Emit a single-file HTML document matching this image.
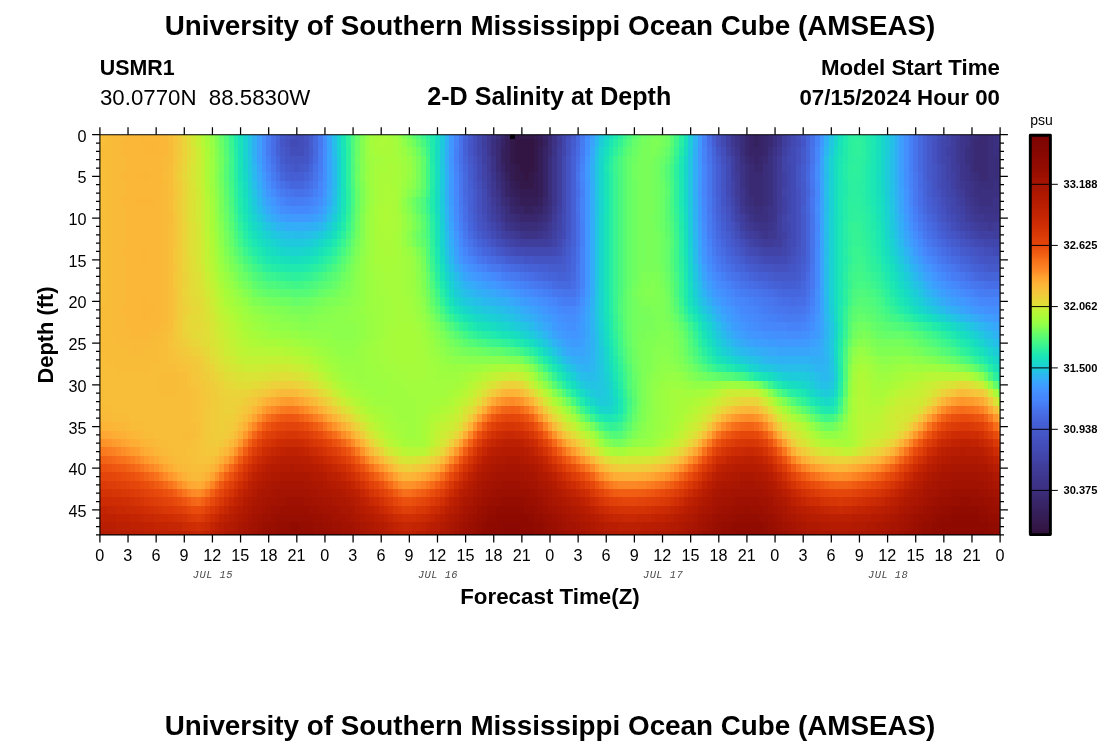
<!DOCTYPE html>
<html><head><meta charset="utf-8"><title>USM Ocean Cube</title>
<style>
html,body{margin:0;padding:0;background:#fff;}
body{width:1100px;height:750px;position:relative;overflow:hidden;font-family:"Liberation Sans",sans-serif;color:#000;}
.t{position:absolute;white-space:nowrap;line-height:1;}
.b{font-weight:bold;}
.m{font-family:"Liberation Mono",monospace;font-style:italic;color:#4a4a4a;letter-spacing:0.45px;}
svg{position:absolute;left:0;top:0;}
</style></head><body>
<svg width="1100" height="750" viewBox="0 0 1100 750">
<defs><linearGradient id="cb" x1="0" y1="0" x2="0" y2="1"><stop offset="0.0000" stop-color="#7a0403"/><stop offset="0.0125" stop-color="#7e0502"/><stop offset="0.0250" stop-color="#810602"/><stop offset="0.0375" stop-color="#850702"/><stop offset="0.0500" stop-color="#880802"/><stop offset="0.0625" stop-color="#8b0902"/><stop offset="0.0750" stop-color="#920b01"/><stop offset="0.0875" stop-color="#950d01"/><stop offset="0.1000" stop-color="#9b0f01"/><stop offset="0.1125" stop-color="#a11201"/><stop offset="0.1250" stop-color="#a71401"/><stop offset="0.1375" stop-color="#a91601"/><stop offset="0.1500" stop-color="#af1801"/><stop offset="0.1625" stop-color="#b41b01"/><stop offset="0.1750" stop-color="#b91e02"/><stop offset="0.1875" stop-color="#be2102"/><stop offset="0.2000" stop-color="#c32503"/><stop offset="0.2125" stop-color="#c82803"/><stop offset="0.2250" stop-color="#ce2d04"/><stop offset="0.2375" stop-color="#d43305"/><stop offset="0.2500" stop-color="#da3907"/><stop offset="0.2625" stop-color="#df3f08"/><stop offset="0.2750" stop-color="#e4450a"/><stop offset="0.2875" stop-color="#ec530f"/><stop offset="0.3000" stop-color="#f26014"/><stop offset="0.3125" stop-color="#f76f1a"/><stop offset="0.3250" stop-color="#fa7b1f"/><stop offset="0.3375" stop-color="#fc8725"/><stop offset="0.3500" stop-color="#fe992c"/><stop offset="0.3625" stop-color="#fea933"/><stop offset="0.3750" stop-color="#fbb637"/><stop offset="0.3875" stop-color="#f7c13a"/><stop offset="0.4000" stop-color="#f1cb3a"/><stop offset="0.4125" stop-color="#e9d539"/><stop offset="0.4250" stop-color="#dfdf37"/><stop offset="0.4375" stop-color="#bef434"/><stop offset="0.4500" stop-color="#affa37"/><stop offset="0.4625" stop-color="#a1fd3d"/><stop offset="0.4750" stop-color="#8fff49"/><stop offset="0.4875" stop-color="#79fe59"/><stop offset="0.5000" stop-color="#61fc6c"/><stop offset="0.5125" stop-color="#4ef97d"/><stop offset="0.5250" stop-color="#3cf58e"/><stop offset="0.5375" stop-color="#2aefa1"/><stop offset="0.5500" stop-color="#1de7b2"/><stop offset="0.5625" stop-color="#18dec0"/><stop offset="0.5750" stop-color="#1ad4d0"/><stop offset="0.5875" stop-color="#20c7df"/><stop offset="0.6000" stop-color="#2cb7f0"/><stop offset="0.6125" stop-color="#35abf8"/><stop offset="0.6250" stop-color="#3d9efe"/><stop offset="0.6375" stop-color="#4294ff"/><stop offset="0.6500" stop-color="#458afc"/><stop offset="0.6625" stop-color="#4685fa"/><stop offset="0.6750" stop-color="#467df4"/><stop offset="0.6875" stop-color="#4773eb"/><stop offset="0.7000" stop-color="#466be3"/><stop offset="0.7125" stop-color="#4664da"/><stop offset="0.7250" stop-color="#455ed3"/><stop offset="0.7375" stop-color="#4559cb"/><stop offset="0.7500" stop-color="#4456c7"/><stop offset="0.7625" stop-color="#4451bf"/><stop offset="0.7750" stop-color="#434eba"/><stop offset="0.7875" stop-color="#424bb5"/><stop offset="0.8000" stop-color="#4146ac"/><stop offset="0.8125" stop-color="#4143a7"/><stop offset="0.8250" stop-color="#3f3e9c"/><stop offset="0.8375" stop-color="#3f3b97"/><stop offset="0.8500" stop-color="#3e3891"/><stop offset="0.8625" stop-color="#3d358b"/><stop offset="0.8750" stop-color="#3c3286"/><stop offset="0.8875" stop-color="#3b2f80"/><stop offset="0.9000" stop-color="#392a73"/><stop offset="0.9125" stop-color="#38276d"/><stop offset="0.9250" stop-color="#372466"/><stop offset="0.9375" stop-color="#36215f"/><stop offset="0.9500" stop-color="#351e58"/><stop offset="0.9625" stop-color="#341b51"/><stop offset="0.9750" stop-color="#33184a"/><stop offset="0.9875" stop-color="#321543"/><stop offset="1.0000" stop-color="#30123b"/></linearGradient>
<clipPath id="pc"><rect x="99.90" y="134.70" width="900.20" height="400.20"/></clipPath></defs>
<g clip-path="url(#pc)"><g transform="translate(97.556,130.531) scale(4.68854,8.33750)" shape-rendering="crispEdges">
<path fill="#321543" d="M89 1h4v1h-4zM89 2h4v1h-4zM89 3h4v1h-4zM90 4h3v1h-3zM91 5h1v1h-1z"/>
<path fill="#33184a" d="M89 0h4v1h-4zM88 1h1v1h-1zM93 1h1v1h-1zM88 2h1v1h-1zM93 2h1v1h-1zM88 3h1v1h-1zM93 3h1v1h-1zM89 4h1v1h-1zM93 4h1v1h-1zM89 5h2v1h-2zM92 5h1v1h-1zM90 6h3v1h-3z"/>
<path fill="#341b51" d="M88 0h1v1h-1zM93 0h1v1h-1zM94 1h1v1h-1zM88 4h1v1h-1zM88 5h1v1h-1zM93 5h1v1h-1zM89 6h1v1h-1zM93 6h1v1h-1zM90 7h4v1h-4z"/>
<path fill="#351e58" d="M94 0h1v1h-1zM87 1h1v1h-1zM87 2h1v1h-1zM94 2h1v1h-1zM87 3h1v1h-1zM94 3h1v1h-1zM87 4h1v1h-1zM94 4h1v1h-1zM94 5h1v1h-1zM88 6h1v1h-1zM94 6h1v1h-1zM89 7h1v1h-1zM94 7h1v1h-1zM90 8h4v1h-4z"/>
<path fill="#36215f" d="M87 0h1v1h-1zM140 0h1v1h-1zM95 1h1v1h-1zM140 1h1v1h-1zM86 2h1v1h-1zM86 3h1v1h-1zM87 5h1v1h-1zM88 7h1v1h-1zM89 8h1v1h-1zM94 8h1v1h-1zM91 9h2v1h-2z"/>
<path fill="#372466" d="M95 0h1v1h-1zM139 0h1v1h-1zM141 0h1v1h-1zM86 1h1v1h-1zM139 1h1v1h-1zM141 1h1v1h-1zM95 2h1v1h-1zM139 2h3v1h-3zM95 3h1v1h-1zM140 3h1v1h-1zM86 4h1v1h-1zM95 4h1v1h-1zM95 5h1v1h-1zM87 6h1v1h-1zM95 6h1v1h-1zM87 7h1v1h-1zM95 7h1v1h-1zM88 8h1v1h-1zM89 9h2v1h-2zM93 9h2v1h-2z"/>
<path fill="#38276d" d="M86 0h1v1h-1zM138 0h1v1h-1zM142 0h1v1h-1zM138 1h1v1h-1zM142 1h1v1h-1zM138 2h1v1h-1zM142 2h1v1h-1zM139 3h1v1h-1zM141 3h1v1h-1zM140 4h2v1h-2zM86 5h1v1h-1zM95 8h1v1h-1zM88 9h1v1h-1zM90 10h4v1h-4z"/>
<path fill="#392a73" d="M96 0h1v1h-1zM143 0h1v1h-1zM188 0h2v1h-2zM85 1h1v1h-1zM96 1h1v1h-1zM143 1h1v1h-1zM187 1h3v1h-3zM85 2h1v1h-1zM96 2h1v1h-1zM187 2h3v1h-3zM85 3h1v1h-1zM138 3h1v1h-1zM142 3h1v1h-1zM187 3h3v1h-3zM85 4h1v1h-1zM139 4h1v1h-1zM187 4h3v1h-3zM139 5h3v1h-3zM188 5h2v1h-2zM86 6h1v1h-1zM139 6h3v1h-3zM86 7h1v1h-1zM139 7h3v1h-3zM87 8h1v1h-1zM140 8h2v1h-2zM95 9h1v1h-1zM89 10h1v1h-1zM94 10h1v1h-1z"/>
<path fill="#3a2d79" d="M85 0h1v1h-1zM137 0h1v1h-1zM187 0h1v1h-1zM190 0h1v1h-1zM137 1h1v1h-1zM186 1h1v1h-1zM190 1h1v1h-1zM137 2h1v1h-1zM143 2h1v1h-1zM186 2h1v1h-1zM190 2h1v1h-1zM96 3h1v1h-1zM186 3h1v1h-1zM190 3h2v1h-2zM96 4h1v1h-1zM138 4h1v1h-1zM142 4h1v1h-1zM186 4h1v1h-1zM190 4h2v1h-2zM85 5h1v1h-1zM96 5h1v1h-1zM138 5h1v1h-1zM142 5h1v1h-1zM187 5h1v1h-1zM190 5h2v1h-2zM96 6h1v1h-1zM138 6h1v1h-1zM142 6h1v1h-1zM188 6h3v1h-3zM96 7h1v1h-1zM142 7h1v1h-1zM86 8h1v1h-1zM96 8h1v1h-1zM139 8h1v1h-1zM142 8h1v1h-1zM87 9h1v1h-1zM140 9h2v1h-2zM88 10h1v1h-1zM95 10h1v1h-1zM90 11h4v1h-4z"/>
<path fill="#3b2f80" d="M144 0h1v1h-1zM186 0h1v1h-1zM191 0h1v1h-1zM84 1h1v1h-1zM144 1h1v1h-1zM191 1h1v1h-1zM84 2h1v1h-1zM185 2h1v1h-1zM191 2h2v1h-2zM137 3h1v1h-1zM143 3h1v1h-1zM185 3h1v1h-1zM192 3h1v1h-1zM143 4h1v1h-1zM192 4h1v1h-1zM143 5h1v1h-1zM186 5h1v1h-1zM192 5h1v1h-1zM85 6h1v1h-1zM143 6h1v1h-1zM187 6h1v1h-1zM191 6h2v1h-2zM138 7h1v1h-1zM143 7h1v1h-1zM187 7h5v1h-5zM138 8h1v1h-1zM143 8h1v1h-1zM188 8h3v1h-3zM96 9h1v1h-1zM139 9h1v1h-1zM142 9h1v1h-1zM87 10h1v1h-1zM140 10h3v1h-3zM89 11h1v1h-1zM94 11h1v1h-1z"/>
<path fill="#3c3286" d="M84 0h1v1h-1zM97 0h1v1h-1zM136 0h1v1h-1zM185 0h1v1h-1zM192 0h1v1h-1zM97 1h1v1h-1zM136 1h1v1h-1zM185 1h1v1h-1zM192 1h1v1h-1zM97 2h1v1h-1zM144 2h1v1h-1zM84 3h1v1h-1zM84 4h1v1h-1zM137 4h1v1h-1zM185 4h1v1h-1zM137 5h1v1h-1zM185 5h1v1h-1zM137 6h1v1h-1zM186 6h1v1h-1zM85 7h1v1h-1zM186 7h1v1h-1zM192 7h1v1h-1zM187 8h1v1h-1zM191 8h2v1h-2zM86 9h1v1h-1zM138 9h1v1h-1zM143 9h1v1h-1zM188 9h4v1h-4zM96 10h1v1h-1zM139 10h1v1h-1zM143 10h1v1h-1zM88 11h1v1h-1zM95 11h1v1h-1zM141 11h2v1h-2zM91 12h3v1h-3z"/>
<path fill="#3d358b" d="M145 0h1v1h-1zM184 0h1v1h-1zM145 1h1v1h-1zM184 1h1v1h-1zM136 2h1v1h-1zM184 2h1v1h-1zM97 3h1v1h-1zM144 3h1v1h-1zM184 3h1v1h-1zM97 4h1v1h-1zM144 4h1v1h-1zM184 4h1v1h-1zM84 5h1v1h-1zM97 5h1v1h-1zM144 5h1v1h-1zM184 5h1v1h-1zM97 6h1v1h-1zM144 6h1v1h-1zM185 6h1v1h-1zM97 7h1v1h-1zM137 7h1v1h-1zM144 7h1v1h-1zM185 7h1v1h-1zM85 8h1v1h-1zM97 8h1v1h-1zM137 8h1v1h-1zM144 8h1v1h-1zM186 8h1v1h-1zM144 9h1v1h-1zM187 9h1v1h-1zM192 9h1v1h-1zM86 10h1v1h-1zM144 10h1v1h-1zM189 10h4v1h-4zM87 11h1v1h-1zM140 11h1v1h-1zM143 11h1v1h-1zM90 12h1v1h-1zM94 12h1v1h-1zM142 12h1v1h-1z"/>
<path fill="#3e3891" d="M83 0h1v1h-1zM135 0h1v1h-1zM83 1h1v1h-1zM135 1h1v1h-1zM183 1h1v1h-1zM83 2h1v1h-1zM145 2h1v1h-1zM183 2h1v1h-1zM136 3h1v1h-1zM183 3h1v1h-1zM136 4h1v1h-1zM84 6h1v1h-1zM184 6h1v1h-1zM84 7h1v1h-1zM185 8h1v1h-1zM85 9h1v1h-1zM97 9h1v1h-1zM137 9h1v1h-1zM186 9h1v1h-1zM138 10h1v1h-1zM187 10h2v1h-2zM96 11h1v1h-1zM139 11h1v1h-1zM144 11h1v1h-1zM190 11h1v1h-1zM89 12h1v1h-1zM95 12h1v1h-1zM141 12h1v1h-1zM143 12h2v1h-2z"/>
<path fill="#3f3b97" d="M183 0h1v1h-1zM98 1h1v1h-1zM135 2h1v1h-1zM83 3h1v1h-1zM145 3h1v1h-1zM83 4h1v1h-1zM145 4h1v1h-1zM183 4h1v1h-1zM136 5h1v1h-1zM145 5h1v1h-1zM183 5h1v1h-1zM136 6h1v1h-1zM145 6h1v1h-1zM183 6h1v1h-1zM136 7h1v1h-1zM145 7h1v1h-1zM184 7h1v1h-1zM84 8h1v1h-1zM145 8h1v1h-1zM145 9h1v1h-1zM185 9h1v1h-1zM85 10h1v1h-1zM97 10h1v1h-1zM186 10h1v1h-1zM86 11h1v1h-1zM138 11h1v1h-1zM188 11h2v1h-2zM191 11h2v1h-2zM88 12h1v1h-1zM96 12h1v1h-1zM140 12h1v1h-1zM142 13h2v1h-2z"/>
<path fill="#3f3e9c" d="M98 0h1v1h-1zM146 0h1v1h-1zM182 0h1v1h-1zM82 1h1v1h-1zM146 1h1v1h-1zM182 1h1v1h-1zM98 2h1v1h-1zM182 2h1v1h-1zM98 3h1v1h-1zM182 3h1v1h-1zM98 4h1v1h-1zM182 4h1v1h-1zM83 5h1v1h-1zM98 5h1v1h-1zM83 6h1v1h-1zM98 6h1v1h-1zM98 7h1v1h-1zM183 7h1v1h-1zM98 8h1v1h-1zM136 8h1v1h-1zM184 8h1v1h-1zM84 9h1v1h-1zM137 10h1v1h-1zM145 10h1v1h-1zM185 10h1v1h-1zM97 11h1v1h-1zM145 11h1v1h-1zM187 11h1v1h-1zM87 12h1v1h-1zM139 12h1v1h-1zM145 12h1v1h-1zM191 12h2v1h-2zM90 13h6v1h-6zM141 13h1v1h-1zM144 13h2v1h-2z"/>
<path fill="#4040a2" d="M82 0h1v1h-1zM134 0h1v1h-1zM134 1h1v1h-1zM82 2h1v1h-1zM146 2h1v1h-1zM181 2h1v1h-1zM82 3h1v1h-1zM135 3h1v1h-1zM135 4h1v1h-1zM135 5h1v1h-1zM146 5h1v1h-1zM182 5h1v1h-1zM146 6h1v1h-1zM182 6h1v1h-1zM83 7h1v1h-1zM146 8h1v1h-1zM183 8h1v1h-1zM98 9h1v1h-1zM136 9h1v1h-1zM146 9h1v1h-1zM184 9h1v1h-1zM84 10h1v1h-1zM85 11h1v1h-1zM137 11h1v1h-1zM186 11h1v1h-1zM86 12h1v1h-1zM97 12h1v1h-1zM138 12h1v1h-1zM146 12h1v1h-1zM188 12h3v1h-3zM89 13h1v1h-1zM96 13h1v1h-1zM140 13h1v1h-1z"/>
<path fill="#4143a7" d="M147 0h1v1h-1zM181 0h1v1h-1zM147 1h1v1h-1zM181 1h1v1h-1zM134 2h1v1h-1zM146 3h1v1h-1zM181 3h1v1h-1zM82 4h1v1h-1zM146 4h1v1h-1zM181 4h1v1h-1zM82 5h1v1h-1zM181 5h1v1h-1zM135 6h1v1h-1zM135 7h1v1h-1zM146 7h1v1h-1zM182 7h1v1h-1zM83 8h1v1h-1zM83 9h1v1h-1zM183 9h1v1h-1zM98 10h1v1h-1zM136 10h1v1h-1zM146 10h1v1h-1zM184 10h1v1h-1zM98 11h1v1h-1zM146 11h1v1h-1zM185 11h1v1h-1zM187 12h1v1h-1zM88 13h1v1h-1zM97 13h1v1h-1zM139 13h1v1h-1zM146 13h1v1h-1zM142 14h4v1h-4z"/>
<path fill="#4146ac" d="M81 0h1v1h-1zM99 0h1v1h-1zM81 1h1v1h-1zM99 1h1v1h-1zM180 1h1v1h-1zM81 2h1v1h-1zM99 2h1v1h-1zM147 2h1v1h-1zM180 2h1v1h-1zM180 3h1v1h-1zM147 4h1v1h-1zM147 5h1v1h-1zM82 6h1v1h-1zM147 6h1v1h-1zM181 6h1v1h-1zM147 7h1v1h-1zM181 7h1v1h-1zM135 8h1v1h-1zM147 8h1v1h-1zM182 8h1v1h-1zM147 9h1v1h-1zM182 9h1v1h-1zM83 10h1v1h-1zM183 10h1v1h-1zM84 11h1v1h-1zM147 11h1v1h-1zM184 11h1v1h-1zM85 12h1v1h-1zM98 12h1v1h-1zM137 12h1v1h-1zM147 12h1v1h-1zM186 12h1v1h-1zM87 13h1v1h-1zM189 13h4v1h-4zM141 14h1v1h-1zM146 14h1v1h-1z"/>
<path fill="#4249b1" d="M133 0h1v1h-1zM148 0h1v1h-1zM180 0h1v1h-1zM133 1h1v1h-1zM148 1h1v1h-1zM81 3h1v1h-1zM99 3h1v1h-1zM134 3h1v1h-1zM147 3h1v1h-1zM99 4h1v1h-1zM180 4h1v1h-1zM99 5h1v1h-1zM180 5h1v1h-1zM99 6h1v1h-1zM180 6h1v1h-1zM82 7h1v1h-1zM99 7h1v1h-1zM82 8h1v1h-1zM99 8h1v1h-1zM181 8h1v1h-1zM99 9h1v1h-1zM135 9h1v1h-1zM147 10h1v1h-1zM136 11h1v1h-1zM185 12h1v1h-1zM98 13h1v1h-1zM138 13h1v1h-1zM147 13h1v1h-1zM188 13h1v1h-1zM91 14h6v1h-6zM140 14h1v1h-1zM147 14h1v1h-1zM144 15h1v1h-1z"/>
<path fill="#424bb5" d="M41 1h2v1h-2zM179 1h1v1h-1zM148 2h1v1h-1zM179 2h1v1h-1zM148 3h1v1h-1zM179 3h1v1h-1zM81 4h1v1h-1zM134 4h1v1h-1zM148 4h1v1h-1zM81 5h1v1h-1zM134 5h1v1h-1zM148 5h1v1h-1zM134 6h1v1h-1zM148 6h1v1h-1zM134 7h1v1h-1zM148 7h1v1h-1zM180 7h1v1h-1zM148 8h1v1h-1zM82 9h1v1h-1zM148 9h1v1h-1zM181 9h1v1h-1zM99 10h1v1h-1zM135 10h1v1h-1zM148 10h1v1h-1zM182 10h1v1h-1zM83 11h1v1h-1zM99 11h1v1h-1zM148 11h1v1h-1zM183 11h1v1h-1zM84 12h1v1h-1zM99 12h1v1h-1zM148 12h1v1h-1zM86 13h1v1h-1zM148 13h1v1h-1zM187 13h1v1h-1zM89 14h2v1h-2zM97 14h1v1h-1zM139 14h1v1h-1zM191 14h2v1h-2zM142 15h2v1h-2zM145 15h2v1h-2z"/>
<path fill="#434eba" d="M42 0h2v1h-2zM80 0h1v1h-1zM100 0h1v1h-1zM179 0h1v1h-1zM43 1h1v1h-1zM80 1h1v1h-1zM149 1h1v1h-1zM41 2h3v1h-3zM80 2h1v1h-1zM133 2h1v1h-1zM179 4h1v1h-1zM179 5h1v1h-1zM81 6h1v1h-1zM179 6h1v1h-1zM134 8h1v1h-1zM180 8h1v1h-1zM82 10h1v1h-1zM181 10h1v1h-1zM182 11h1v1h-1zM136 12h1v1h-1zM184 12h1v1h-1zM85 13h1v1h-1zM137 13h1v1h-1zM186 13h1v1h-1zM88 14h1v1h-1zM98 14h1v1h-1zM138 14h1v1h-1zM148 14h1v1h-1zM189 14h2v1h-2zM141 15h1v1h-1zM147 15h1v1h-1z"/>
<path fill="#4451bf" d="M41 0h1v1h-1zM132 0h1v1h-1zM149 0h1v1h-1zM40 1h1v1h-1zM44 1h1v1h-1zM100 1h1v1h-1zM132 1h1v1h-1zM178 1h1v1h-1zM100 2h1v1h-1zM149 2h1v1h-1zM178 2h1v1h-1zM80 3h1v1h-1zM133 3h1v1h-1zM149 3h1v1h-1zM178 3h1v1h-1zM81 7h1v1h-1zM149 7h1v1h-1zM179 7h1v1h-1zM81 8h1v1h-1zM149 8h1v1h-1zM81 9h1v1h-1zM134 9h1v1h-1zM149 9h1v1h-1zM180 9h1v1h-1zM149 10h1v1h-1zM82 11h1v1h-1zM135 11h1v1h-1zM149 11h1v1h-1zM83 12h1v1h-1zM149 12h1v1h-1zM183 12h1v1h-1zM99 13h1v1h-1zM149 13h1v1h-1zM185 13h1v1h-1zM87 14h1v1h-1zM188 14h1v1h-1zM140 15h1v1h-1zM148 15h1v1h-1zM144 16h3v1h-3z"/>
<path fill="#4454c3" d="M40 0h1v1h-1zM44 0h1v1h-1zM178 0h1v1h-1zM40 2h1v1h-1zM44 2h1v1h-1zM41 3h3v1h-3zM100 3h1v1h-1zM80 4h1v1h-1zM100 4h1v1h-1zM133 4h1v1h-1zM149 4h1v1h-1zM178 4h1v1h-1zM80 5h1v1h-1zM100 5h1v1h-1zM133 5h1v1h-1zM149 5h1v1h-1zM178 5h1v1h-1zM100 6h1v1h-1zM133 6h1v1h-1zM149 6h1v1h-1zM178 6h1v1h-1zM100 7h1v1h-1zM100 8h1v1h-1zM179 8h1v1h-1zM100 9h1v1h-1zM81 10h1v1h-1zM100 10h1v1h-1zM134 10h1v1h-1zM180 10h1v1h-1zM100 11h1v1h-1zM181 11h1v1h-1zM135 12h1v1h-1zM84 13h1v1h-1zM136 13h1v1h-1zM184 13h1v1h-1zM99 14h1v1h-1zM137 14h1v1h-1zM149 14h1v1h-1zM187 14h1v1h-1zM93 15h5v1h-5zM139 15h1v1h-1zM189 15h4v1h-4zM142 16h2v1h-2zM147 16h1v1h-1z"/>
<path fill="#4456c7" d="M39 1h1v1h-1zM79 1h1v1h-1zM150 1h1v1h-1zM79 2h1v1h-1zM132 2h1v1h-1zM40 3h1v1h-1zM44 3h1v1h-1zM42 4h1v1h-1zM80 6h1v1h-1zM133 7h1v1h-1zM178 7h1v1h-1zM133 8h1v1h-1zM179 9h1v1h-1zM81 11h1v1h-1zM134 11h1v1h-1zM82 12h1v1h-1zM100 12h1v1h-1zM182 12h1v1h-1zM86 14h1v1h-1zM186 14h1v1h-1zM91 15h2v1h-2zM98 15h1v1h-1zM138 15h1v1h-1zM149 15h1v1h-1zM188 15h1v1h-1zM141 16h1v1h-1zM148 16h1v1h-1z"/>
<path fill="#4559cb" d="M39 0h1v1h-1zM79 0h1v1h-1zM101 0h1v1h-1zM150 0h1v1h-1zM177 0h1v1h-1zM177 1h1v1h-1zM39 2h1v1h-1zM150 2h1v1h-1zM177 2h1v1h-1zM79 3h1v1h-1zM150 3h1v1h-1zM177 3h1v1h-1zM41 4h1v1h-1zM43 4h1v1h-1zM177 4h1v1h-1zM177 5h1v1h-1zM150 6h1v1h-1zM80 7h1v1h-1zM150 7h1v1h-1zM80 8h1v1h-1zM150 8h1v1h-1zM178 8h1v1h-1zM80 9h1v1h-1zM133 9h1v1h-1zM150 10h1v1h-1zM179 10h1v1h-1zM150 11h1v1h-1zM180 11h1v1h-1zM150 12h1v1h-1zM181 12h1v1h-1zM83 13h1v1h-1zM100 13h1v1h-1zM135 13h1v1h-1zM150 13h1v1h-1zM183 13h1v1h-1zM85 14h1v1h-1zM136 14h1v1h-1zM150 14h1v1h-1zM185 14h1v1h-1zM89 15h2v1h-2zM99 15h1v1h-1zM187 15h1v1h-1zM140 16h1v1h-1zM149 16h1v1h-1zM190 16h3v1h-3zM144 17h5v1h-5z"/>
<path fill="#455ccf" d="M45 0h1v1h-1zM131 0h1v1h-1zM45 1h1v1h-1zM101 1h1v1h-1zM45 2h1v1h-1zM39 3h1v1h-1zM132 3h1v1h-1zM40 4h1v1h-1zM44 4h1v1h-1zM79 4h1v1h-1zM150 4h1v1h-1zM79 5h1v1h-1zM150 5h1v1h-1zM177 6h1v1h-1zM177 7h1v1h-1zM150 9h1v1h-1zM178 9h1v1h-1zM80 10h1v1h-1zM133 10h1v1h-1zM81 12h1v1h-1zM134 12h1v1h-1zM182 13h1v1h-1zM100 14h1v1h-1zM184 14h1v1h-1zM88 15h1v1h-1zM137 15h1v1h-1zM150 15h1v1h-1zM186 15h1v1h-1zM96 16h4v1h-4zM139 16h1v1h-1zM189 16h1v1h-1zM143 17h1v1h-1zM149 17h1v1h-1z"/>
<path fill="#455ed3" d="M131 1h1v1h-1zM101 2h1v1h-1zM45 3h1v1h-1zM132 4h1v1h-1zM41 5h3v1h-3zM132 5h1v1h-1zM79 6h1v1h-1zM132 6h1v1h-1zM132 7h1v1h-1zM177 8h1v1h-1zM80 11h1v1h-1zM133 11h1v1h-1zM179 11h1v1h-1zM180 12h1v1h-1zM82 13h1v1h-1zM134 13h1v1h-1zM84 14h1v1h-1zM135 14h1v1h-1zM87 15h1v1h-1zM100 15h1v1h-1zM94 16h2v1h-2zM138 16h1v1h-1zM150 16h1v1h-1zM188 16h1v1h-1zM141 17h2v1h-2zM146 18h3v1h-3z"/>
<path fill="#4661d6" d="M176 0h1v1h-1zM38 1h1v1h-1zM78 1h1v1h-1zM176 1h1v1h-1zM38 2h1v1h-1zM78 2h1v1h-1zM176 2h1v1h-1zM101 3h1v1h-1zM176 3h1v1h-1zM39 4h1v1h-1zM101 4h1v1h-1zM176 4h1v1h-1zM40 5h1v1h-1zM101 5h1v1h-1zM176 5h1v1h-1zM101 6h1v1h-1zM79 7h1v1h-1zM101 7h1v1h-1zM79 8h1v1h-1zM101 8h1v1h-1zM132 8h1v1h-1zM79 9h1v1h-1zM101 9h1v1h-1zM132 9h1v1h-1zM177 9h1v1h-1zM101 10h1v1h-1zM178 10h1v1h-1zM101 11h1v1h-1zM101 12h1v1h-1zM133 12h1v1h-1zM101 13h1v1h-1zM181 13h1v1h-1zM183 14h1v1h-1zM136 15h1v1h-1zM185 15h1v1h-1zM92 16h2v1h-2zM100 16h1v1h-1zM187 16h1v1h-1zM98 17h2v1h-2zM140 17h1v1h-1zM150 17h1v1h-1zM144 18h2v1h-2zM149 18h1v1h-1z"/>
<path fill="#4664da" d="M38 0h1v1h-1zM78 0h1v1h-1zM151 0h1v1h-1zM151 1h1v1h-1zM131 2h1v1h-1zM151 2h1v1h-1zM78 3h1v1h-1zM151 3h1v1h-1zM45 4h1v1h-1zM44 5h1v1h-1zM176 6h1v1h-1zM151 7h1v1h-1zM176 7h1v1h-1zM79 10h1v1h-1zM132 10h1v1h-1zM151 10h1v1h-1zM151 11h1v1h-1zM80 12h1v1h-1zM151 12h1v1h-1zM179 12h1v1h-1zM81 13h1v1h-1zM151 13h1v1h-1zM83 14h1v1h-1zM101 14h1v1h-1zM134 14h1v1h-1zM151 14h1v1h-1zM182 14h1v1h-1zM86 15h1v1h-1zM135 15h1v1h-1zM151 15h1v1h-1zM184 15h1v1h-1zM91 16h1v1h-1zM137 16h1v1h-1zM186 16h1v1h-1zM96 17h2v1h-2zM100 17h1v1h-1zM139 17h1v1h-1zM189 17h4v1h-4zM143 18h1v1h-1z"/>
<path fill="#4666dd" d="M38 3h1v1h-1zM131 3h1v1h-1zM78 4h1v1h-1zM151 4h1v1h-1zM39 5h1v1h-1zM41 6h3v1h-3zM151 6h1v1h-1zM151 8h1v1h-1zM176 8h1v1h-1zM151 9h1v1h-1zM177 10h1v1h-1zM79 11h1v1h-1zM132 11h1v1h-1zM178 11h1v1h-1zM133 13h1v1h-1zM180 13h1v1h-1zM82 14h1v1h-1zM85 15h1v1h-1zM101 15h1v1h-1zM90 16h1v1h-1zM101 16h1v1h-1zM136 16h1v1h-1zM151 16h1v1h-1zM95 17h1v1h-1zM188 17h1v1h-1zM142 18h1v1h-1zM150 18h1v1h-1zM146 19h4v1h-4z"/>
<path fill="#4669e0" d="M46 0h1v1h-1zM102 0h1v1h-1zM175 0h1v1h-1zM46 1h1v1h-1zM102 1h1v1h-1zM175 1h1v1h-1zM46 2h1v1h-1zM175 2h1v1h-1zM175 3h1v1h-1zM38 4h1v1h-1zM131 4h1v1h-1zM175 4h1v1h-1zM45 5h1v1h-1zM78 5h1v1h-1zM131 5h1v1h-1zM151 5h1v1h-1zM78 6h1v1h-1zM131 6h1v1h-1zM78 7h1v1h-1zM131 7h1v1h-1zM176 9h1v1h-1zM132 12h1v1h-1zM181 14h1v1h-1zM134 15h1v1h-1zM183 15h1v1h-1zM89 16h1v1h-1zM185 16h1v1h-1zM94 17h1v1h-1zM101 17h1v1h-1zM138 17h1v1h-1zM187 17h1v1h-1zM98 18h3v1h-3zM141 18h1v1h-1zM145 19h1v1h-1zM150 19h1v1h-1z"/>
<path fill="#466be3" d="M130 0h1v1h-1zM102 2h1v1h-1zM46 3h1v1h-1zM175 5h1v1h-1zM40 6h1v1h-1zM44 6h1v1h-1zM175 6h1v1h-1zM78 8h1v1h-1zM131 8h1v1h-1zM131 9h1v1h-1zM177 11h1v1h-1zM79 12h1v1h-1zM178 12h1v1h-1zM80 13h1v1h-1zM179 13h1v1h-1zM133 14h1v1h-1zM84 15h1v1h-1zM182 15h1v1h-1zM88 16h1v1h-1zM135 16h1v1h-1zM184 16h1v1h-1zM93 17h1v1h-1zM137 17h1v1h-1zM151 17h1v1h-1zM97 18h1v1h-1zM140 18h1v1h-1zM144 19h1v1h-1zM148 20h1v1h-1z"/>
<path fill="#476ee6" d="M37 0h1v1h-1zM37 1h1v1h-1zM130 1h1v1h-1zM37 2h1v1h-1zM102 3h1v1h-1zM102 7h1v1h-1zM175 7h1v1h-1zM175 8h1v1h-1zM78 9h1v1h-1zM78 10h1v1h-1zM102 10h1v1h-1zM131 10h1v1h-1zM176 10h1v1h-1zM102 11h1v1h-1zM102 12h1v1h-1zM102 13h1v1h-1zM132 13h1v1h-1zM81 14h1v1h-1zM180 14h1v1h-1zM83 15h1v1h-1zM87 16h1v1h-1zM92 17h1v1h-1zM186 17h1v1h-1zM101 18h1v1h-1zM139 18h1v1h-1zM151 18h1v1h-1zM190 18h3v1h-3zM143 19h1v1h-1zM146 20h2v1h-2zM149 20h2v1h-2z"/>
<path fill="#4771e9" d="M152 0h1v1h-1zM77 1h1v1h-1zM152 1h1v1h-1zM77 2h1v1h-1zM130 2h1v1h-1zM37 3h1v1h-1zM77 3h1v1h-1zM46 4h1v1h-1zM102 4h1v1h-1zM38 5h1v1h-1zM39 6h1v1h-1zM45 6h1v1h-1zM102 6h1v1h-1zM42 7h2v1h-2zM102 8h1v1h-1zM102 9h1v1h-1zM175 9h1v1h-1zM131 11h1v1h-1zM177 12h1v1h-1zM178 13h1v1h-1zM102 14h1v1h-1zM132 14h1v1h-1zM102 15h1v1h-1zM133 15h1v1h-1zM181 15h1v1h-1zM86 16h1v1h-1zM134 16h1v1h-1zM183 16h1v1h-1zM91 17h1v1h-1zM136 17h1v1h-1zM185 17h1v1h-1zM96 18h1v1h-1zM138 18h1v1h-1zM189 18h1v1h-1zM142 19h1v1h-1zM151 19h1v1h-1zM145 20h1v1h-1z"/>
<path fill="#4773eb" d="M77 0h1v1h-1zM174 0h1v1h-1zM174 1h1v1h-1zM152 2h1v1h-1zM174 2h1v1h-1zM130 3h1v1h-1zM152 3h1v1h-1zM174 3h1v1h-1zM77 4h1v1h-1zM174 4h1v1h-1zM46 5h1v1h-1zM102 5h1v1h-1zM41 7h1v1h-1zM44 7h1v1h-1zM152 7h1v1h-1zM152 10h1v1h-1zM78 11h1v1h-1zM152 11h1v1h-1zM176 11h1v1h-1zM131 12h1v1h-1zM152 12h1v1h-1zM79 13h1v1h-1zM152 13h1v1h-1zM80 14h1v1h-1zM152 14h1v1h-1zM179 14h1v1h-1zM82 15h1v1h-1zM152 15h1v1h-1zM102 16h1v1h-1zM90 17h1v1h-1zM102 17h1v1h-1zM135 17h1v1h-1zM95 18h1v1h-1zM137 18h1v1h-1zM188 18h1v1h-1zM99 19h3v1h-3zM141 19h1v1h-1zM144 20h1v1h-1zM147 21h3v1h-3z"/>
<path fill="#4776ee" d="M37 4h1v1h-1zM130 4h1v1h-1zM152 4h1v1h-1zM77 5h1v1h-1zM130 5h1v1h-1zM174 5h1v1h-1zM77 6h1v1h-1zM130 6h1v1h-1zM152 6h1v1h-1zM40 7h1v1h-1zM130 7h1v1h-1zM152 8h1v1h-1zM152 9h1v1h-1zM175 10h1v1h-1zM131 13h1v1h-1zM180 15h1v1h-1zM85 16h1v1h-1zM133 16h1v1h-1zM152 16h1v1h-1zM182 16h1v1h-1zM184 17h1v1h-1zM94 18h1v1h-1zM102 18h1v1h-1zM187 18h1v1h-1zM98 19h1v1h-1zM140 19h1v1h-1zM143 20h1v1h-1zM151 20h1v1h-1zM145 21h2v1h-2zM150 21h1v1h-1z"/>
<path fill="#4778f0" d="M103 0h1v1h-1zM47 1h1v1h-1zM152 5h1v1h-1zM38 6h1v1h-1zM46 6h1v1h-1zM174 6h1v1h-1zM45 7h1v1h-1zM77 7h1v1h-1zM174 7h1v1h-1zM77 8h1v1h-1zM130 8h1v1h-1zM174 8h1v1h-1zM130 9h1v1h-1zM78 12h1v1h-1zM176 12h1v1h-1zM177 13h1v1h-1zM81 15h1v1h-1zM132 15h1v1h-1zM84 16h1v1h-1zM89 17h1v1h-1zM134 17h1v1h-1zM152 17h1v1h-1zM93 18h1v1h-1zM136 18h1v1h-1zM152 18h1v1h-1zM186 18h1v1h-1zM97 19h1v1h-1zM139 19h1v1h-1zM142 20h1v1h-1zM144 21h1v1h-1z"/>
<path fill="#477bf2" d="M47 0h1v1h-1zM36 1h1v1h-1zM103 1h1v1h-1zM36 2h1v1h-1zM47 2h1v1h-1zM47 3h1v1h-1zM37 5h1v1h-1zM39 7h1v1h-1zM77 9h1v1h-1zM130 10h1v1h-1zM130 11h1v1h-1zM175 11h1v1h-1zM79 14h1v1h-1zM131 14h1v1h-1zM178 14h1v1h-1zM179 15h1v1h-1zM181 16h1v1h-1zM88 17h1v1h-1zM183 17h1v1h-1zM92 18h1v1h-1zM102 19h1v1h-1zM138 19h1v1h-1zM189 19h4v1h-4zM141 20h1v1h-1zM143 21h1v1h-1zM151 21h1v1h-1zM146 22h4v1h-4z"/>
<path fill="#467df4" d="M36 0h1v1h-1zM103 2h1v1h-1zM47 4h1v1h-1zM41 8h3v1h-3zM174 9h1v1h-1zM77 10h1v1h-1zM130 12h1v1h-1zM78 13h1v1h-1zM83 16h1v1h-1zM132 16h1v1h-1zM87 17h1v1h-1zM182 17h1v1h-1zM135 18h1v1h-1zM185 18h1v1h-1zM96 19h1v1h-1zM137 19h1v1h-1zM152 19h1v1h-1zM188 19h1v1h-1zM99 20h3v1h-3zM140 20h1v1h-1zM142 21h1v1h-1zM145 22h1v1h-1zM150 22h1v1h-1z"/>
<path fill="#4680f6" d="M173 0h1v1h-1zM129 1h1v1h-1zM173 1h1v1h-1zM76 2h1v1h-1zM173 2h1v1h-1zM36 3h1v1h-1zM76 3h1v1h-1zM103 3h1v1h-1zM173 3h1v1h-1zM173 4h1v1h-1zM47 5h1v1h-1zM46 7h1v1h-1zM103 7h1v1h-1zM40 8h1v1h-1zM44 8h1v1h-1zM174 10h1v1h-1zM77 11h1v1h-1zM103 11h1v1h-1zM103 12h1v1h-1zM103 13h1v1h-1zM176 13h1v1h-1zM177 14h1v1h-1zM80 15h1v1h-1zM131 15h1v1h-1zM180 16h1v1h-1zM86 17h1v1h-1zM133 17h1v1h-1zM91 18h1v1h-1zM184 18h1v1h-1zM95 19h1v1h-1zM136 19h1v1h-1zM187 19h1v1h-1zM98 20h1v1h-1zM139 20h1v1h-1zM152 20h1v1h-1zM141 21h1v1h-1zM143 22h2v1h-2z"/>
<path fill="#4682f8" d="M129 0h1v1h-1zM153 0h1v1h-1zM76 1h1v1h-1zM153 1h1v1h-1zM129 2h1v1h-1zM129 3h1v1h-1zM36 4h1v1h-1zM76 4h1v1h-1zM103 4h1v1h-1zM173 5h1v1h-1zM37 6h1v1h-1zM103 6h1v1h-1zM173 6h1v1h-1zM38 7h1v1h-1zM45 8h1v1h-1zM103 8h1v1h-1zM103 9h1v1h-1zM103 10h1v1h-1zM175 12h1v1h-1zM130 13h1v1h-1zM103 14h1v1h-1zM103 15h1v1h-1zM178 15h1v1h-1zM82 16h1v1h-1zM103 16h1v1h-1zM103 17h1v1h-1zM181 17h1v1h-1zM90 18h1v1h-1zM103 18h1v1h-1zM134 18h1v1h-1zM94 19h1v1h-1zM102 20h1v1h-1zM138 20h1v1h-1zM140 21h1v1h-1zM142 22h1v1h-1zM151 22h1v1h-1zM147 23h3v1h-3z"/>
<path fill="#4685fa" d="M76 0h1v1h-1zM129 4h1v1h-1zM76 5h1v1h-1zM103 5h1v1h-1zM129 5h1v1h-1zM47 6h1v1h-1zM129 6h1v1h-1zM129 7h1v1h-1zM173 7h1v1h-1zM39 8h1v1h-1zM173 8h1v1h-1zM174 11h1v1h-1zM77 12h1v1h-1zM78 14h1v1h-1zM130 14h1v1h-1zM79 15h1v1h-1zM131 16h1v1h-1zM179 16h1v1h-1zM85 17h1v1h-1zM132 17h1v1h-1zM89 18h1v1h-1zM183 18h1v1h-1zM93 19h1v1h-1zM135 19h1v1h-1zM186 19h1v1h-1zM97 20h1v1h-1zM137 20h1v1h-1zM190 20h3v1h-3zM139 21h1v1h-1zM152 21h1v1h-1zM141 22h1v1h-1zM144 23h3v1h-3zM150 23h1v1h-1z"/>
<path fill="#4687fb" d="M153 2h1v1h-1zM153 3h1v1h-1zM76 6h1v1h-1zM47 7h1v1h-1zM76 7h1v1h-1zM153 7h1v1h-1zM46 8h1v1h-1zM129 8h1v1h-1zM153 11h1v1h-1zM153 13h1v1h-1zM176 14h1v1h-1zM81 16h1v1h-1zM133 18h1v1h-1zM103 19h1v1h-1zM185 19h1v1h-1zM96 20h1v1h-1zM136 20h1v1h-1zM188 20h2v1h-2zM99 21h3v1h-3zM138 21h1v1h-1zM140 22h1v1h-1zM142 23h2v1h-2z"/>
<path fill="#458afc" d="M104 0h1v1h-1zM36 5h1v1h-1zM153 6h1v1h-1zM76 8h1v1h-1zM153 8h1v1h-1zM41 9h4v1h-4zM76 9h1v1h-1zM129 9h1v1h-1zM173 9h1v1h-1zM129 10h1v1h-1zM153 10h1v1h-1zM153 12h1v1h-1zM77 13h1v1h-1zM175 13h1v1h-1zM153 14h1v1h-1zM130 15h1v1h-1zM153 15h1v1h-1zM177 15h1v1h-1zM153 16h1v1h-1zM84 17h1v1h-1zM153 17h1v1h-1zM180 17h1v1h-1zM88 18h1v1h-1zM153 18h1v1h-1zM182 18h1v1h-1zM92 19h1v1h-1zM134 19h1v1h-1zM98 21h1v1h-1zM137 21h1v1h-1zM139 22h1v1h-1zM152 22h1v1h-1zM141 23h1v1h-1zM151 23h1v1h-1z"/>
<path fill="#458cfd" d="M35 0h1v1h-1zM35 1h1v1h-1zM48 1h1v1h-1zM35 2h1v1h-1zM48 2h1v1h-1zM153 4h1v1h-1zM153 5h1v1h-1zM37 7h1v1h-1zM38 8h1v1h-1zM40 9h1v1h-1zM45 9h1v1h-1zM153 9h1v1h-1zM76 10h1v1h-1zM173 10h1v1h-1zM129 11h1v1h-1zM174 12h1v1h-1zM78 15h1v1h-1zM80 16h1v1h-1zM178 16h1v1h-1zM131 17h1v1h-1zM87 18h1v1h-1zM132 18h1v1h-1zM91 19h1v1h-1zM184 19h1v1h-1zM95 20h1v1h-1zM135 20h1v1h-1zM187 20h1v1h-1zM102 21h1v1h-1zM100 22h2v1h-2zM138 22h1v1h-1zM140 23h1v1h-1zM147 24h3v1h-3z"/>
<path fill="#448ffe" d="M48 0h1v1h-1zM172 0h1v1h-1zM104 1h1v1h-1zM172 1h1v1h-1zM172 2h1v1h-1zM35 3h1v1h-1zM48 3h1v1h-1zM172 3h1v1h-1zM48 4h1v1h-1zM172 4h1v1h-1zM48 5h1v1h-1zM172 5h1v1h-1zM36 6h1v1h-1zM47 8h1v1h-1zM39 9h1v1h-1zM76 11h1v1h-1zM129 12h1v1h-1zM130 16h1v1h-1zM83 17h1v1h-1zM179 17h1v1h-1zM181 18h1v1h-1zM133 19h1v1h-1zM153 19h1v1h-1zM94 20h1v1h-1zM103 20h1v1h-1zM153 20h1v1h-1zM186 20h1v1h-1zM97 21h1v1h-1zM136 21h1v1h-1zM190 21h3v1h-3zM99 22h1v1h-1zM137 22h1v1h-1zM101 23h1v1h-1zM139 23h1v1h-1zM152 23h1v1h-1zM144 24h3v1h-3zM150 24h1v1h-1z"/>
<path fill="#4391fe" d="M104 2h1v1h-1zM35 4h1v1h-1zM48 6h1v1h-1zM172 6h1v1h-1zM46 9h1v1h-1zM173 11h1v1h-1zM129 13h1v1h-1zM77 14h1v1h-1zM175 14h1v1h-1zM176 15h1v1h-1zM79 16h1v1h-1zM82 17h1v1h-1zM86 18h1v1h-1zM90 19h1v1h-1zM183 19h1v1h-1zM134 20h1v1h-1zM96 21h1v1h-1zM153 21h1v1h-1zM189 21h1v1h-1zM98 22h1v1h-1zM102 22h1v1h-1zM100 23h1v1h-1zM138 23h1v1h-1zM142 24h2v1h-2zM151 24h1v1h-1z"/>
<path fill="#4294ff" d="M75 3h1v1h-1zM172 7h1v1h-1zM172 8h1v1h-1zM174 13h1v1h-1zM129 14h1v1h-1zM177 16h1v1h-1zM85 18h1v1h-1zM131 18h1v1h-1zM180 18h1v1h-1zM89 19h1v1h-1zM132 19h1v1h-1zM182 19h1v1h-1zM93 20h1v1h-1zM185 20h1v1h-1zM103 21h1v1h-1zM135 21h1v1h-1zM188 21h1v1h-1zM136 22h1v1h-1zM99 23h1v1h-1zM102 23h1v1h-1zM101 24h1v1h-1zM140 24h2v1h-2z"/>
<path fill="#4196ff" d="M154 0h1v1h-1zM75 1h1v1h-1zM75 2h1v1h-1zM128 2h1v1h-1zM104 3h1v1h-1zM128 3h1v1h-1zM75 4h1v1h-1zM104 6h1v1h-1zM128 6h1v1h-1zM36 7h1v1h-1zM48 7h1v1h-1zM104 7h1v1h-1zM128 7h1v1h-1zM37 8h1v1h-1zM104 8h1v1h-1zM38 9h1v1h-1zM104 9h1v1h-1zM172 9h1v1h-1zM104 10h1v1h-1zM104 11h1v1h-1zM76 12h1v1h-1zM104 12h1v1h-1zM104 13h1v1h-1zM104 14h1v1h-1zM77 15h1v1h-1zM104 15h1v1h-1zM129 15h1v1h-1zM104 16h1v1h-1zM81 17h1v1h-1zM104 17h1v1h-1zM130 17h1v1h-1zM178 17h1v1h-1zM104 18h1v1h-1zM92 20h1v1h-1zM133 20h1v1h-1zM95 21h1v1h-1zM187 21h1v1h-1zM97 22h1v1h-1zM153 22h1v1h-1zM192 22h1v1h-1zM98 23h1v1h-1zM137 23h1v1h-1zM100 24h1v1h-1zM102 24h1v1h-1zM139 24h1v1h-1zM152 24h1v1h-1z"/>
<path fill="#4099ff" d="M75 0h1v1h-1zM128 0h1v1h-1zM128 1h1v1h-1zM154 1h1v1h-1zM104 4h1v1h-1zM128 4h1v1h-1zM35 5h1v1h-1zM75 5h1v1h-1zM104 5h1v1h-1zM128 5h1v1h-1zM75 6h1v1h-1zM75 7h1v1h-1zM128 8h1v1h-1zM47 9h1v1h-1zM41 10h4v1h-4zM173 12h1v1h-1zM78 16h1v1h-1zM80 17h1v1h-1zM84 18h1v1h-1zM179 18h1v1h-1zM88 19h1v1h-1zM104 19h1v1h-1zM181 19h1v1h-1zM184 20h1v1h-1zM134 21h1v1h-1zM103 22h1v1h-1zM135 22h1v1h-1zM191 22h1v1h-1zM153 23h1v1h-1zM99 24h1v1h-1zM145 25h6v1h-6z"/>
<path fill="#3e9bfe" d="M48 8h1v1h-1zM75 8h1v1h-1zM128 9h1v1h-1zM40 10h1v1h-1zM45 10h1v1h-1zM128 10h1v1h-1zM172 10h1v1h-1zM76 13h1v1h-1zM174 14h1v1h-1zM175 15h1v1h-1zM176 16h1v1h-1zM83 18h1v1h-1zM131 19h1v1h-1zM91 20h1v1h-1zM183 20h1v1h-1zM94 21h1v1h-1zM186 21h1v1h-1zM96 22h1v1h-1zM97 23h1v1h-1zM103 23h1v1h-1zM136 23h1v1h-1zM103 24h1v1h-1zM138 24h1v1h-1zM153 24h1v1h-1zM101 25h2v1h-2zM143 25h2v1h-2zM151 25h1v1h-1z"/>
<path fill="#3d9efe" d="M34 0h1v1h-1zM105 0h1v1h-1zM171 0h1v1h-1zM34 1h1v1h-1zM171 1h1v1h-1zM34 2h1v1h-1zM154 2h1v1h-1zM171 2h1v1h-1zM34 3h1v1h-1zM171 3h1v1h-1zM171 4h1v1h-1zM35 6h1v1h-1zM37 9h1v1h-1zM75 9h1v1h-1zM39 10h1v1h-1zM128 11h1v1h-1zM173 13h1v1h-1zM129 16h1v1h-1zM79 17h1v1h-1zM177 17h1v1h-1zM130 18h1v1h-1zM87 19h1v1h-1zM90 20h1v1h-1zM104 20h1v1h-1zM132 20h1v1h-1zM190 22h1v1h-1zM98 24h1v1h-1zM137 24h1v1h-1zM100 25h1v1h-1zM141 25h2v1h-2zM152 25h1v1h-1z"/>
<path fill="#3ba0fd" d="M171 5h1v1h-1zM171 6h1v1h-1zM36 8h1v1h-1zM46 10h1v1h-1zM75 10h1v1h-1zM172 11h1v1h-1zM128 12h1v1h-1zM76 14h1v1h-1zM82 18h1v1h-1zM178 18h1v1h-1zM86 19h1v1h-1zM180 19h1v1h-1zM182 20h1v1h-1zM93 21h1v1h-1zM133 21h1v1h-1zM185 21h1v1h-1zM95 22h1v1h-1zM134 22h1v1h-1zM189 22h1v1h-1zM135 23h1v1h-1zM103 25h1v1h-1zM140 25h1v1h-1z"/>
<path fill="#3aa3fc" d="M105 1h1v1h-1zM49 2h1v1h-1zM49 3h1v1h-1zM154 3h1v1h-1zM34 4h1v1h-1zM49 4h1v1h-1zM49 5h1v1h-1zM154 6h1v1h-1zM154 7h1v1h-1zM171 7h1v1h-1zM154 8h1v1h-1zM48 9h1v1h-1zM154 9h1v1h-1zM38 10h1v1h-1zM154 10h1v1h-1zM75 11h1v1h-1zM154 11h1v1h-1zM154 12h1v1h-1zM128 13h1v1h-1zM154 13h1v1h-1zM154 14h1v1h-1zM154 15h1v1h-1zM77 16h1v1h-1zM154 16h1v1h-1zM129 17h1v1h-1zM154 17h1v1h-1zM81 18h1v1h-1zM154 18h1v1h-1zM85 19h1v1h-1zM154 19h1v1h-1zM89 20h1v1h-1zM154 20h1v1h-1zM92 21h1v1h-1zM104 21h1v1h-1zM154 21h1v1h-1zM154 22h1v1h-1zM96 23h1v1h-1zM154 23h1v1h-1zM192 23h1v1h-1zM136 24h1v1h-1zM99 25h1v1h-1zM139 25h1v1h-1zM153 25h1v1h-1zM101 26h3v1h-3z"/>
<path fill="#38a5fb" d="M49 1h1v1h-1zM154 4h1v1h-1zM154 5h1v1h-1zM49 6h1v1h-1zM35 7h1v1h-1zM171 8h1v1h-1zM171 9h1v1h-1zM47 10h1v1h-1zM172 12h1v1h-1zM128 14h1v1h-1zM76 15h1v1h-1zM174 15h1v1h-1zM175 16h1v1h-1zM78 17h1v1h-1zM176 17h1v1h-1zM130 19h1v1h-1zM179 19h1v1h-1zM131 20h1v1h-1zM181 20h1v1h-1zM184 21h1v1h-1zM94 22h1v1h-1zM104 22h1v1h-1zM188 22h1v1h-1zM104 23h1v1h-1zM97 24h1v1h-1zM104 24h1v1h-1zM154 24h1v1h-1zM138 25h1v1h-1zM145 26h7v1h-7z"/>
<path fill="#37a8fa" d="M49 0h1v1h-1zM105 2h1v1h-1zM34 5h1v1h-1zM49 7h1v1h-1zM36 9h1v1h-1zM75 12h1v1h-1zM173 14h1v1h-1zM128 15h1v1h-1zM80 18h1v1h-1zM177 18h1v1h-1zM84 19h1v1h-1zM88 20h1v1h-1zM91 21h1v1h-1zM132 21h1v1h-1zM133 22h1v1h-1zM95 23h1v1h-1zM134 23h1v1h-1zM191 23h1v1h-1zM104 25h1v1h-1zM100 26h1v1h-1zM143 26h2v1h-2zM152 26h2v1h-2z"/>
<path fill="#35abf8" d="M35 8h1v1h-1zM49 8h1v1h-1zM37 10h1v1h-1zM171 10h1v1h-1zM172 13h1v1h-1zM129 18h1v1h-1zM83 19h1v1h-1zM180 20h1v1h-1zM183 21h1v1h-1zM93 22h1v1h-1zM187 22h1v1h-1zM135 24h1v1h-1zM98 25h1v1h-1zM137 25h1v1h-1zM154 25h1v1h-1zM104 26h1v1h-1zM142 26h1v1h-1zM103 27h1v1h-1z"/>
<path fill="#33adf7" d="M155 0h1v1h-1zM74 3h1v1h-1zM105 3h1v1h-1zM127 3h1v1h-1zM127 4h1v1h-1zM127 5h1v1h-1zM34 6h1v1h-1zM105 6h1v1h-1zM127 6h1v1h-1zM105 7h1v1h-1zM127 7h1v1h-1zM105 8h1v1h-1zM105 9h1v1h-1zM105 10h1v1h-1zM40 11h5v1h-5zM105 11h1v1h-1zM171 11h1v1h-1zM105 12h1v1h-1zM75 13h1v1h-1zM105 13h1v1h-1zM105 14h1v1h-1zM105 15h1v1h-1zM105 16h1v1h-1zM105 17h1v1h-1zM79 18h1v1h-1zM105 18h1v1h-1zM82 19h1v1h-1zM105 19h1v1h-1zM178 19h1v1h-1zM87 20h1v1h-1zM90 21h1v1h-1zM190 23h1v1h-1zM96 24h1v1h-1zM192 24h1v1h-1zM141 26h1v1h-1zM154 26h1v1h-1zM102 27h1v1h-1zM104 27h1v1h-1z"/>
<path fill="#31aff5" d="M33 0h1v1h-1zM170 0h1v1h-1zM33 1h1v1h-1zM170 1h1v1h-1zM33 2h1v1h-1zM74 2h1v1h-1zM127 2h1v1h-1zM170 2h1v1h-1zM170 3h1v1h-1zM74 4h1v1h-1zM105 4h1v1h-1zM170 4h1v1h-1zM105 5h1v1h-1zM170 5h1v1h-1zM74 7h1v1h-1zM127 8h1v1h-1zM48 10h1v1h-1zM45 11h1v1h-1zM173 15h1v1h-1zM76 16h1v1h-1zM128 16h1v1h-1zM174 16h1v1h-1zM77 17h1v1h-1zM175 17h1v1h-1zM81 19h1v1h-1zM86 20h1v1h-1zM130 20h1v1h-1zM182 21h1v1h-1zM92 22h1v1h-1zM186 22h1v1h-1zM94 23h1v1h-1zM136 25h1v1h-1zM99 26h1v1h-1zM140 26h1v1h-1zM101 27h1v1h-1zM152 27h3v1h-3z"/>
<path fill="#2fb2f4" d="M74 0h1v1h-1zM74 1h1v1h-1zM127 1h1v1h-1zM155 1h1v1h-1zM33 3h1v1h-1zM74 5h1v1h-1zM74 6h1v1h-1zM170 6h1v1h-1zM170 7h1v1h-1zM74 8h1v1h-1zM127 9h1v1h-1zM127 10h1v1h-1zM39 11h1v1h-1zM46 11h1v1h-1zM171 12h1v1h-1zM75 14h1v1h-1zM78 18h1v1h-1zM176 18h1v1h-1zM129 19h1v1h-1zM85 20h1v1h-1zM105 20h1v1h-1zM179 20h1v1h-1zM89 21h1v1h-1zM131 21h1v1h-1zM132 22h1v1h-1zM133 23h1v1h-1zM189 23h1v1h-1zM105 24h1v1h-1zM134 24h1v1h-1zM105 25h1v1h-1zM105 26h1v1h-1zM139 26h1v1h-1zM145 27h7v1h-7zM104 28h1v1h-1z"/>
<path fill="#2eb4f2" d="M106 0h1v1h-1zM127 0h1v1h-1zM34 7h1v1h-1zM170 8h1v1h-1zM35 9h1v1h-1zM49 9h1v1h-1zM74 9h1v1h-1zM36 10h1v1h-1zM38 11h1v1h-1zM127 11h1v1h-1zM172 14h1v1h-1zM128 17h1v1h-1zM80 19h1v1h-1zM177 19h1v1h-1zM84 20h1v1h-1zM105 21h1v1h-1zM181 21h1v1h-1zM91 22h1v1h-1zM105 22h1v1h-1zM185 22h1v1h-1zM93 23h1v1h-1zM105 23h1v1h-1zM155 23h1v1h-1zM155 24h1v1h-1zM191 24h1v1h-1zM97 25h1v1h-1zM105 27h1v1h-1zM143 27h2v1h-2zM155 27h1v1h-1zM103 28h1v1h-1zM153 28h2v1h-2z"/>
<path fill="#2cb7f0" d="M155 2h1v1h-1zM33 4h1v1h-1zM170 9h1v1h-1zM74 10h1v1h-1zM47 11h1v1h-1zM127 12h1v1h-1zM75 15h1v1h-1zM83 20h1v1h-1zM88 21h1v1h-1zM155 22h1v1h-1zM188 23h1v1h-1zM95 24h1v1h-1zM135 25h1v1h-1zM155 25h1v1h-1zM138 26h1v1h-1zM155 26h1v1h-1zM100 27h1v1h-1zM142 27h1v1h-1zM102 28h1v1h-1zM105 28h1v1h-1zM155 28h1v1h-1z"/>
<path fill="#2ab9ee" d="M106 1h1v1h-1zM50 3h1v1h-1zM50 4h1v1h-1zM33 5h1v1h-1zM50 5h1v1h-1zM50 6h1v1h-1zM34 8h1v1h-1zM170 10h1v1h-1zM74 11h1v1h-1zM127 13h1v1h-1zM171 13h1v1h-1zM173 16h1v1h-1zM174 17h1v1h-1zM79 19h1v1h-1zM82 20h1v1h-1zM155 20h1v1h-1zM178 20h1v1h-1zM87 21h1v1h-1zM155 21h1v1h-1zM90 22h1v1h-1zM184 22h1v1h-1zM192 25h1v1h-1zM98 26h1v1h-1zM137 26h1v1h-1zM152 28h1v1h-1zM154 29h2v1h-2z"/>
<path fill="#28bceb" d="M50 2h1v1h-1zM155 5h1v1h-1zM50 7h1v1h-1zM155 8h1v1h-1zM155 9h1v1h-1zM37 11h1v1h-1zM170 11h1v1h-1zM42 12h2v1h-2zM155 12h1v1h-1zM127 14h1v1h-1zM155 14h1v1h-1zM172 15h1v1h-1zM155 16h1v1h-1zM76 17h1v1h-1zM155 17h1v1h-1zM77 18h1v1h-1zM128 18h1v1h-1zM155 18h1v1h-1zM175 18h1v1h-1zM155 19h1v1h-1zM176 19h1v1h-1zM129 20h1v1h-1zM130 21h1v1h-1zM180 21h1v1h-1zM92 23h1v1h-1zM133 24h1v1h-1zM190 24h1v1h-1zM141 27h1v1h-1zM151 28h1v1h-1zM104 29h2v1h-2z"/>
<path fill="#27bee9" d="M169 0h1v1h-1zM50 1h1v1h-1zM169 2h1v1h-1zM155 3h1v1h-1zM169 3h1v1h-1zM155 4h1v1h-1zM169 4h1v1h-1zM169 5h1v1h-1zM33 6h1v1h-1zM155 6h1v1h-1zM155 7h1v1h-1zM49 10h1v1h-1zM155 10h1v1h-1zM155 11h1v1h-1zM40 12h2v1h-2zM44 12h1v1h-1zM74 12h1v1h-1zM155 13h1v1h-1zM127 15h1v1h-1zM155 15h1v1h-1zM78 19h1v1h-1zM81 20h1v1h-1zM86 21h1v1h-1zM89 22h1v1h-1zM131 22h1v1h-1zM132 23h1v1h-1zM187 23h1v1h-1zM94 24h1v1h-1zM96 25h1v1h-1zM106 25h1v1h-1zM134 25h1v1h-1zM106 26h1v1h-1zM136 26h1v1h-1zM106 27h1v1h-1zM106 28h1v1h-1zM146 28h5v1h-5zM103 29h1v1h-1zM153 29h1v1h-1z"/>
<path fill="#25c0e7" d="M50 0h1v1h-1zM169 1h1v1h-1zM106 2h1v1h-1zM169 6h1v1h-1zM169 7h1v1h-1zM50 8h1v1h-1zM34 9h1v1h-1zM35 10h1v1h-1zM48 11h1v1h-1zM39 12h1v1h-1zM45 12h1v1h-1zM170 12h1v1h-1zM74 13h1v1h-1zM171 14h1v1h-1zM75 16h1v1h-1zM128 19h1v1h-1zM80 20h1v1h-1zM177 20h1v1h-1zM85 21h1v1h-1zM179 21h1v1h-1zM183 22h1v1h-1zM106 24h1v1h-1zM189 24h1v1h-1zM191 25h1v1h-1zM99 27h1v1h-1zM140 27h1v1h-1zM101 28h1v1h-1zM145 28h1v1h-1zM106 29h1v1h-1zM156 29h1v1h-1zM154 30h2v1h-2z"/>
<path fill="#23c3e4" d="M32 0h1v1h-1zM156 0h1v1h-1zM32 1h1v1h-1zM32 2h1v1h-1zM33 7h1v1h-1zM106 8h1v1h-1zM169 8h1v1h-1zM106 9h1v1h-1zM36 11h1v1h-1zM46 12h1v1h-1zM127 16h1v1h-1zM173 17h1v1h-1zM106 18h1v1h-1zM174 18h1v1h-1zM84 21h1v1h-1zM88 22h1v1h-1zM91 23h1v1h-1zM106 23h1v1h-1zM139 27h1v1h-1zM156 27h1v1h-1zM144 28h1v1h-1zM156 28h1v1h-1zM152 29h1v1h-1zM105 30h2v1h-2z"/>
<path fill="#22c5e2" d="M106 3h1v1h-1zM126 3h1v1h-1zM106 4h1v1h-1zM126 4h1v1h-1zM106 5h1v1h-1zM126 5h1v1h-1zM106 6h1v1h-1zM126 6h1v1h-1zM106 7h1v1h-1zM126 7h1v1h-1zM50 9h1v1h-1zM169 9h1v1h-1zM106 10h1v1h-1zM106 11h1v1h-1zM38 12h1v1h-1zM106 12h1v1h-1zM106 13h1v1h-1zM170 13h1v1h-1zM74 14h1v1h-1zM106 14h1v1h-1zM106 15h1v1h-1zM106 16h1v1h-1zM172 16h1v1h-1zM106 17h1v1h-1zM76 18h1v1h-1zM77 19h1v1h-1zM106 19h1v1h-1zM175 19h1v1h-1zM79 20h1v1h-1zM106 20h1v1h-1zM83 21h1v1h-1zM106 22h1v1h-1zM182 22h1v1h-1zM156 23h1v1h-1zM186 23h1v1h-1zM93 24h1v1h-1zM156 24h1v1h-1zM97 26h1v1h-1zM135 26h1v1h-1zM156 26h1v1h-1zM192 26h1v1h-1zM102 29h1v1h-1zM104 30h1v1h-1zM153 30h1v1h-1z"/>
<path fill="#20c7df" d="M107 0h1v1h-1zM156 1h1v1h-1zM73 2h1v1h-1zM32 3h1v1h-1zM73 3h1v1h-1zM32 4h1v1h-1zM73 4h1v1h-1zM126 8h1v1h-1zM126 9h1v1h-1zM169 10h1v1h-1zM171 15h1v1h-1zM127 17h1v1h-1zM128 20h1v1h-1zM176 20h1v1h-1zM82 21h1v1h-1zM106 21h1v1h-1zM129 21h1v1h-1zM178 21h1v1h-1zM87 22h1v1h-1zM90 23h1v1h-1zM132 24h1v1h-1zM188 24h1v1h-1zM95 25h1v1h-1zM133 25h1v1h-1zM156 25h1v1h-1zM190 25h1v1h-1zM138 27h1v1h-1zM107 28h1v1h-1zM143 28h1v1h-1zM107 29h1v1h-1zM107 30h1v1h-1zM156 30h1v1h-1zM106 31h2v1h-2z"/>
<path fill="#1fc9dd" d="M73 1h1v1h-1zM126 2h1v1h-1zM73 5h1v1h-1zM73 6h1v1h-1zM73 7h1v1h-1zM33 8h1v1h-1zM73 8h1v1h-1zM34 10h1v1h-1zM126 10h1v1h-1zM169 11h1v1h-1zM37 12h1v1h-1zM47 12h1v1h-1zM40 13h4v1h-4zM74 15h1v1h-1zM75 17h1v1h-1zM78 20h1v1h-1zM86 22h1v1h-1zM130 22h1v1h-1zM156 22h1v1h-1zM131 23h1v1h-1zM107 26h1v1h-1zM107 27h1v1h-1zM100 28h1v1h-1zM142 28h1v1h-1zM151 29h1v1h-1z"/>
<path fill="#1ecbda" d="M73 0h1v1h-1zM168 0h1v1h-1zM126 1h1v1h-1zM156 2h1v1h-1zM168 3h1v1h-1zM168 4h1v1h-1zM32 5h1v1h-1zM168 5h1v1h-1zM73 9h1v1h-1zM35 11h1v1h-1zM49 11h1v1h-1zM126 11h1v1h-1zM39 13h1v1h-1zM44 13h1v1h-1zM170 14h1v1h-1zM127 18h1v1h-1zM173 18h1v1h-1zM81 21h1v1h-1zM181 22h1v1h-1zM89 23h1v1h-1zM185 23h1v1h-1zM92 24h1v1h-1zM134 26h1v1h-1zM98 27h1v1h-1zM137 27h1v1h-1zM141 28h1v1h-1zM148 29h3v1h-3zM103 30h1v1h-1zM105 31h1v1h-1zM108 31h1v1h-1zM155 31h1v1h-1zM107 32h1v1h-1z"/>
<path fill="#1ccdd8" d="M126 0h1v1h-1zM107 1h1v1h-1zM168 1h1v1h-1zM168 2h1v1h-1zM32 6h1v1h-1zM168 6h1v1h-1zM168 7h1v1h-1zM33 9h1v1h-1zM50 10h1v1h-1zM73 10h1v1h-1zM126 12h1v1h-1zM169 12h1v1h-1zM45 13h1v1h-1zM172 17h1v1h-1zM76 19h1v1h-1zM174 19h1v1h-1zM80 21h1v1h-1zM156 21h1v1h-1zM177 21h1v1h-1zM85 22h1v1h-1zM107 25h1v1h-1zM189 25h1v1h-1zM191 26h1v1h-1zM147 29h1v1h-1zM108 30h1v1h-1zM152 30h1v1h-1zM154 31h1v1h-1zM108 32h1v1h-1z"/>
<path fill="#1bd0d5" d="M51 3h1v1h-1zM51 4h1v1h-1zM51 5h1v1h-1zM156 5h1v1h-1zM51 6h1v1h-1zM156 8h1v1h-1zM168 8h1v1h-1zM156 9h1v1h-1zM73 11h1v1h-1zM36 12h1v1h-1zM48 12h1v1h-1zM38 13h1v1h-1zM126 13h1v1h-1zM74 16h1v1h-1zM171 16h1v1h-1zM127 19h1v1h-1zM156 19h1v1h-1zM77 20h1v1h-1zM156 20h1v1h-1zM175 20h1v1h-1zM84 22h1v1h-1zM88 23h1v1h-1zM107 24h1v1h-1zM187 24h1v1h-1zM94 25h1v1h-1zM132 25h1v1h-1zM96 26h1v1h-1zM136 27h1v1h-1zM192 27h1v1h-1zM101 29h1v1h-1zM108 29h1v1h-1zM146 29h1v1h-1zM156 31h1v1h-1zM106 32h1v1h-1z"/>
<path fill="#1ad2d2" d="M31 0h1v1h-1zM51 2h1v1h-1zM156 3h1v1h-1zM156 4h1v1h-1zM156 6h1v1h-1zM32 7h1v1h-1zM51 7h1v1h-1zM156 7h1v1h-1zM168 9h1v1h-1zM156 10h1v1h-1zM156 11h1v1h-1zM73 12h1v1h-1zM156 12h1v1h-1zM46 13h1v1h-1zM156 13h1v1h-1zM169 13h1v1h-1zM126 14h1v1h-1zM156 14h1v1h-1zM156 15h1v1h-1zM170 15h1v1h-1zM156 16h1v1h-1zM156 17h1v1h-1zM75 18h1v1h-1zM156 18h1v1h-1zM79 21h1v1h-1zM128 21h1v1h-1zM83 22h1v1h-1zM180 22h1v1h-1zM107 23h1v1h-1zM184 23h1v1h-1zM91 24h1v1h-1zM131 24h1v1h-1zM133 26h1v1h-1zM140 28h1v1h-1zM157 29h1v1h-1zM104 31h1v1h-1zM153 31h1v1h-1zM109 32h1v1h-1z"/>
<path fill="#1ad4d0" d="M51 0h1v1h-1zM157 0h1v1h-1zM31 1h1v1h-1zM51 1h1v1h-1zM31 2h1v1h-1zM107 2h1v1h-1zM51 8h1v1h-1zM33 10h1v1h-1zM168 10h1v1h-1zM34 11h1v1h-1zM37 13h1v1h-1zM73 13h1v1h-1zM41 14h2v1h-2zM126 15h1v1h-1zM172 18h1v1h-1zM173 19h1v1h-1zM176 21h1v1h-1zM107 22h1v1h-1zM129 22h1v1h-1zM87 23h1v1h-1zM130 23h1v1h-1zM190 26h1v1h-1zM99 28h1v1h-1zM108 28h1v1h-1zM145 29h1v1h-1zM151 30h1v1h-1zM109 31h1v1h-1z"/>
<path fill="#19d5cd" d="M108 0h1v1h-1zM31 3h1v1h-1zM32 8h1v1h-1zM107 8h1v1h-1zM51 9h1v1h-1zM107 9h1v1h-1zM168 11h1v1h-1zM35 12h1v1h-1zM40 14h1v1h-1zM43 14h1v1h-1zM169 14h1v1h-1zM171 17h1v1h-1zM107 19h1v1h-1zM107 20h1v1h-1zM127 20h1v1h-1zM174 20h1v1h-1zM107 21h1v1h-1zM82 22h1v1h-1zM179 22h1v1h-1zM183 23h1v1h-1zM186 24h1v1h-1zM188 25h1v1h-1zM108 27h1v1h-1zM135 27h1v1h-1zM139 28h1v1h-1zM157 28h1v1h-1zM102 30h1v1h-1zM108 33h1v1h-1z"/>
<path fill="#18d7ca" d="M167 0h1v1h-1zM157 1h1v1h-1zM167 1h1v1h-1zM167 2h1v1h-1zM107 3h1v1h-1zM167 3h1v1h-1zM31 4h1v1h-1zM107 4h1v1h-1zM125 4h1v1h-1zM167 4h1v1h-1zM107 5h1v1h-1zM125 5h1v1h-1zM167 5h1v1h-1zM107 6h1v1h-1zM125 6h1v1h-1zM167 6h1v1h-1zM107 7h1v1h-1zM107 10h1v1h-1zM50 11h1v1h-1zM107 11h1v1h-1zM49 12h1v1h-1zM107 12h1v1h-1zM168 12h1v1h-1zM47 13h1v1h-1zM107 13h1v1h-1zM39 14h1v1h-1zM44 14h1v1h-1zM73 14h1v1h-1zM107 14h1v1h-1zM107 15h1v1h-1zM107 16h1v1h-1zM126 16h1v1h-1zM170 16h1v1h-1zM74 17h1v1h-1zM107 17h1v1h-1zM107 18h1v1h-1zM76 20h1v1h-1zM78 21h1v1h-1zM86 23h1v1h-1zM157 23h1v1h-1zM90 24h1v1h-1zM157 24h1v1h-1zM93 25h1v1h-1zM108 26h1v1h-1zM97 27h1v1h-1zM109 30h1v1h-1zM150 30h1v1h-1zM157 30h1v1h-1zM105 32h1v1h-1zM107 33h1v1h-1zM109 33h1v1h-1z"/>
<path fill="#18d9c8" d="M125 3h1v1h-1zM31 5h1v1h-1zM125 7h1v1h-1zM167 7h1v1h-1zM125 8h1v1h-1zM32 9h1v1h-1zM36 13h1v1h-1zM38 14h1v1h-1zM45 14h1v1h-1zM126 17h1v1h-1zM75 19h1v1h-1zM175 21h1v1h-1zM81 22h1v1h-1zM85 23h1v1h-1zM131 25h1v1h-1zM95 26h1v1h-1zM132 26h1v1h-1zM157 27h1v1h-1zM191 27h1v1h-1zM100 29h1v1h-1zM144 29h1v1h-1zM152 31h1v1h-1zM155 32h1v1h-1z"/>
<path fill="#18dbc5" d="M108 1h1v1h-1zM157 2h1v1h-1zM167 8h1v1h-1zM125 9h1v1h-1zM51 10h1v1h-1zM33 11h1v1h-1zM34 12h1v1h-1zM168 13h1v1h-1zM73 15h1v1h-1zM169 15h1v1h-1zM171 18h1v1h-1zM172 19h1v1h-1zM173 20h1v1h-1zM80 22h1v1h-1zM157 22h1v1h-1zM178 22h1v1h-1zM182 23h1v1h-1zM130 24h1v1h-1zM185 24h1v1h-1zM108 25h1v1h-1zM157 25h1v1h-1zM187 25h1v1h-1zM157 26h1v1h-1zM189 26h1v1h-1zM134 27h1v1h-1zM192 28h1v1h-1zM109 29h1v1h-1zM149 30h1v1h-1zM103 31h1v1h-1zM110 32h1v1h-1z"/>
<path fill="#18ddc2" d="M72 0h1v1h-1zM72 1h1v1h-1zM72 2h1v1h-1zM125 2h1v1h-1zM72 3h1v1h-1zM72 4h1v1h-1zM31 6h1v1h-1zM72 6h1v1h-1zM72 7h1v1h-1zM72 8h1v1h-1zM72 9h1v1h-1zM167 9h1v1h-1zM32 10h1v1h-1zM125 10h1v1h-1zM167 10h1v1h-1zM35 13h1v1h-1zM48 13h1v1h-1zM37 14h1v1h-1zM46 14h1v1h-1zM170 17h1v1h-1zM126 18h1v1h-1zM77 21h1v1h-1zM157 21h1v1h-1zM84 23h1v1h-1zM129 23h1v1h-1zM89 24h1v1h-1zM108 24h1v1h-1zM138 28h1v1h-1zM148 30h1v1h-1zM157 31h1v1h-1zM154 32h1v1h-1zM156 32h1v1h-1z"/>
<path fill="#18dec0" d="M166 0h1v1h-1zM157 3h1v1h-1zM157 4h1v1h-1zM72 5h1v1h-1zM157 5h1v1h-1zM166 5h1v1h-1zM157 6h1v1h-1zM31 7h1v1h-1zM157 7h1v1h-1zM157 8h1v1h-1zM157 9h1v1h-1zM157 10h1v1h-1zM125 11h1v1h-1zM157 11h1v1h-1zM157 12h1v1h-1zM157 13h1v1h-1zM157 14h1v1h-1zM168 14h1v1h-1zM41 15h2v1h-2zM157 15h1v1h-1zM157 16h1v1h-1zM157 17h1v1h-1zM74 18h1v1h-1zM157 18h1v1h-1zM126 19h1v1h-1zM157 19h1v1h-1zM157 20h1v1h-1zM127 21h1v1h-1zM174 21h1v1h-1zM128 22h1v1h-1zM92 25h1v1h-1zM98 28h1v1h-1zM109 28h1v1h-1zM143 29h1v1h-1zM101 30h1v1h-1zM110 31h1v1h-1zM106 33h1v1h-1zM110 33h1v1h-1z"/>
<path fill="#18e0bd" d="M30 0h1v1h-1zM109 0h1v1h-1zM158 0h1v1h-1zM125 1h1v1h-1zM166 1h1v1h-1zM108 2h1v1h-1zM166 2h1v1h-1zM166 3h1v1h-1zM166 4h1v1h-1zM166 6h1v1h-1zM166 7h1v1h-1zM72 10h1v1h-1zM167 11h1v1h-1zM50 12h1v1h-1zM125 12h1v1h-1zM36 14h1v1h-1zM40 15h1v1h-1zM43 15h1v1h-1zM73 16h1v1h-1zM169 16h1v1h-1zM79 22h1v1h-1zM177 22h1v1h-1zM83 23h1v1h-1zM108 23h1v1h-1zM181 23h1v1h-1zM88 24h1v1h-1zM184 24h1v1h-1zM133 27h1v1h-1zM190 27h1v1h-1zM147 30h1v1h-1zM151 31h1v1h-1zM104 32h1v1h-1z"/>
<path fill="#19e2bb" d="M125 0h1v1h-1zM30 1h1v1h-1zM30 2h1v1h-1zM52 6h1v1h-1zM52 7h1v1h-1zM31 8h1v1h-1zM166 8h1v1h-1zM32 11h1v1h-1zM51 11h1v1h-1zM72 11h1v1h-1zM33 12h1v1h-1zM167 12h1v1h-1zM34 13h1v1h-1zM49 13h1v1h-1zM125 13h1v1h-1zM47 14h1v1h-1zM39 15h1v1h-1zM44 15h1v1h-1zM168 15h1v1h-1zM170 18h1v1h-1zM171 19h1v1h-1zM75 20h1v1h-1zM126 20h1v1h-1zM172 20h1v1h-1zM108 22h1v1h-1zM82 23h1v1h-1zM130 25h1v1h-1zM186 25h1v1h-1zM131 26h1v1h-1zM188 26h1v1h-1zM96 27h1v1h-1zM109 27h1v1h-1zM137 28h1v1h-1zM110 30h1v1h-1zM153 32h1v1h-1z"/>
<path fill="#19e3b9" d="M158 1h1v1h-1zM52 2h1v1h-1zM30 3h1v1h-1zM52 3h1v1h-1zM52 4h1v1h-1zM52 5h1v1h-1zM52 8h1v1h-1zM108 8h1v1h-1zM31 9h1v1h-1zM108 9h1v1h-1zM166 9h1v1h-1zM72 12h1v1h-1zM167 13h1v1h-1zM125 14h1v1h-1zM38 15h1v1h-1zM45 15h1v1h-1zM169 17h1v1h-1zM108 19h1v1h-1zM108 20h1v1h-1zM76 21h1v1h-1zM108 21h1v1h-1zM87 24h1v1h-1zM94 26h1v1h-1zM109 26h1v1h-1zM99 29h1v1h-1zM142 29h1v1h-1z"/>
<path fill="#1ae4b6" d="M52 0h1v1h-1zM52 1h1v1h-1zM158 2h1v1h-1zM108 3h1v1h-1zM30 4h1v1h-1zM30 5h1v1h-1zM108 5h1v1h-1zM108 6h1v1h-1zM108 7h1v1h-1zM52 9h1v1h-1zM108 10h1v1h-1zM166 10h1v1h-1zM108 11h1v1h-1zM108 12h1v1h-1zM72 13h1v1h-1zM108 13h1v1h-1zM35 14h1v1h-1zM108 14h1v1h-1zM167 14h1v1h-1zM37 15h1v1h-1zM108 15h1v1h-1zM125 15h1v1h-1zM108 16h1v1h-1zM73 17h1v1h-1zM108 17h1v1h-1zM108 18h1v1h-1zM74 19h1v1h-1zM173 21h1v1h-1zM78 22h1v1h-1zM176 22h1v1h-1zM81 23h1v1h-1zM180 23h1v1h-1zM86 24h1v1h-1zM129 24h1v1h-1zM183 24h1v1h-1zM91 25h1v1h-1zM132 27h1v1h-1zM136 28h1v1h-1zM191 28h1v1h-1zM146 30h1v1h-1zM102 31h1v1h-1z"/>
<path fill="#1ce6b4" d="M165 0h1v1h-1zM109 1h1v1h-1zM158 3h1v1h-1zM165 3h1v1h-1zM108 4h1v1h-1zM124 4h1v1h-1zM165 4h1v1h-1zM124 5h1v1h-1zM165 5h1v1h-1zM165 6h1v1h-1zM165 7h1v1h-1zM31 10h1v1h-1zM158 10h1v1h-1zM166 11h1v1h-1zM48 14h1v1h-1zM46 15h1v1h-1zM125 16h1v1h-1zM168 16h1v1h-1zM170 19h1v1h-1zM171 20h1v1h-1zM128 23h1v1h-1zM109 25h1v1h-1zM185 25h1v1h-1zM187 26h1v1h-1zM110 29h1v1h-1zM141 29h1v1h-1zM150 31h1v1h-1zM111 32h1v1h-1zM105 33h1v1h-1zM108 34h2v1h-2z"/>
<path fill="#1de7b2" d="M165 1h1v1h-1zM165 2h1v1h-1zM124 3h1v1h-1zM158 4h1v1h-1zM158 5h1v1h-1zM30 6h1v1h-1zM124 6h1v1h-1zM158 6h1v1h-1zM124 7h1v1h-1zM158 7h1v1h-1zM124 8h1v1h-1zM158 8h1v1h-1zM165 8h1v1h-1zM158 9h1v1h-1zM52 10h1v1h-1zM158 11h1v1h-1zM32 12h1v1h-1zM158 12h1v1h-1zM166 12h1v1h-1zM33 13h1v1h-1zM158 13h1v1h-1zM72 14h1v1h-1zM158 14h1v1h-1zM36 15h1v1h-1zM158 15h1v1h-1zM167 15h1v1h-1zM158 16h1v1h-1zM125 17h1v1h-1zM158 17h1v1h-1zM158 18h1v1h-1zM169 18h1v1h-1zM158 19h1v1h-1zM158 20h1v1h-1zM126 21h1v1h-1zM127 22h1v1h-1zM175 22h1v1h-1zM80 23h1v1h-1zM158 23h1v1h-1zM85 24h1v1h-1zM189 27h1v1h-1zM97 28h1v1h-1zM192 29h1v1h-1zM100 30h1v1h-1zM152 32h1v1h-1zM157 32h1v1h-1zM111 33h1v1h-1z"/>
<path fill="#1fe9af" d="M71 0h1v1h-1zM110 0h1v1h-1zM159 0h1v1h-1zM30 7h1v1h-1zM124 9h1v1h-1zM165 9h1v1h-1zM51 12h1v1h-1zM50 13h1v1h-1zM166 13h1v1h-1zM34 14h1v1h-1zM72 15h1v1h-1zM40 16h4v1h-4zM168 17h1v1h-1zM73 18h1v1h-1zM125 18h1v1h-1zM158 21h1v1h-1zM172 21h1v1h-1zM77 22h1v1h-1zM158 22h1v1h-1zM179 23h1v1h-1zM109 24h1v1h-1zM158 24h1v1h-1zM182 24h1v1h-1zM90 25h1v1h-1zM130 26h1v1h-1zM110 28h1v1h-1zM135 28h1v1h-1zM111 31h1v1h-1zM155 33h2v1h-2zM110 34h1v1h-1z"/>
<path fill="#20eaac" d="M29 0h1v1h-1zM164 0h1v1h-1zM71 1h1v1h-1zM159 1h1v1h-1zM109 2h1v1h-1zM164 4h1v1h-1zM164 5h1v1h-1zM164 6h1v1h-1zM164 7h1v1h-1zM30 8h1v1h-1zM71 8h1v1h-1zM124 10h1v1h-1zM165 10h1v1h-1zM31 11h1v1h-1zM49 14h1v1h-1zM166 14h1v1h-1zM47 15h1v1h-1zM39 16h1v1h-1zM44 16h1v1h-1zM167 16h1v1h-1zM125 19h1v1h-1zM74 20h1v1h-1zM75 21h1v1h-1zM109 23h1v1h-1zM84 24h1v1h-1zM129 25h1v1h-1zM184 25h1v1h-1zM93 26h1v1h-1zM95 27h1v1h-1zM131 27h1v1h-1zM140 29h1v1h-1zM158 29h1v1h-1zM145 30h1v1h-1zM149 31h1v1h-1zM103 32h1v1h-1zM107 34h1v1h-1z"/>
<path fill="#22ebaa" d="M29 1h1v1h-1zM164 1h1v1h-1zM71 2h1v1h-1zM124 2h1v1h-1zM159 2h1v1h-1zM164 2h1v1h-1zM71 3h1v1h-1zM159 3h1v1h-1zM164 3h1v1h-1zM159 6h1v1h-1zM71 7h1v1h-1zM159 7h1v1h-1zM164 8h1v1h-1zM30 9h1v1h-1zM71 9h1v1h-1zM52 11h1v1h-1zM124 11h1v1h-1zM165 11h1v1h-1zM35 15h1v1h-1zM38 16h1v1h-1zM169 19h1v1h-1zM125 20h1v1h-1zM170 20h1v1h-1zM109 22h1v1h-1zM174 22h1v1h-1zM79 23h1v1h-1zM178 23h1v1h-1zM89 25h1v1h-1zM158 25h1v1h-1zM186 26h1v1h-1zM110 27h1v1h-1zM134 28h1v1h-1zM158 28h1v1h-1zM98 29h1v1h-1zM154 33h1v1h-1z"/>
<path fill="#25eca7" d="M29 2h1v1h-1zM71 4h1v1h-1zM159 4h1v1h-1zM71 5h1v1h-1zM159 5h1v1h-1zM71 6h1v1h-1zM159 8h1v1h-1zM159 9h1v1h-1zM164 9h1v1h-1zM159 10h1v1h-1zM124 12h1v1h-1zM165 12h1v1h-1zM32 13h1v1h-1zM159 13h1v1h-1zM165 13h1v1h-1zM33 14h1v1h-1zM159 15h1v1h-1zM166 15h1v1h-1zM37 16h1v1h-1zM45 16h1v1h-1zM72 16h1v1h-1zM168 18h1v1h-1zM109 20h1v1h-1zM109 21h1v1h-1zM171 21h1v1h-1zM83 24h1v1h-1zM128 24h1v1h-1zM181 24h1v1h-1zM158 26h1v1h-1zM158 27h1v1h-1zM188 27h1v1h-1zM190 28h1v1h-1zM111 30h1v1h-1zM158 30h1v1h-1zM101 31h1v1h-1z"/>
<path fill="#27eea4" d="M163 0h1v1h-1zM110 1h1v1h-1zM124 1h1v1h-1zM29 3h1v1h-1zM109 3h1v1h-1zM29 4h1v1h-1zM163 4h1v1h-1zM109 5h1v1h-1zM163 5h1v1h-1zM109 6h1v1h-1zM163 6h1v1h-1zM109 7h1v1h-1zM163 7h1v1h-1zM109 8h1v1h-1zM163 8h1v1h-1zM109 9h1v1h-1zM30 10h1v1h-1zM71 10h1v1h-1zM109 10h1v1h-1zM164 10h1v1h-1zM109 11h1v1h-1zM159 11h1v1h-1zM164 11h1v1h-1zM31 12h1v1h-1zM109 12h1v1h-1zM159 12h1v1h-1zM109 13h1v1h-1zM124 13h1v1h-1zM109 14h1v1h-1zM124 14h1v1h-1zM159 14h1v1h-1zM165 14h1v1h-1zM34 15h1v1h-1zM48 15h1v1h-1zM109 15h1v1h-1zM109 16h1v1h-1zM159 16h1v1h-1zM109 17h1v1h-1zM167 17h1v1h-1zM109 18h1v1h-1zM159 18h1v1h-1zM73 19h1v1h-1zM109 19h1v1h-1zM76 22h1v1h-1zM82 24h1v1h-1zM183 25h1v1h-1zM110 26h1v1h-1zM148 31h1v1h-1zM151 32h1v1h-1zM157 33h1v1h-1zM111 34h1v1h-1z"/>
<path fill="#2aefa1" d="M111 0h1v1h-1zM124 0h1v1h-1zM160 0h1v1h-1zM160 1h1v1h-1zM163 1h1v1h-1zM160 2h1v1h-1zM163 2h1v1h-1zM160 3h1v1h-1zM163 3h1v1h-1zM109 4h1v1h-1zM29 5h1v1h-1zM160 6h1v1h-1zM162 6h1v1h-1zM53 7h1v1h-1zM160 7h1v1h-1zM162 7h1v1h-1zM53 8h1v1h-1zM163 9h1v1h-1zM71 11h1v1h-1zM164 12h1v1h-1zM51 13h1v1h-1zM50 14h1v1h-1zM124 15h1v1h-1zM36 16h1v1h-1zM46 16h1v1h-1zM166 16h1v1h-1zM72 17h1v1h-1zM159 17h1v1h-1zM159 20h1v1h-1zM169 20h1v1h-1zM126 22h1v1h-1zM173 22h1v1h-1zM78 23h1v1h-1zM127 23h1v1h-1zM177 23h1v1h-1zM88 25h1v1h-1zM110 25h1v1h-1zM92 26h1v1h-1zM129 26h1v1h-1zM185 26h1v1h-1zM130 27h1v1h-1zM96 28h1v1h-1zM133 28h1v1h-1zM111 29h1v1h-1zM99 30h1v1h-1zM144 30h1v1h-1zM158 31h1v1h-1zM104 33h1v1h-1zM106 34h1v1h-1z"/>
<path fill="#2cf09e" d="M70 0h1v1h-1zM161 0h2v1h-2zM53 2h1v1h-1zM53 3h1v1h-1zM161 3h2v1h-2zM53 4h1v1h-1zM123 4h1v1h-1zM160 4h1v1h-1zM162 4h1v1h-1zM53 5h1v1h-1zM123 5h1v1h-1zM160 5h3v1h-3zM29 6h1v1h-1zM53 6h1v1h-1zM161 6h1v1h-1zM161 7h1v1h-1zM160 8h3v1h-3zM53 9h1v1h-1zM160 9h1v1h-1zM162 9h1v1h-1zM160 10h1v1h-1zM163 10h1v1h-1zM163 11h1v1h-1zM52 12h1v1h-1zM71 12h1v1h-1zM164 13h1v1h-1zM165 15h1v1h-1zM124 16h1v1h-1zM41 17h2v1h-2zM167 18h1v1h-1zM159 19h1v1h-1zM168 19h1v1h-1zM125 21h1v1h-1zM170 21h1v1h-1zM81 24h1v1h-1zM180 24h1v1h-1zM128 25h1v1h-1zM139 29h1v1h-1zM191 29h1v1h-1zM112 32h1v1h-1zM112 33h1v1h-1zM153 33h1v1h-1z"/>
<path fill="#2ff19b" d="M53 0h1v1h-1zM53 1h1v1h-1zM161 1h2v1h-2zM110 2h1v1h-1zM161 2h2v1h-2zM161 4h1v1h-1zM123 6h1v1h-1zM29 7h1v1h-1zM123 7h1v1h-1zM123 8h1v1h-1zM161 9h1v1h-1zM161 10h2v1h-2zM30 11h1v1h-1zM160 12h1v1h-1zM163 12h1v1h-1zM31 13h1v1h-1zM71 13h1v1h-1zM160 13h1v1h-1zM32 14h1v1h-1zM164 14h1v1h-1zM49 15h1v1h-1zM160 15h1v1h-1zM35 16h1v1h-1zM47 16h1v1h-1zM165 16h1v1h-1zM40 17h1v1h-1zM43 17h1v1h-1zM124 17h1v1h-1zM166 17h1v1h-1zM74 21h1v1h-1zM172 22h1v1h-1zM176 23h1v1h-1zM110 24h1v1h-1zM87 25h1v1h-1zM182 25h1v1h-1zM94 27h1v1h-1zM187 27h1v1h-1zM111 28h1v1h-1zM132 28h1v1h-1zM147 31h1v1h-1z"/>
<path fill="#32f298" d="M123 3h1v1h-1zM29 8h1v1h-1zM123 9h1v1h-1zM53 10h1v1h-1zM160 11h1v1h-1zM162 11h1v1h-1zM163 13h1v1h-1zM71 14h1v1h-1zM160 14h1v1h-1zM33 15h1v1h-1zM164 15h1v1h-1zM39 17h1v1h-1zM44 17h1v1h-1zM72 18h1v1h-1zM124 18h1v1h-1zM124 19h1v1h-1zM73 20h1v1h-1zM168 20h1v1h-1zM159 21h1v1h-1zM77 23h1v1h-1zM80 24h1v1h-1zM86 25h1v1h-1zM184 26h1v1h-1zM112 31h1v1h-1zM102 32h1v1h-1zM150 32h1v1h-1zM109 35h1v1h-1z"/>
<path fill="#35f394" d="M28 0h1v1h-1zM70 1h1v1h-1zM111 1h1v1h-1zM70 8h1v1h-1zM29 9h1v1h-1zM123 10h1v1h-1zM161 11h1v1h-1zM161 12h2v1h-2zM161 13h2v1h-2zM163 14h1v1h-1zM48 16h1v1h-1zM160 16h1v1h-1zM164 16h1v1h-1zM38 17h1v1h-1zM45 17h1v1h-1zM165 17h1v1h-1zM160 18h1v1h-1zM166 18h1v1h-1zM167 19h1v1h-1zM169 21h1v1h-1zM75 22h1v1h-1zM110 22h1v1h-1zM159 22h1v1h-1zM110 23h1v1h-1zM159 23h1v1h-1zM175 23h1v1h-1zM127 24h1v1h-1zM179 24h1v1h-1zM91 26h1v1h-1zM111 27h1v1h-1zM97 29h1v1h-1zM110 35h1v1h-1z"/>
<path fill="#38f491" d="M28 1h1v1h-1zM123 2h1v1h-1zM110 3h1v1h-1zM110 5h1v1h-1zM110 6h1v1h-1zM110 7h1v1h-1zM110 8h1v1h-1zM70 9h1v1h-1zM110 9h1v1h-1zM110 10h1v1h-1zM53 11h1v1h-1zM110 11h1v1h-1zM123 11h1v1h-1zM30 12h1v1h-1zM110 12h1v1h-1zM52 13h1v1h-1zM110 13h1v1h-1zM51 14h1v1h-1zM110 14h1v1h-1zM161 14h2v1h-2zM50 15h1v1h-1zM71 15h1v1h-1zM110 15h1v1h-1zM161 15h1v1h-1zM163 15h1v1h-1zM34 16h1v1h-1zM110 16h1v1h-1zM37 17h1v1h-1zM110 17h1v1h-1zM160 17h1v1h-1zM110 18h1v1h-1zM110 19h1v1h-1zM110 20h1v1h-1zM124 20h1v1h-1zM110 21h1v1h-1zM171 22h1v1h-1zM79 24h1v1h-1zM159 24h1v1h-1zM85 25h1v1h-1zM181 25h1v1h-1zM128 26h1v1h-1zM129 27h1v1h-1zM131 28h1v1h-1zM189 28h1v1h-1zM138 29h1v1h-1zM112 30h1v1h-1zM100 31h1v1h-1zM158 32h1v1h-1zM112 34h1v1h-1zM108 35h1v1h-1z"/>
<path fill="#3cf58e" d="M69 0h1v1h-1zM112 0h1v1h-1zM28 2h1v1h-1zM70 2h1v1h-1zM110 4h1v1h-1zM29 10h1v1h-1zM123 12h1v1h-1zM31 14h1v1h-1zM162 15h1v1h-1zM71 16h1v1h-1zM161 16h1v1h-1zM163 16h1v1h-1zM36 17h1v1h-1zM46 17h1v1h-1zM164 17h1v1h-1zM165 18h1v1h-1zM160 19h1v1h-1zM125 22h1v1h-1zM126 23h1v1h-1zM174 23h1v1h-1zM178 24h1v1h-1zM84 25h1v1h-1zM111 26h1v1h-1zM183 26h1v1h-1zM186 27h1v1h-1zM112 29h1v1h-1zM143 30h1v1h-1zM192 30h1v1h-1zM152 33h1v1h-1zM105 34h1v1h-1zM111 35h1v1h-1z"/>
<path fill="#3ff68a" d="M123 1h1v1h-1zM111 2h1v1h-1zM28 3h1v1h-1zM28 4h1v1h-1zM28 5h1v1h-1zM70 7h1v1h-1zM30 13h1v1h-1zM123 13h1v1h-1zM123 14h1v1h-1zM32 15h1v1h-1zM123 15h1v1h-1zM49 16h1v1h-1zM123 16h1v1h-1zM162 16h1v1h-1zM161 17h1v1h-1zM163 17h1v1h-1zM42 18h1v1h-1zM72 19h1v1h-1zM166 19h1v1h-1zM160 20h1v1h-1zM167 20h1v1h-1zM168 21h1v1h-1zM170 22h1v1h-1zM76 23h1v1h-1zM83 25h1v1h-1zM111 25h1v1h-1zM127 25h1v1h-1zM180 25h1v1h-1zM90 26h1v1h-1zM95 28h1v1h-1zM98 30h1v1h-1zM146 31h1v1h-1zM149 32h1v1h-1zM103 33h1v1h-1zM155 34h1v1h-1z"/>
<path fill="#43f787" d="M123 0h1v1h-1zM70 3h1v1h-1zM70 4h1v1h-1zM122 4h1v1h-1zM70 5h1v1h-1zM122 5h1v1h-1zM28 6h1v1h-1zM70 6h1v1h-1zM70 10h1v1h-1zM29 11h1v1h-1zM53 12h1v1h-1zM33 16h1v1h-1zM35 17h1v1h-1zM47 17h1v1h-1zM162 17h1v1h-1zM40 18h2v1h-2zM43 18h1v1h-1zM161 18h1v1h-1zM164 18h1v1h-1zM73 21h1v1h-1zM124 21h1v1h-1zM74 22h1v1h-1zM169 22h1v1h-1zM173 23h1v1h-1zM78 24h1v1h-1zM111 24h1v1h-1zM177 24h1v1h-1zM159 25h1v1h-1zM93 27h1v1h-1zM112 28h1v1h-1zM130 28h1v1h-1zM137 29h1v1h-1zM113 32h1v1h-1zM156 34h1v1h-1z"/>
<path fill="#46f884" d="M112 1h1v1h-1zM122 6h1v1h-1zM28 7h1v1h-1zM54 7h1v1h-1zM122 7h1v1h-1zM54 8h1v1h-1zM122 8h1v1h-1zM122 9h1v1h-1zM70 11h1v1h-1zM70 12h1v1h-1zM52 14h1v1h-1zM51 15h1v1h-1zM71 17h1v1h-1zM123 17h1v1h-1zM39 18h1v1h-1zM44 18h1v1h-1zM162 18h2v1h-2zM165 19h1v1h-1zM166 20h1v1h-1zM167 21h1v1h-1zM111 23h1v1h-1zM82 25h1v1h-1zM179 25h1v1h-1zM182 26h1v1h-1zM128 27h1v1h-1zM185 27h1v1h-1zM113 33h1v1h-1zM158 33h1v1h-1zM154 34h1v1h-1zM107 35h1v1h-1z"/>
<path fill="#4af880" d="M54 0h1v1h-1zM113 0h1v1h-1zM69 1h1v1h-1zM111 3h1v1h-1zM122 3h1v1h-1zM111 4h1v1h-1zM111 5h1v1h-1zM54 6h1v1h-1zM111 6h1v1h-1zM111 7h1v1h-1zM28 8h1v1h-1zM111 8h1v1h-1zM54 9h1v1h-1zM111 9h1v1h-1zM111 10h1v1h-1zM122 10h1v1h-1zM111 11h1v1h-1zM29 12h1v1h-1zM111 12h1v1h-1zM111 13h1v1h-1zM111 14h1v1h-1zM31 15h1v1h-1zM111 15h1v1h-1zM50 16h1v1h-1zM111 16h1v1h-1zM34 17h1v1h-1zM48 17h1v1h-1zM111 17h1v1h-1zM38 18h1v1h-1zM45 18h1v1h-1zM111 18h1v1h-1zM123 18h1v1h-1zM111 19h1v1h-1zM123 19h1v1h-1zM161 19h1v1h-1zM164 19h1v1h-1zM72 20h1v1h-1zM160 21h1v1h-1zM111 22h1v1h-1zM168 22h1v1h-1zM172 23h1v1h-1zM126 24h1v1h-1zM176 24h1v1h-1zM81 25h1v1h-1zM89 26h1v1h-1zM127 26h1v1h-1zM159 26h1v1h-1zM112 27h1v1h-1zM188 28h1v1h-1zM136 29h1v1h-1zM190 29h1v1h-1zM113 31h1v1h-1zM101 32h1v1h-1z"/>
<path fill="#4ef97d" d="M27 0h1v1h-1zM68 0h1v1h-1zM54 1h1v1h-1zM54 2h1v1h-1zM54 3h1v1h-1zM54 4h1v1h-1zM54 5h1v1h-1zM69 8h1v1h-1zM28 9h1v1h-1zM69 9h1v1h-1zM54 10h1v1h-1zM122 11h1v1h-1zM53 13h1v1h-1zM70 13h1v1h-1zM30 14h1v1h-1zM32 16h1v1h-1zM36 18h2v1h-2zM46 18h1v1h-1zM71 18h1v1h-1zM162 19h2v1h-2zM111 20h1v1h-1zM161 20h1v1h-1zM165 20h1v1h-1zM111 21h1v1h-1zM166 21h1v1h-1zM160 22h1v1h-1zM75 23h1v1h-1zM171 23h1v1h-1zM77 24h1v1h-1zM178 25h1v1h-1zM112 26h1v1h-1zM181 26h1v1h-1zM159 27h1v1h-1zM96 29h1v1h-1zM151 33h1v1h-1zM113 34h1v1h-1zM157 34h1v1h-1zM112 35h1v1h-1z"/>
<path fill="#52fa7a" d="M27 1h1v1h-1zM112 2h1v1h-1zM122 2h1v1h-1zM28 10h1v1h-1zM54 11h1v1h-1zM122 12h1v1h-1zM29 13h1v1h-1zM70 14h1v1h-1zM122 14h1v1h-1zM122 15h1v1h-1zM33 17h1v1h-1zM49 17h1v1h-1zM123 20h1v1h-1zM164 20h1v1h-1zM124 22h1v1h-1zM167 22h1v1h-1zM125 23h1v1h-1zM170 23h1v1h-1zM175 24h1v1h-1zM80 25h1v1h-1zM126 25h1v1h-1zM88 26h1v1h-1zM184 27h1v1h-1zM129 28h1v1h-1zM159 28h1v1h-1zM113 29h1v1h-1zM135 29h1v1h-1zM159 29h1v1h-1zM113 30h1v1h-1zM99 31h1v1h-1zM145 31h1v1h-1zM148 32h1v1h-1zM110 36h1v1h-1z"/>
<path fill="#55fa76" d="M113 1h1v1h-1zM27 2h1v1h-1zM69 2h1v1h-1zM27 4h1v1h-1zM121 4h1v1h-1zM27 5h1v1h-1zM121 5h1v1h-1zM122 13h1v1h-1zM52 15h1v1h-1zM70 15h1v1h-1zM51 16h1v1h-1zM122 16h1v1h-1zM35 18h1v1h-1zM47 18h1v1h-1zM41 19h4v1h-4zM162 20h2v1h-2zM165 21h1v1h-1zM73 22h1v1h-1zM166 22h1v1h-1zM160 23h1v1h-1zM169 23h1v1h-1zM174 24h1v1h-1zM79 25h1v1h-1zM112 25h1v1h-1zM177 25h1v1h-1zM87 26h1v1h-1zM180 26h1v1h-1zM92 27h1v1h-1zM127 27h1v1h-1zM113 28h1v1h-1zM134 29h1v1h-1zM142 30h1v1h-1zM104 34h1v1h-1zM153 34h1v1h-1zM109 36h1v1h-1zM111 36h1v1h-1z"/>
<path fill="#59fb73" d="M114 0h1v1h-1zM122 0h1v1h-1zM122 1h1v1h-1zM27 3h1v1h-1zM112 3h1v1h-1zM112 4h1v1h-1zM112 5h1v1h-1zM27 6h1v1h-1zM112 6h1v1h-1zM121 6h1v1h-1zM69 7h1v1h-1zM112 7h1v1h-1zM112 8h1v1h-1zM121 8h1v1h-1zM112 9h1v1h-1zM121 9h1v1h-1zM69 10h1v1h-1zM112 10h1v1h-1zM121 10h1v1h-1zM28 11h1v1h-1zM112 11h1v1h-1zM54 12h1v1h-1zM69 12h1v1h-1zM112 12h1v1h-1zM112 13h1v1h-1zM53 14h1v1h-1zM112 14h1v1h-1zM30 15h1v1h-1zM112 15h1v1h-1zM31 16h1v1h-1zM112 16h1v1h-1zM50 17h1v1h-1zM112 17h1v1h-1zM122 17h1v1h-1zM34 18h1v1h-1zM48 18h1v1h-1zM112 18h1v1h-1zM39 19h2v1h-2zM45 19h1v1h-1zM71 19h1v1h-1zM72 21h1v1h-1zM123 21h1v1h-1zM161 21h1v1h-1zM163 21h2v1h-2zM112 23h1v1h-1zM168 23h1v1h-1zM76 24h1v1h-1zM112 24h1v1h-1zM160 24h1v1h-1zM126 26h1v1h-1zM94 28h1v1h-1zM133 29h1v1h-1zM97 30h1v1h-1zM159 30h1v1h-1zM114 32h1v1h-1z"/>
<path fill="#5dfc6f" d="M67 0h1v1h-1zM68 1h1v1h-1zM113 2h1v1h-1zM121 3h1v1h-1zM27 7h1v1h-1zM121 7h1v1h-1zM68 8h1v1h-1zM69 11h1v1h-1zM121 11h1v1h-1zM29 14h1v1h-1zM70 16h1v1h-1zM32 17h1v1h-1zM49 18h1v1h-1zM122 18h1v1h-1zM38 19h1v1h-1zM46 19h1v1h-1zM112 19h1v1h-1zM112 20h1v1h-1zM112 21h1v1h-1zM162 21h1v1h-1zM112 22h1v1h-1zM161 22h1v1h-1zM165 22h1v1h-1zM74 23h1v1h-1zM167 23h1v1h-1zM125 24h1v1h-1zM173 24h1v1h-1zM78 25h1v1h-1zM176 25h1v1h-1zM86 26h1v1h-1zM179 26h1v1h-1zM113 27h1v1h-1zM183 27h1v1h-1zM128 28h1v1h-1zM187 28h1v1h-1zM114 31h1v1h-1zM159 31h1v1h-1zM102 33h1v1h-1zM114 33h1v1h-1zM150 33h1v1h-1zM106 35h1v1h-1zM113 35h1v1h-1z"/>
<path fill="#61fc6c" d="M69 3h1v1h-1zM69 4h1v1h-1zM69 5h1v1h-1zM69 6h1v1h-1zM27 8h1v1h-1zM68 9h1v1h-1zM28 12h1v1h-1zM121 12h1v1h-1zM69 13h1v1h-1zM52 16h1v1h-1zM51 17h1v1h-1zM33 18h1v1h-1zM36 19h2v1h-2zM122 19h1v1h-1zM71 20h1v1h-1zM164 22h1v1h-1zM124 23h1v1h-1zM166 23h1v1h-1zM172 24h1v1h-1zM175 25h1v1h-1zM84 26h2v1h-2zM113 26h1v1h-1zM132 29h1v1h-1zM114 30h1v1h-1zM108 36h1v1h-1zM112 36h1v1h-1z"/>
<path fill="#65fd69" d="M26 0h1v1h-1zM55 0h1v1h-1zM115 0h1v1h-1zM114 1h1v1h-1zM121 2h1v1h-1zM113 3h1v1h-1zM113 4h1v1h-1zM120 4h1v1h-1zM113 5h1v1h-1zM120 5h1v1h-1zM113 6h1v1h-1zM55 7h1v1h-1zM113 7h1v1h-1zM55 8h1v1h-1zM113 8h1v1h-1zM27 9h1v1h-1zM55 9h1v1h-1zM113 9h1v1h-1zM113 10h1v1h-1zM113 11h1v1h-1zM113 12h1v1h-1zM28 13h1v1h-1zM54 13h1v1h-1zM113 13h1v1h-1zM121 13h1v1h-1zM113 14h1v1h-1zM121 14h1v1h-1zM53 15h1v1h-1zM113 15h1v1h-1zM121 15h1v1h-1zM113 16h1v1h-1zM121 16h1v1h-1zM70 17h1v1h-1zM113 17h1v1h-1zM50 18h1v1h-1zM113 18h1v1h-1zM35 19h1v1h-1zM47 19h1v1h-1zM42 20h1v1h-1zM122 20h1v1h-1zM123 22h1v1h-1zM162 22h2v1h-2zM165 23h1v1h-1zM75 24h1v1h-1zM113 24h1v1h-1zM168 24h4v1h-4zM77 25h1v1h-1zM113 25h1v1h-1zM125 25h1v1h-1zM160 25h1v1h-1zM83 26h1v1h-1zM178 26h1v1h-1zM91 27h1v1h-1zM126 27h1v1h-1zM182 27h1v1h-1zM114 29h1v1h-1zM131 29h1v1h-1zM191 30h1v1h-1zM147 32h1v1h-1zM114 34h1v1h-1z"/>
<path fill="#69fd66" d="M26 1h1v1h-1zM55 1h1v1h-1zM55 2h1v1h-1zM114 2h1v1h-1zM120 3h1v1h-1zM55 4h1v1h-1zM55 6h1v1h-1zM120 6h1v1h-1zM120 7h1v1h-1zM120 8h1v1h-1zM120 9h1v1h-1zM27 10h1v1h-1zM55 10h1v1h-1zM120 10h1v1h-1zM120 11h1v1h-1zM68 12h1v1h-1zM29 15h1v1h-1zM30 16h1v1h-1zM31 17h1v1h-1zM121 17h1v1h-1zM70 18h1v1h-1zM34 19h1v1h-1zM48 19h1v1h-1zM113 19h1v1h-1zM41 20h1v1h-1zM43 20h2v1h-2zM113 20h1v1h-1zM113 21h1v1h-1zM122 21h1v1h-1zM72 22h1v1h-1zM113 22h1v1h-1zM113 23h1v1h-1zM161 23h1v1h-1zM166 24h2v1h-2zM174 25h1v1h-1zM82 26h1v1h-1zM125 26h1v1h-1zM177 26h1v1h-1zM114 28h1v1h-1zM127 28h1v1h-1zM95 29h1v1h-1zM130 29h1v1h-1zM100 32h1v1h-1zM152 34h1v1h-1zM158 34h1v1h-1z"/>
<path fill="#6dfe62" d="M116 0h1v1h-1zM121 0h1v1h-1zM115 1h1v1h-1zM121 1h1v1h-1zM26 2h1v1h-1zM68 2h1v1h-1zM55 3h1v1h-1zM114 3h1v1h-1zM26 5h1v1h-1zM55 5h1v1h-1zM114 6h1v1h-1zM68 7h1v1h-1zM114 7h1v1h-1zM67 8h1v1h-1zM114 8h1v1h-1zM114 9h1v1h-1zM68 10h1v1h-1zM114 10h1v1h-1zM27 11h1v1h-1zM55 11h1v1h-1zM114 11h1v1h-1zM114 12h1v1h-1zM120 12h1v1h-1zM68 13h1v1h-1zM114 13h1v1h-1zM120 13h1v1h-1zM28 14h1v1h-1zM54 14h1v1h-1zM69 14h1v1h-1zM114 14h1v1h-1zM120 14h1v1h-1zM114 15h1v1h-1zM120 15h1v1h-1zM114 16h1v1h-1zM52 17h1v1h-1zM114 17h1v1h-1zM32 18h1v1h-1zM51 18h1v1h-1zM121 18h1v1h-1zM49 19h1v1h-1zM39 20h2v1h-2zM45 20h1v1h-1zM71 21h1v1h-1zM73 23h1v1h-1zM164 23h1v1h-1zM124 24h1v1h-1zM76 25h1v1h-1zM173 25h1v1h-1zM81 26h1v1h-1zM114 26h1v1h-1zM176 26h1v1h-1zM114 27h1v1h-1zM181 27h1v1h-1zM186 28h1v1h-1zM189 29h1v1h-1zM141 30h1v1h-1zM98 31h1v1h-1zM144 31h1v1h-1zM115 32h1v1h-1zM159 32h1v1h-1zM155 35h2v1h-2z"/>
<path fill="#71fe5f" d="M66 0h1v1h-1zM117 0h1v1h-1zM67 1h1v1h-1zM115 2h1v1h-1zM120 2h1v1h-1zM26 3h1v1h-1zM119 3h1v1h-1zM26 4h1v1h-1zM114 4h1v1h-1zM119 4h1v1h-1zM114 5h1v1h-1zM119 5h1v1h-1zM26 6h1v1h-1zM119 6h1v1h-1zM119 7h1v1h-1zM119 8h1v1h-1zM67 9h1v1h-1zM119 9h1v1h-1zM119 10h1v1h-1zM68 11h1v1h-1zM119 11h1v1h-1zM55 12h1v1h-1zM53 16h1v1h-1zM120 16h1v1h-1zM30 17h1v1h-1zM114 18h1v1h-1zM33 19h1v1h-1zM50 19h1v1h-1zM70 19h1v1h-1zM121 19h1v1h-1zM37 20h2v1h-2zM46 20h1v1h-1zM114 20h1v1h-1zM114 21h1v1h-1zM114 22h1v1h-1zM122 22h1v1h-1zM114 23h1v1h-1zM123 23h1v1h-1zM162 23h2v1h-2zM74 24h1v1h-1zM114 24h1v1h-1zM161 24h1v1h-1zM165 24h1v1h-1zM114 25h1v1h-1zM124 25h1v1h-1zM172 25h1v1h-1zM79 26h2v1h-2zM125 27h1v1h-1zM93 28h1v1h-1zM115 29h1v1h-1zM129 29h1v1h-1zM115 30h1v1h-1zM115 31h1v1h-1zM115 33h1v1h-1zM149 33h1v1h-1zM103 34h1v1h-1zM114 35h1v1h-1zM113 36h1v1h-1z"/>
<path fill="#75fe5c" d="M118 0h1v1h-1zM120 0h1v1h-1zM116 1h1v1h-1zM120 1h1v1h-1zM115 3h1v1h-1zM115 4h1v1h-1zM118 4h1v1h-1zM115 5h1v1h-1zM118 5h1v1h-1zM68 6h1v1h-1zM115 6h1v1h-1zM118 6h1v1h-1zM26 7h1v1h-1zM115 7h1v1h-1zM118 7h1v1h-1zM115 8h1v1h-1zM115 9h1v1h-1zM115 10h1v1h-1zM118 10h1v1h-1zM115 11h1v1h-1zM27 12h1v1h-1zM115 12h1v1h-1zM119 12h1v1h-1zM115 13h2v1h-2zM119 13h1v1h-1zM115 14h2v1h-2zM119 14h1v1h-1zM54 15h1v1h-1zM69 15h1v1h-1zM115 15h2v1h-2zM119 15h1v1h-1zM29 16h1v1h-1zM115 16h1v1h-1zM53 17h1v1h-1zM115 17h1v1h-1zM120 17h1v1h-1zM31 18h1v1h-1zM52 18h1v1h-1zM114 19h1v1h-1zM36 20h1v1h-1zM47 20h1v1h-1zM121 20h1v1h-1zM115 21h1v1h-1zM121 21h1v1h-1zM115 22h2v1h-2zM115 23h1v1h-1zM75 25h1v1h-1zM167 25h5v1h-5zM78 26h1v1h-1zM124 26h1v1h-1zM160 26h1v1h-1zM175 26h1v1h-1zM90 27h1v1h-1zM115 27h1v1h-1zM180 27h1v1h-1zM115 28h1v1h-1zM126 28h1v1h-1zM128 29h1v1h-1zM96 30h1v1h-1zM159 33h1v1h-1zM115 34h1v1h-1zM105 35h1v1h-1zM154 35h1v1h-1zM110 37h2v1h-2z"/>
<path fill="#79fe59" d="M119 0h1v1h-1zM117 1h1v1h-1zM116 2h2v1h-2zM119 2h1v1h-1zM68 3h1v1h-1zM116 3h3v1h-3zM68 4h1v1h-1zM116 4h2v1h-2zM68 5h1v1h-1zM116 5h2v1h-2zM116 6h2v1h-2zM116 7h2v1h-2zM26 8h1v1h-1zM116 8h3v1h-3zM26 9h1v1h-1zM116 9h3v1h-3zM116 10h2v1h-2zM116 11h3v1h-3zM67 12h1v1h-1zM116 12h3v1h-3zM27 13h1v1h-1zM55 13h1v1h-1zM117 13h2v1h-2zM117 14h2v1h-2zM28 15h1v1h-1zM117 15h2v1h-2zM69 16h1v1h-1zM116 16h4v1h-4zM115 18h1v1h-1zM120 18h1v1h-1zM51 19h1v1h-1zM35 20h1v1h-1zM48 20h1v1h-1zM70 20h1v1h-1zM115 20h1v1h-1zM41 21h5v1h-5zM116 21h2v1h-2zM117 22h2v1h-2zM121 22h1v1h-1zM116 23h3v1h-3zM122 23h1v1h-1zM115 24h2v1h-2zM123 24h1v1h-1zM162 24h1v1h-1zM164 24h1v1h-1zM115 25h1v1h-1zM166 25h1v1h-1zM77 26h1v1h-1zM115 26h1v1h-1zM174 26h1v1h-1zM160 27h1v1h-1zM179 27h1v1h-1zM185 28h1v1h-1zM157 35h1v1h-1zM107 36h1v1h-1z"/>
<path fill="#7dff56" d="M25 0h1v1h-1zM56 0h1v1h-1zM118 1h2v1h-2zM118 2h1v1h-1zM56 7h1v1h-1zM67 7h1v1h-1zM56 8h1v1h-1zM66 8h1v1h-1zM26 10h1v1h-1zM67 10h1v1h-1zM67 13h1v1h-1zM55 14h1v1h-1zM54 16h1v1h-1zM69 17h1v1h-1zM116 17h2v1h-2zM119 17h1v1h-1zM53 18h1v1h-1zM32 19h1v1h-1zM52 19h1v1h-1zM115 19h1v1h-1zM120 19h1v1h-1zM34 20h1v1h-1zM49 20h2v1h-2zM116 20h1v1h-1zM120 20h1v1h-1zM40 21h1v1h-1zM46 21h1v1h-1zM118 21h3v1h-3zM71 22h1v1h-1zM119 22h2v1h-2zM72 23h1v1h-1zM119 23h1v1h-1zM121 23h1v1h-1zM73 24h1v1h-1zM117 24h2v1h-2zM163 24h1v1h-1zM116 25h1v1h-1zM123 25h1v1h-1zM161 25h1v1h-1zM165 25h1v1h-1zM76 26h1v1h-1zM116 26h1v1h-1zM173 26h1v1h-1zM89 27h1v1h-1zM116 27h1v1h-1zM124 27h1v1h-1zM116 28h1v1h-1zM125 28h1v1h-1zM116 29h1v1h-1zM127 29h1v1h-1zM116 30h1v1h-1zM116 31h1v1h-1zM192 31h1v1h-1zM116 32h1v1h-1zM146 32h1v1h-1zM101 33h1v1h-1zM151 34h1v1h-1zM115 35h1v1h-1zM114 36h1v1h-1zM109 37h1v1h-1zM112 37h1v1h-1z"/>
<path fill="#80ff53" d="M65 0h1v1h-1zM25 1h1v1h-1zM66 1h1v1h-1zM67 2h1v1h-1zM56 6h1v1h-1zM56 9h1v1h-1zM67 11h1v1h-1zM27 14h1v1h-1zM68 14h1v1h-1zM28 16h1v1h-1zM29 17h1v1h-1zM54 17h1v1h-1zM118 17h1v1h-1zM30 18h1v1h-1zM69 18h1v1h-1zM116 18h2v1h-2zM119 18h1v1h-1zM53 19h1v1h-1zM116 19h1v1h-1zM119 19h1v1h-1zM33 20h1v1h-1zM51 20h1v1h-1zM117 20h3v1h-3zM38 21h2v1h-2zM47 21h1v1h-1zM70 21h1v1h-1zM43 22h2v1h-2zM120 23h1v1h-1zM119 24h1v1h-1zM122 24h1v1h-1zM74 25h1v1h-1zM117 25h2v1h-2zM117 26h1v1h-1zM123 26h1v1h-1zM166 26h7v1h-7zM88 27h1v1h-1zM117 27h1v1h-1zM178 27h1v1h-1zM117 28h1v1h-1zM94 29h1v1h-1zM140 30h1v1h-1zM116 33h1v1h-1zM116 34h1v1h-1z"/>
<path fill="#84ff51" d="M56 1h1v1h-1zM25 2h1v1h-1zM56 2h1v1h-1zM25 3h1v1h-1zM56 3h1v1h-1zM56 4h1v1h-1zM25 5h1v1h-1zM56 5h1v1h-1zM66 9h1v1h-1zM56 10h1v1h-1zM26 11h1v1h-1zM56 11h1v1h-1zM56 12h1v1h-1zM55 15h1v1h-1zM54 18h1v1h-1zM118 18h1v1h-1zM31 19h1v1h-1zM69 19h1v1h-1zM117 19h2v1h-2zM52 20h1v1h-1zM36 21h2v1h-2zM48 21h2v1h-2zM40 22h3v1h-3zM45 22h2v1h-2zM120 24h2v1h-2zM119 25h4v1h-4zM164 25h1v1h-1zM75 26h1v1h-1zM118 26h1v1h-1zM122 26h1v1h-1zM87 27h1v1h-1zM118 27h1v1h-1zM123 27h1v1h-1zM177 27h1v1h-1zM118 28h1v1h-1zM124 28h1v1h-1zM160 28h1v1h-1zM184 28h1v1h-1zM117 29h1v1h-1zM126 29h1v1h-1zM99 32h1v1h-1zM148 33h1v1h-1zM153 35h1v1h-1zM158 35h1v1h-1z"/>
<path fill="#88ff4e" d="M67 3h1v1h-1zM25 4h1v1h-1zM25 6h1v1h-1zM67 6h1v1h-1zM66 7h1v1h-1zM26 12h1v1h-1zM66 12h1v1h-1zM56 13h1v1h-1zM27 15h1v1h-1zM68 15h1v1h-1zM55 16h1v1h-1zM54 19h1v1h-1zM32 20h1v1h-1zM53 20h1v1h-1zM35 21h1v1h-1zM50 21h1v1h-1zM39 22h1v1h-1zM47 22h3v1h-3zM43 23h4v1h-4zM71 23h1v1h-1zM72 24h1v1h-1zM73 25h1v1h-1zM162 25h2v1h-2zM74 26h1v1h-1zM119 26h3v1h-3zM165 26h1v1h-1zM79 27h8v1h-8zM119 27h1v1h-1zM122 27h1v1h-1zM176 27h1v1h-1zM92 28h1v1h-1zM183 28h1v1h-1zM160 29h1v1h-1zM117 30h1v1h-1zM97 31h1v1h-1zM117 31h1v1h-1zM143 31h1v1h-1zM117 32h1v1h-1zM117 33h1v1h-1zM159 34h1v1h-1zM116 35h1v1h-1zM115 36h1v1h-1zM108 37h1v1h-1zM113 37h1v1h-1z"/>
<path fill="#8bff4b" d="M66 2h1v1h-1zM67 4h1v1h-1zM67 5h1v1h-1zM25 7h1v1h-1zM66 10h1v1h-1zM26 13h1v1h-1zM66 13h1v1h-1zM56 14h1v1h-1zM68 16h1v1h-1zM28 17h1v1h-1zM55 17h1v1h-1zM68 17h1v1h-1zM29 18h1v1h-1zM55 18h1v1h-1zM55 19h1v1h-1zM54 20h1v1h-1zM69 20h1v1h-1zM34 21h1v1h-1zM51 21h3v1h-3zM37 22h2v1h-2zM50 22h3v1h-3zM70 22h1v1h-1zM41 23h2v1h-2zM47 23h8v1h-8zM50 24h5v1h-5zM161 26h1v1h-1zM76 27h3v1h-3zM120 27h2v1h-2zM167 27h2v1h-2zM174 27h2v1h-2zM119 28h1v1h-1zM123 28h1v1h-1zM118 29h1v1h-1zM125 29h1v1h-1zM188 29h1v1h-1zM139 30h1v1h-1zM117 34h1v1h-1zM116 36h1v1h-1z"/>
<path fill="#8fff49" d="M24 0h1v1h-1zM65 1h1v1h-1zM57 7h1v1h-1zM25 8h1v1h-1zM57 8h1v1h-1zM65 8h1v1h-1zM25 9h1v1h-1zM66 11h1v1h-1zM67 14h1v1h-1zM56 15h1v1h-1zM27 16h1v1h-1zM68 18h1v1h-1zM30 19h1v1h-1zM55 20h1v1h-1zM33 21h1v1h-1zM54 21h1v1h-1zM69 21h1v1h-1zM36 22h1v1h-1zM53 22h2v1h-2zM39 23h2v1h-2zM55 23h1v1h-1zM45 24h5v1h-5zM55 24h1v1h-1zM51 25h4v1h-4zM72 25h1v1h-1zM73 26h1v1h-1zM164 26h1v1h-1zM75 27h1v1h-1zM166 27h1v1h-1zM169 27h2v1h-2zM173 27h1v1h-1zM120 28h3v1h-3zM182 28h1v1h-1zM119 29h1v1h-1zM95 30h1v1h-1zM118 30h1v1h-1zM160 30h1v1h-1zM190 30h1v1h-1zM118 31h1v1h-1zM118 32h1v1h-1zM118 33h1v1h-1zM102 34h1v1h-1zM150 34h1v1h-1zM104 35h1v1h-1zM117 35h1v1h-1z"/>
<path fill="#92ff47" d="M57 0h1v1h-1zM64 0h1v1h-1zM57 4h1v1h-1zM57 6h1v1h-1zM66 6h1v1h-1zM57 9h1v1h-1zM65 9h1v1h-1zM25 10h1v1h-1zM26 14h1v1h-1zM56 16h1v1h-1zM56 17h1v1h-1zM56 18h1v1h-1zM56 19h1v1h-1zM68 19h1v1h-1zM31 20h1v1h-1zM56 20h1v1h-1zM55 21h1v1h-1zM35 22h1v1h-1zM55 22h2v1h-2zM37 23h2v1h-2zM56 23h1v1h-1zM70 23h1v1h-1zM43 24h2v1h-2zM56 24h1v1h-1zM71 24h1v1h-1zM49 25h2v1h-2zM55 25h1v1h-1zM51 26h4v1h-4zM74 27h1v1h-1zM171 27h2v1h-2zM120 29h1v1h-1zM124 29h1v1h-1zM119 30h1v1h-1zM127 30h4v1h-4zM138 30h1v1h-1zM160 31h1v1h-1zM145 32h1v1h-1zM118 34h1v1h-1zM118 35h1v1h-1zM106 36h1v1h-1zM117 36h1v1h-1zM155 36h3v1h-3zM114 37h1v1h-1z"/>
<path fill="#96fe44" d="M24 1h1v1h-1zM57 1h1v1h-1zM57 2h1v1h-1zM57 3h1v1h-1zM66 3h1v1h-1zM57 5h1v1h-1zM66 5h1v1h-1zM65 7h1v1h-1zM57 10h1v1h-1zM25 11h1v1h-1zM57 11h1v1h-1zM57 12h1v1h-1zM65 12h1v1h-1zM57 13h1v1h-1zM57 14h1v1h-1zM26 15h1v1h-1zM67 15h1v1h-1zM67 16h1v1h-1zM28 18h1v1h-1zM29 19h1v1h-1zM68 20h1v1h-1zM32 21h1v1h-1zM56 21h1v1h-1zM34 22h1v1h-1zM57 22h1v1h-1zM69 22h1v1h-1zM36 23h1v1h-1zM57 23h1v1h-1zM41 24h2v1h-2zM57 24h1v1h-1zM47 25h2v1h-2zM56 25h1v1h-1zM50 26h1v1h-1zM55 26h1v1h-1zM72 26h1v1h-1zM162 26h2v1h-2zM52 27h4v1h-4zM73 27h1v1h-1zM161 27h1v1h-1zM165 27h1v1h-1zM167 28h2v1h-2zM181 28h1v1h-1zM121 29h3v1h-3zM126 30h1v1h-1zM131 30h1v1h-1zM119 31h1v1h-1zM119 32h1v1h-1zM119 33h1v1h-1zM119 34h1v1h-1zM152 35h1v1h-1zM159 35h1v1h-1zM118 36h1v1h-1zM115 37h2v1h-2z"/>
<path fill="#99fe42" d="M24 2h1v1h-1zM65 2h1v1h-1zM66 4h1v1h-1zM65 10h1v1h-1zM65 11h1v1h-1zM65 13h1v1h-1zM66 14h1v1h-1zM57 15h1v1h-1zM57 16h1v1h-1zM27 17h1v1h-1zM57 17h1v1h-1zM67 17h1v1h-1zM57 18h1v1h-1zM67 18h1v1h-1zM57 19h1v1h-1zM30 20h1v1h-1zM57 20h1v1h-1zM57 21h1v1h-1zM68 21h1v1h-1zM33 22h1v1h-1zM58 22h1v1h-1zM35 23h1v1h-1zM58 23h1v1h-1zM39 24h2v1h-2zM58 24h1v1h-1zM70 24h1v1h-1zM46 25h1v1h-1zM57 25h1v1h-1zM71 25h1v1h-1zM49 26h1v1h-1zM56 26h1v1h-1zM51 27h1v1h-1zM56 27h1v1h-1zM52 28h5v1h-5zM75 28h4v1h-4zM91 28h1v1h-1zM166 28h1v1h-1zM169 28h1v1h-1zM180 28h1v1h-1zM55 29h2v1h-2zM93 29h1v1h-1zM120 30h1v1h-1zM125 30h1v1h-1zM132 30h1v1h-1zM137 30h1v1h-1zM160 32h1v1h-1zM100 33h1v1h-1zM147 33h1v1h-1zM160 33h1v1h-1zM119 35h1v1h-1zM154 36h1v1h-1zM158 36h1v1h-1zM117 37h1v1h-1z"/>
<path fill="#9cfe40" d="M64 1h1v1h-1zM24 3h1v1h-1zM24 4h1v1h-1zM24 5h1v1h-1zM24 6h1v1h-1zM65 6h1v1h-1zM58 7h1v1h-1zM58 8h1v1h-1zM25 12h1v1h-1zM26 16h1v1h-1zM58 17h1v1h-1zM58 18h1v1h-1zM58 19h1v1h-1zM67 19h1v1h-1zM58 20h1v1h-1zM67 20h1v1h-1zM31 21h1v1h-1zM58 21h2v1h-2zM59 22h1v1h-1zM68 22h1v1h-1zM34 23h1v1h-1zM59 23h1v1h-1zM69 23h1v1h-1zM37 24h2v1h-2zM59 24h1v1h-1zM44 25h2v1h-2zM58 25h1v1h-1zM48 26h1v1h-1zM57 26h1v1h-1zM71 26h1v1h-1zM50 27h1v1h-1zM57 27h1v1h-1zM72 27h1v1h-1zM164 27h1v1h-1zM57 28h2v1h-2zM73 28h2v1h-2zM79 28h1v1h-1zM170 28h1v1h-1zM179 28h1v1h-1zM53 29h2v1h-2zM57 29h3v1h-3zM56 30h6v1h-6zM121 30h4v1h-4zM133 30h1v1h-1zM136 30h1v1h-1zM59 31h3v1h-3zM120 31h1v1h-1zM98 32h1v1h-1zM120 32h1v1h-1zM120 33h1v1h-1zM120 34h1v1h-1zM120 35h1v1h-1zM119 36h1v1h-1zM107 37h1v1h-1zM118 37h1v1h-1z"/>
<path fill="#9ffd3f" d="M63 0h1v1h-1zM64 2h1v1h-1zM58 3h1v1h-1zM65 3h1v1h-1zM58 4h1v1h-1zM65 4h1v1h-1zM58 5h1v1h-1zM65 5h1v1h-1zM58 6h1v1h-1zM24 7h1v1h-1zM64 8h1v1h-1zM58 9h1v1h-1zM64 9h1v1h-1zM58 10h1v1h-1zM58 11h1v1h-1zM58 12h1v1h-1zM25 13h1v1h-1zM58 13h1v1h-1zM58 14h1v1h-1zM65 14h1v1h-1zM58 15h1v1h-1zM66 15h1v1h-1zM58 16h1v1h-1zM66 16h1v1h-1zM66 17h1v1h-1zM27 18h1v1h-1zM59 18h1v1h-1zM66 18h1v1h-1zM28 19h1v1h-1zM59 19h1v1h-1zM66 19h1v1h-1zM29 20h1v1h-1zM59 20h2v1h-2zM60 21h1v1h-1zM67 21h1v1h-1zM32 22h1v1h-1zM60 22h1v1h-1zM33 23h1v1h-1zM60 23h1v1h-1zM36 24h1v1h-1zM60 24h1v1h-1zM69 24h1v1h-1zM43 25h1v1h-1zM59 25h1v1h-1zM70 25h1v1h-1zM47 26h1v1h-1zM58 26h2v1h-2zM70 26h1v1h-1zM49 27h1v1h-1zM58 27h2v1h-2zM71 27h1v1h-1zM162 27h2v1h-2zM51 28h1v1h-1zM59 28h2v1h-2zM72 28h1v1h-1zM80 28h2v1h-2zM161 28h1v1h-1zM165 28h1v1h-1zM171 28h2v1h-2zM174 28h5v1h-5zM52 29h1v1h-1zM60 29h3v1h-3zM72 29h5v1h-5zM166 29h3v1h-3zM187 29h1v1h-1zM55 30h1v1h-1zM62 30h3v1h-3zM134 30h2v1h-2zM57 31h2v1h-2zM62 31h4v1h-4zM121 31h1v1h-1zM59 32h9v1h-9zM121 32h1v1h-1zM63 33h5v1h-5zM121 33h1v1h-1zM64 34h4v1h-4zM121 34h1v1h-1zM149 34h1v1h-1zM66 35h2v1h-2zM66 36h2v1h-2zM159 36h1v1h-1z"/>
<path fill="#a1fd3d" d="M23 0h1v1h-1zM58 0h1v1h-1zM58 2h1v1h-1zM59 3h1v1h-1zM64 3h1v1h-1zM64 6h1v1h-1zM64 7h1v1h-1zM24 8h1v1h-1zM64 12h1v1h-1zM64 13h1v1h-1zM25 14h1v1h-1zM65 15h1v1h-1zM59 16h1v1h-1zM65 16h1v1h-1zM26 17h1v1h-1zM59 17h2v1h-2zM65 17h1v1h-1zM60 18h1v1h-1zM65 18h1v1h-1zM60 19h2v1h-2zM65 19h1v1h-1zM61 20h2v1h-2zM66 20h1v1h-1zM30 21h1v1h-1zM61 21h2v1h-2zM66 21h1v1h-1zM31 22h1v1h-1zM61 22h2v1h-2zM67 22h1v1h-1zM61 23h1v1h-1zM68 23h1v1h-1zM35 24h1v1h-1zM61 24h1v1h-1zM42 25h1v1h-1zM60 25h1v1h-1zM69 25h1v1h-1zM46 26h1v1h-1zM60 26h1v1h-1zM60 27h2v1h-2zM70 27h1v1h-1zM50 28h1v1h-1zM61 28h3v1h-3zM70 28h2v1h-2zM82 28h1v1h-1zM173 28h1v1h-1zM63 29h3v1h-3zM70 29h2v1h-2zM77 29h1v1h-1zM169 29h1v1h-1zM54 30h1v1h-1zM65 30h11v1h-11zM56 31h1v1h-1zM66 31h8v1h-8zM96 31h1v1h-1zM122 31h1v1h-1zM125 31h2v1h-2zM58 32h1v1h-1zM68 32h3v1h-3zM122 32h1v1h-1zM61 33h2v1h-2zM68 33h2v1h-2zM122 33h1v1h-1zM63 34h1v1h-1zM68 34h1v1h-1zM160 34h1v1h-1zM64 35h2v1h-2zM68 35h1v1h-1zM103 35h1v1h-1zM121 35h1v1h-1zM65 36h1v1h-1zM68 36h1v1h-1zM120 36h1v1h-1z"/>
<path fill="#a4fc3c" d="M62 0h1v1h-1zM58 1h1v1h-1zM63 1h1v1h-1zM63 2h1v1h-1zM60 3h1v1h-1zM59 4h1v1h-1zM64 4h1v1h-1zM59 5h1v1h-1zM64 5h1v1h-1zM59 6h1v1h-1zM59 7h1v1h-1zM59 8h1v1h-1zM24 9h1v1h-1zM64 10h1v1h-1zM64 11h1v1h-1zM59 13h1v1h-1zM59 14h1v1h-1zM64 14h1v1h-1zM25 15h1v1h-1zM59 15h1v1h-1zM64 15h1v1h-1zM60 16h1v1h-1zM63 16h2v1h-2zM61 17h4v1h-4zM61 18h4v1h-4zM62 19h3v1h-3zM63 20h3v1h-3zM63 21h3v1h-3zM63 22h4v1h-4zM32 23h1v1h-1zM62 23h2v1h-2zM67 23h1v1h-1zM34 24h1v1h-1zM62 24h1v1h-1zM68 24h1v1h-1zM40 25h2v1h-2zM61 25h2v1h-2zM68 25h1v1h-1zM61 26h2v1h-2zM68 26h2v1h-2zM48 27h1v1h-1zM62 27h2v1h-2zM68 27h2v1h-2zM64 28h6v1h-6zM83 28h1v1h-1zM90 28h1v1h-1zM164 28h1v1h-1zM51 29h1v1h-1zM66 29h4v1h-4zM78 29h1v1h-1zM161 29h1v1h-1zM165 29h1v1h-1zM170 29h1v1h-1zM53 30h1v1h-1zM76 30h1v1h-1zM94 30h1v1h-1zM166 30h2v1h-2zM74 31h1v1h-1zM123 31h2v1h-2zM127 31h2v1h-2zM142 31h1v1h-1zM57 32h1v1h-1zM71 32h2v1h-2zM123 32h1v1h-1zM60 33h1v1h-1zM70 33h1v1h-1zM62 34h1v1h-1zM69 34h1v1h-1zM101 34h1v1h-1zM122 34h1v1h-1zM63 35h1v1h-1zM160 35h1v1h-1zM64 36h1v1h-1zM105 36h1v1h-1zM153 36h1v1h-1zM66 37h3v1h-3zM119 37h1v1h-1zM111 38h1v1h-1z"/>
<path fill="#a7fc3a" d="M59 0h1v1h-1zM61 0h1v1h-1zM23 1h1v1h-1zM59 2h1v1h-1zM61 3h3v1h-3zM60 4h2v1h-2zM63 4h1v1h-1zM63 5h1v1h-1zM63 6h1v1h-1zM59 9h1v1h-1zM24 10h1v1h-1zM59 10h1v1h-1zM24 11h1v1h-1zM59 11h1v1h-1zM59 12h1v1h-1zM63 12h1v1h-1zM63 13h1v1h-1zM60 14h1v1h-1zM63 14h1v1h-1zM60 15h4v1h-4zM61 16h2v1h-2zM27 19h1v1h-1zM28 20h1v1h-1zM29 21h1v1h-1zM30 22h1v1h-1zM31 23h1v1h-1zM64 23h3v1h-3zM33 24h1v1h-1zM63 24h5v1h-5zM38 25h2v1h-2zM63 25h5v1h-5zM45 26h1v1h-1zM63 26h5v1h-5zM64 27h4v1h-4zM49 28h1v1h-1zM84 28h1v1h-1zM162 28h1v1h-1zM171 29h1v1h-1zM77 30h1v1h-1zM161 30h1v1h-1zM165 30h1v1h-1zM168 30h1v1h-1zM55 31h1v1h-1zM75 31h1v1h-1zM129 31h1v1h-1zM73 32h1v1h-1zM124 32h1v1h-1zM59 33h1v1h-1zM71 33h1v1h-1zM123 33h1v1h-1zM61 34h1v1h-1zM123 34h1v1h-1zM62 35h1v1h-1zM69 35h1v1h-1zM122 35h1v1h-1zM151 35h1v1h-1zM69 36h1v1h-1zM121 36h1v1h-1zM160 36h1v1h-1zM65 37h1v1h-1zM69 37h1v1h-1zM159 37h1v1h-1zM112 38h1v1h-1z"/>
<path fill="#a9fb39" d="M60 0h1v1h-1zM59 1h1v1h-1zM62 1h1v1h-1zM60 2h3v1h-3zM62 4h1v1h-1zM60 5h3v1h-3zM60 6h1v1h-1zM62 6h1v1h-1zM60 7h1v1h-1zM63 7h1v1h-1zM60 8h1v1h-1zM63 8h1v1h-1zM63 9h1v1h-1zM63 10h1v1h-1zM63 11h1v1h-1zM60 12h1v1h-1zM60 13h3v1h-3zM61 14h2v1h-2zM25 16h1v1h-1zM26 18h1v1h-1zM32 24h1v1h-1zM35 25h3v1h-3zM44 26h1v1h-1zM47 27h1v1h-1zM85 28h3v1h-3zM89 28h1v1h-1zM163 28h1v1h-1zM50 29h1v1h-1zM79 29h1v1h-1zM164 29h1v1h-1zM52 30h1v1h-1zM169 30h1v1h-1zM54 31h1v1h-1zM161 31h1v1h-1zM165 31h3v1h-3zM56 32h1v1h-1zM74 32h1v1h-1zM125 32h2v1h-2zM144 32h1v1h-1zM58 33h1v1h-1zM72 33h1v1h-1zM124 33h1v1h-1zM146 33h1v1h-1zM60 34h1v1h-1zM70 34h1v1h-1zM63 36h1v1h-1zM157 37h2v1h-2zM160 37h1v1h-1zM110 38h1v1h-1z"/>
<path fill="#acfb38" d="M60 1h2v1h-2zM23 2h1v1h-1zM23 3h1v1h-1zM23 4h1v1h-1zM23 5h1v1h-1zM61 6h1v1h-1zM61 7h2v1h-2zM61 8h2v1h-2zM60 9h1v1h-1zM62 9h1v1h-1zM60 10h1v1h-1zM62 10h1v1h-1zM60 11h3v1h-3zM24 12h1v1h-1zM61 12h2v1h-2zM27 20h1v1h-1zM28 21h1v1h-1zM34 25h1v1h-1zM43 26h1v1h-1zM46 27h1v1h-1zM48 28h1v1h-1zM88 28h1v1h-1zM80 29h1v1h-1zM92 29h1v1h-1zM172 29h1v1h-1zM186 29h1v1h-1zM78 30h1v1h-1zM76 31h1v1h-1zM130 31h1v1h-1zM191 31h1v1h-1zM161 32h1v1h-1zM99 33h1v1h-1zM125 33h1v1h-1zM161 33h1v1h-1zM124 34h1v1h-1zM148 34h1v1h-1zM61 35h1v1h-1zM70 35h1v1h-1zM123 35h1v1h-1zM122 36h1v1h-1zM64 37h1v1h-1zM120 37h1v1h-1zM156 37h1v1h-1zM109 38h1v1h-1z"/>
<path fill="#affa37" d="M22 0h1v1h-1zM23 6h1v1h-1zM61 9h1v1h-1zM61 10h1v1h-1zM24 13h1v1h-1zM25 17h1v1h-1zM29 22h1v1h-1zM30 23h1v1h-1zM31 24h1v1h-1zM33 25h1v1h-1zM42 26h1v1h-1zM162 29h2v1h-2zM173 29h2v1h-2zM51 30h1v1h-1zM164 30h1v1h-1zM170 30h1v1h-1zM53 31h1v1h-1zM164 31h1v1h-1zM168 31h1v1h-1zM75 32h1v1h-1zM97 32h1v1h-1zM127 32h1v1h-1zM165 32h2v1h-2zM57 33h1v1h-1zM73 33h1v1h-1zM59 34h1v1h-1zM71 34h1v1h-1zM161 34h1v1h-1zM161 35h1v1h-1zM62 36h1v1h-1zM70 36h1v1h-1zM161 36h1v1h-1zM70 37h1v1h-1zM155 37h1v1h-1zM113 38h1v1h-1z"/>
<path fill="#b1f936" d="M23 7h1v1h-1zM24 14h1v1h-1zM26 19h1v1h-1zM32 25h1v1h-1zM40 26h2v1h-2zM45 27h1v1h-1zM47 28h1v1h-1zM49 29h1v1h-1zM81 29h1v1h-1zM175 29h1v1h-1zM162 30h2v1h-2zM171 30h1v1h-1zM189 30h1v1h-1zM77 31h1v1h-1zM131 31h1v1h-1zM162 31h1v1h-1zM55 32h1v1h-1zM128 32h1v1h-1zM164 32h1v1h-1zM167 32h1v1h-1zM74 33h1v1h-1zM126 33h1v1h-1zM72 34h1v1h-1zM60 35h1v1h-1zM152 36h1v1h-1zM63 37h1v1h-1zM106 37h1v1h-1zM154 37h1v1h-1zM161 37h1v1h-1zM114 38h1v1h-1z"/>
<path fill="#b4f836" d="M23 8h1v1h-1zM24 15h1v1h-1zM27 21h1v1h-1zM28 22h1v1h-1zM29 23h1v1h-1zM30 24h1v1h-1zM31 25h1v1h-1zM36 26h4v1h-4zM176 29h1v1h-1zM185 29h1v1h-1zM79 30h1v1h-1zM163 31h1v1h-1zM169 31h1v1h-1zM76 32h1v1h-1zM162 32h2v1h-2zM192 32h1v1h-1zM162 33h1v1h-1zM164 33h2v1h-2zM58 34h1v1h-1zM125 34h1v1h-1zM71 35h1v1h-1zM102 35h1v1h-1zM124 35h1v1h-1zM150 35h1v1h-1zM61 36h1v1h-1zM121 37h1v1h-1zM108 38h1v1h-1zM115 38h3v1h-3z"/>
<path fill="#b7f735" d="M22 1h1v1h-1zM23 9h1v1h-1zM23 10h1v1h-1zM24 16h1v1h-1zM25 18h1v1h-1zM26 20h1v1h-1zM33 26h3v1h-3zM44 27h1v1h-1zM82 29h1v1h-1zM177 29h2v1h-2zM182 29h1v1h-1zM93 30h1v1h-1zM172 30h1v1h-1zM52 31h1v1h-1zM78 31h1v1h-1zM95 31h1v1h-1zM129 32h1v1h-1zM56 33h1v1h-1zM75 33h1v1h-1zM127 33h1v1h-1zM163 33h1v1h-1zM166 33h1v1h-1zM73 34h1v1h-1zM100 34h1v1h-1zM162 34h1v1h-1zM162 35h1v1h-1zM71 36h1v1h-1zM104 36h1v1h-1zM123 36h1v1h-1zM162 36h1v1h-1zM66 38h3v1h-3zM118 38h1v1h-1z"/>
<path fill="#b9f635" d="M23 11h1v1h-1zM28 23h1v1h-1zM29 24h1v1h-1zM30 25h1v1h-1zM32 26h1v1h-1zM43 27h1v1h-1zM46 28h1v1h-1zM48 29h1v1h-1zM179 29h3v1h-3zM183 29h2v1h-2zM50 30h1v1h-1zM173 30h1v1h-1zM132 31h1v1h-1zM141 31h1v1h-1zM170 31h1v1h-1zM54 32h1v1h-1zM168 32h1v1h-1zM126 34h1v1h-1zM147 34h1v1h-1zM163 34h3v1h-3zM59 35h1v1h-1zM62 37h1v1h-1zM69 38h1v1h-1z"/>
<path fill="#bcf534" d="M22 2h1v1h-1zM23 12h1v1h-1zM24 17h1v1h-1zM25 19h1v1h-1zM26 21h1v1h-1zM27 22h1v1h-1zM31 26h1v1h-1zM42 27h1v1h-1zM83 29h1v1h-1zM91 29h1v1h-1zM80 30h1v1h-1zM174 30h1v1h-1zM77 32h1v1h-1zM145 33h1v1h-1zM167 33h1v1h-1zM74 34h1v1h-1zM166 34h1v1h-1zM72 35h1v1h-1zM163 35h1v1h-1zM71 37h1v1h-1zM153 37h1v1h-1zM162 37h1v1h-1zM65 38h1v1h-1z"/>
<path fill="#bef434" d="M22 3h1v1h-1zM22 4h1v1h-1zM22 5h1v1h-1zM23 13h1v1h-1zM28 24h1v1h-1zM29 25h1v1h-1zM30 26h1v1h-1zM41 27h1v1h-1zM45 28h1v1h-1zM79 31h1v1h-1zM171 31h1v1h-1zM130 32h1v1h-1zM143 32h1v1h-1zM169 32h1v1h-1zM76 33h1v1h-1zM98 33h1v1h-1zM128 33h1v1h-1zM57 34h1v1h-1zM125 35h1v1h-1zM164 35h2v1h-2zM60 36h1v1h-1zM151 36h1v1h-1zM163 36h1v1h-1zM122 37h1v1h-1zM119 38h1v1h-1z"/>
<path fill="#c1f334" d="M21 0h1v1h-1zM22 6h1v1h-1zM23 14h1v1h-1zM23 15h1v1h-1zM24 18h1v1h-1zM25 20h1v1h-1zM26 22h1v1h-1zM27 23h1v1h-1zM33 27h4v1h-4zM39 27h2v1h-2zM47 29h1v1h-1zM84 29h1v1h-1zM175 30h1v1h-1zM51 31h1v1h-1zM172 31h1v1h-1zM53 32h1v1h-1zM55 33h1v1h-1zM75 34h1v1h-1zM127 34h1v1h-1zM167 34h1v1h-1zM149 35h1v1h-1zM166 35h1v1h-1zM124 36h1v1h-1zM64 38h1v1h-1zM70 38h1v1h-1z"/>
<path fill="#c3f134" d="M22 7h1v1h-1zM23 16h1v1h-1zM28 25h1v1h-1zM29 26h1v1h-1zM31 27h2v1h-2zM37 27h2v1h-2zM44 28h1v1h-1zM49 30h1v1h-1zM81 30h1v1h-1zM133 31h1v1h-1zM173 31h1v1h-1zM78 32h1v1h-1zM96 32h1v1h-1zM168 33h1v1h-1zM58 35h1v1h-1zM73 35h1v1h-1zM167 35h1v1h-1zM72 36h1v1h-1zM164 36h1v1h-1zM61 37h1v1h-1zM159 38h2v1h-2z"/>
<path fill="#c6f034" d="M21 1h1v1h-1zM22 8h1v1h-1zM22 9h1v1h-1zM22 10h1v1h-1zM25 21h1v1h-1zM27 24h1v1h-1zM30 27h1v1h-1zM85 29h1v1h-1zM90 29h1v1h-1zM176 30h1v1h-1zM174 31h1v1h-1zM131 32h1v1h-1zM170 32h1v1h-1zM129 33h1v1h-1zM74 35h1v1h-1zM101 35h1v1h-1zM126 35h1v1h-1zM165 36h1v1h-1zM105 37h1v1h-1zM123 37h1v1h-1zM152 37h1v1h-1zM163 37h1v1h-1zM107 38h1v1h-1zM120 38h1v1h-1z"/>
<path fill="#c8ef34" d="M22 11h1v1h-1zM22 12h1v1h-1zM23 17h1v1h-1zM24 19h1v1h-1zM26 23h1v1h-1zM28 26h1v1h-1zM43 28h1v1h-1zM46 29h1v1h-1zM92 30h1v1h-1zM177 30h1v1h-1zM80 31h1v1h-1zM140 31h1v1h-1zM175 31h1v1h-1zM171 32h1v1h-1zM77 33h1v1h-1zM169 33h1v1h-1zM56 34h1v1h-1zM76 34h1v1h-1zM99 34h1v1h-1zM128 34h1v1h-1zM146 34h1v1h-1zM168 34h1v1h-1zM168 35h1v1h-1zM103 36h1v1h-1zM150 36h1v1h-1zM166 36h1v1h-1zM72 37h1v1h-1zM63 38h1v1h-1zM158 38h1v1h-1z"/>
<path fill="#cbed34" d="M21 2h1v1h-1zM25 22h1v1h-1zM27 25h1v1h-1zM29 27h1v1h-1zM42 28h1v1h-1zM86 29h1v1h-1zM48 30h1v1h-1zM82 30h1v1h-1zM188 30h1v1h-1zM50 31h1v1h-1zM94 31h1v1h-1zM134 31h1v1h-1zM52 32h1v1h-1zM172 32h2v1h-2zM75 35h1v1h-1zM148 35h1v1h-1zM59 36h1v1h-1zM73 36h1v1h-1zM125 36h1v1h-1zM167 36h1v1h-1zM157 38h1v1h-1zM161 38h1v1h-1z"/>
<path fill="#cdec34" d="M21 3h1v1h-1zM21 4h1v1h-1zM21 5h1v1h-1zM21 6h1v1h-1zM22 13h1v1h-1zM22 14h1v1h-1zM22 15h1v1h-1zM23 18h1v1h-1zM24 20h1v1h-1zM26 24h1v1h-1zM27 26h1v1h-1zM31 28h5v1h-5zM41 28h1v1h-1zM45 29h1v1h-1zM87 29h1v1h-1zM89 29h1v1h-1zM178 30h1v1h-1zM135 31h5v1h-5zM176 31h1v1h-1zM79 32h1v1h-1zM132 32h1v1h-1zM174 32h1v1h-1zM54 33h1v1h-1zM130 33h1v1h-1zM144 33h1v1h-1zM170 33h2v1h-2zM169 34h1v1h-1zM127 35h1v1h-1zM169 35h1v1h-1zM164 37h1v1h-1zM121 38h1v1h-1z"/>
<path fill="#d0ea34" d="M20 0h1v1h-1zM21 7h1v1h-1zM22 16h1v1h-1zM24 21h1v1h-1zM25 23h1v1h-1zM26 25h1v1h-1zM28 27h1v1h-1zM30 28h1v1h-1zM36 28h5v1h-5zM88 29h1v1h-1zM175 32h1v1h-1zM97 33h1v1h-1zM172 33h2v1h-2zM170 34h1v1h-1zM57 35h1v1h-1zM168 36h1v1h-1zM60 37h1v1h-1zM71 38h1v1h-1zM156 38h1v1h-1z"/>
<path fill="#d2e935" d="M21 8h1v1h-1zM21 9h1v1h-1zM21 10h1v1h-1zM23 19h1v1h-1zM25 24h1v1h-1zM47 30h1v1h-1zM179 30h1v1h-1zM81 31h1v1h-1zM177 31h1v1h-1zM190 31h1v1h-1zM142 32h1v1h-1zM77 34h1v1h-1zM129 34h1v1h-1zM171 34h1v1h-1zM170 35h1v1h-1zM74 36h1v1h-1zM124 37h1v1h-1zM151 37h1v1h-1zM165 37h1v1h-1zM62 38h1v1h-1zM155 38h1v1h-1zM112 39h1v1h-1z"/>
<path fill="#d4e735" d="M20 1h1v1h-1zM21 11h1v1h-1zM21 12h1v1h-1zM22 17h1v1h-1zM24 22h1v1h-1zM26 26h1v1h-1zM27 27h1v1h-1zM29 28h1v1h-1zM44 29h1v1h-1zM83 30h1v1h-1zM180 30h1v1h-1zM187 30h1v1h-1zM51 32h1v1h-1zM78 33h1v1h-1zM174 33h1v1h-1zM55 34h1v1h-1zM172 34h1v1h-1zM76 35h1v1h-1zM100 35h1v1h-1zM147 35h1v1h-1zM126 36h1v1h-1zM149 36h1v1h-1zM73 37h1v1h-1zM154 38h1v1h-1zM162 38h1v1h-1zM66 39h1v1h-1zM111 39h1v1h-1zM113 39h3v1h-3z"/>
<path fill="#d7e535" d="M20 4h1v1h-1zM20 5h1v1h-1zM21 13h1v1h-1zM21 14h1v1h-1zM21 15h1v1h-1zM22 18h1v1h-1zM23 20h1v1h-1zM24 23h1v1h-1zM25 25h1v1h-1zM28 28h1v1h-1zM49 31h1v1h-1zM80 32h1v1h-1zM95 32h1v1h-1zM133 32h1v1h-1zM176 32h1v1h-1zM53 33h1v1h-1zM131 33h1v1h-1zM145 34h1v1h-1zM128 35h1v1h-1zM58 36h1v1h-1zM102 36h1v1h-1zM169 36h1v1h-1zM166 37h1v1h-1zM106 38h1v1h-1zM122 38h1v1h-1zM65 39h1v1h-1zM67 39h1v1h-1zM110 39h1v1h-1zM116 39h1v1h-1z"/>
<path fill="#d9e436" d="M20 2h1v1h-1zM20 3h1v1h-1zM20 6h1v1h-1zM21 16h1v1h-1zM23 21h1v1h-1zM24 24h1v1h-1zM25 26h1v1h-1zM26 27h1v1h-1zM31 29h4v1h-4zM43 29h1v1h-1zM46 30h1v1h-1zM181 30h1v1h-1zM98 34h1v1h-1zM171 35h1v1h-1zM104 37h1v1h-1zM117 39h1v1h-1z"/>
<path fill="#dbe236" d="M20 7h1v1h-1zM20 8h1v1h-1zM20 9h1v1h-1zM20 10h1v1h-1zM22 19h1v1h-1zM23 22h1v1h-1zM24 25h1v1h-1zM27 28h1v1h-1zM30 29h1v1h-1zM35 29h2v1h-2zM42 29h1v1h-1zM84 30h1v1h-1zM91 30h1v1h-1zM182 30h1v1h-1zM93 31h1v1h-1zM178 31h1v1h-1zM191 32h1v1h-1zM173 34h1v1h-1zM75 36h1v1h-1zM125 37h1v1h-1zM150 37h1v1h-1zM167 37h1v1h-1zM61 38h1v1h-1zM72 38h1v1h-1zM153 38h1v1h-1zM163 38h1v1h-1zM64 39h1v1h-1zM68 39h1v1h-1zM109 39h1v1h-1zM118 39h1v1h-1z"/>
<path fill="#dde037" d="M19 0h1v1h-1zM20 11h1v1h-1zM20 12h1v1h-1zM20 13h1v1h-1zM20 14h1v1h-1zM21 17h1v1h-1zM21 18h1v1h-1zM29 29h1v1h-1zM37 29h2v1h-2zM41 29h1v1h-1zM186 30h1v1h-1zM82 31h1v1h-1zM134 32h1v1h-1zM79 33h1v1h-1zM175 33h1v1h-1zM130 34h1v1h-1zM56 35h1v1h-1zM148 36h1v1h-1zM59 37h1v1h-1z"/>
<path fill="#dfdf37" d="M19 4h1v1h-1zM19 5h1v1h-1zM20 15h1v1h-1zM20 16h1v1h-1zM21 19h1v1h-1zM22 20h1v1h-1zM23 23h1v1h-1zM23 24h1v1h-1zM24 26h1v1h-1zM25 27h1v1h-1zM26 28h1v1h-1zM28 29h1v1h-1zM39 29h2v1h-2zM45 30h1v1h-1zM48 31h1v1h-1zM50 32h1v1h-1zM141 32h1v1h-1zM96 33h1v1h-1zM143 33h1v1h-1zM78 34h1v1h-1zM146 35h1v1h-1zM127 36h1v1h-1zM170 36h1v1h-1zM74 37h1v1h-1zM105 38h1v1h-1zM123 38h1v1h-1zM69 39h1v1h-1zM119 39h1v1h-1z"/>
<path fill="#e1dd37" d="M19 1h1v1h-1zM19 3h1v1h-1zM19 6h1v1h-1zM19 7h1v1h-1zM19 8h1v1h-1zM19 9h1v1h-1zM19 10h1v1h-1zM20 17h1v1h-1zM22 21h1v1h-1zM22 22h1v1h-1zM23 25h1v1h-1zM27 29h1v1h-1zM30 30h3v1h-3zM183 30h1v1h-1zM135 32h1v1h-1zM177 32h1v1h-1zM52 33h1v1h-1zM132 33h1v1h-1zM54 34h1v1h-1zM77 35h1v1h-1zM99 35h1v1h-1zM172 35h1v1h-1zM164 38h1v1h-1z"/>
<path fill="#e3db38" d="M19 2h1v1h-1zM19 11h1v1h-1zM19 12h1v1h-1zM19 13h1v1h-1zM19 14h1v1h-1zM20 18h1v1h-1zM20 19h1v1h-1zM21 20h1v1h-1zM21 22h1v1h-1zM22 23h1v1h-1zM21 24h2v1h-2zM22 25h1v1h-1zM24 27h1v1h-1zM25 28h1v1h-1zM29 30h1v1h-1zM33 30h1v1h-1zM85 30h1v1h-1zM185 30h1v1h-1zM179 31h1v1h-1zM81 32h1v1h-1zM129 35h1v1h-1zM57 36h1v1h-1zM101 36h1v1h-1zM149 37h1v1h-1zM168 37h1v1h-1zM152 38h1v1h-1zM70 39h1v1h-1zM108 39h1v1h-1zM120 39h1v1h-1z"/>
<path fill="#e5d938" d="M19 15h1v1h-1zM19 16h1v1h-1zM20 20h1v1h-1zM21 21h1v1h-1zM20 22h1v1h-1zM20 23h2v1h-2zM20 24h1v1h-1zM23 26h1v1h-1zM26 29h1v1h-1zM28 30h1v1h-1zM34 30h1v1h-1zM44 30h1v1h-1zM90 30h1v1h-1zM184 30h1v1h-1zM47 31h1v1h-1zM136 32h1v1h-1zM174 34h1v1h-1zM63 39h1v1h-1z"/>
<path fill="#e7d739" d="M18 0h1v1h-1zM18 5h1v1h-1zM19 17h1v1h-1zM19 18h1v1h-1zM19 19h1v1h-1zM20 21h1v1h-1zM19 22h1v1h-1zM19 23h1v1h-1zM21 25h1v1h-1zM27 30h1v1h-1zM35 30h1v1h-1zM192 33h1v1h-1zM97 34h1v1h-1zM76 36h1v1h-1zM103 37h1v1h-1zM126 37h1v1h-1zM73 38h1v1h-1zM165 38h1v1h-1z"/>
<path fill="#e9d539" d="M18 4h1v1h-1zM18 6h1v1h-1zM18 7h1v1h-1zM18 8h1v1h-1zM18 9h1v1h-1zM18 10h1v1h-1zM18 13h1v1h-1zM19 20h1v1h-1zM19 24h1v1h-1zM20 25h1v1h-1zM22 26h1v1h-1zM23 27h1v1h-1zM24 28h1v1h-1zM25 29h1v1h-1zM36 30h1v1h-1zM43 30h1v1h-1zM86 30h1v1h-1zM28 31h4v1h-4zM83 31h1v1h-1zM92 31h1v1h-1zM189 31h1v1h-1zM49 32h1v1h-1zM94 32h1v1h-1zM137 32h1v1h-1zM140 32h1v1h-1zM51 33h1v1h-1zM80 33h1v1h-1zM144 34h1v1h-1zM55 35h1v1h-1zM147 36h1v1h-1zM60 38h1v1h-1zM124 38h1v1h-1zM121 39h1v1h-1z"/>
<path fill="#ebd339" d="M18 1h1v1h-1zM18 2h1v1h-1zM18 3h1v1h-1zM18 11h1v1h-1zM18 12h1v1h-1zM18 14h1v1h-1zM18 15h1v1h-1zM18 16h1v1h-1zM18 19h1v1h-1zM19 21h1v1h-1zM18 23h1v1h-1zM26 30h1v1h-1zM87 30h1v1h-1zM89 30h1v1h-1zM27 31h1v1h-1zM32 31h1v1h-1zM180 31h1v1h-1zM138 32h2v1h-2zM133 33h1v1h-1zM176 33h1v1h-1zM53 34h1v1h-1zM131 34h1v1h-1zM128 36h1v1h-1zM171 36h1v1h-1zM58 37h1v1h-1zM169 37h1v1h-1zM151 38h1v1h-1zM71 39h1v1h-1zM157 39h3v1h-3z"/>
<path fill="#ecd13a" d="M18 17h1v1h-1zM18 18h1v1h-1zM18 20h1v1h-1zM18 22h1v1h-1zM18 24h1v1h-1zM19 25h1v1h-1zM21 26h1v1h-1zM23 28h1v1h-1zM24 29h1v1h-1zM25 30h1v1h-1zM37 30h2v1h-2zM42 30h1v1h-1zM88 30h1v1h-1zM26 31h1v1h-1zM46 31h1v1h-1zM27 32h4v1h-4zM178 32h1v1h-1zM27 33h2v1h-2zM75 37h1v1h-1zM166 38h1v1h-1zM107 39h1v1h-1zM156 39h1v1h-1zM160 39h1v1h-1zM66 40h1v1h-1z"/>
<path fill="#eecf3a" d="M17 5h1v1h-1zM18 21h1v1h-1zM20 26h1v1h-1zM22 27h1v1h-1zM39 30h3v1h-3zM33 31h1v1h-1zM26 32h1v1h-1zM26 33h1v1h-1zM29 33h1v1h-1zM142 33h1v1h-1zM26 34h3v1h-3zM79 34h1v1h-1zM26 35h1v1h-1zM173 35h1v1h-1zM100 36h1v1h-1zM104 38h1v1h-1zM62 39h1v1h-1zM65 40h1v1h-1zM111 40h5v1h-5z"/>
<path fill="#efcd3a" d="M17 0h1v1h-1zM17 4h1v1h-1zM17 8h1v1h-1zM17 9h1v1h-1zM18 25h1v1h-1zM22 28h1v1h-1zM23 29h1v1h-1zM24 30h1v1h-1zM25 31h1v1h-1zM34 31h1v1h-1zM25 32h1v1h-1zM31 32h1v1h-1zM48 32h1v1h-1zM25 33h1v1h-1zM95 33h1v1h-1zM25 34h1v1h-1zM25 35h1v1h-1zM27 35h1v1h-1zM98 35h1v1h-1zM145 35h1v1h-1zM25 36h2v1h-2zM56 36h1v1h-1zM148 37h1v1h-1zM122 39h1v1h-1zM155 39h1v1h-1zM161 39h1v1h-1zM67 40h1v1h-1zM116 40h1v1h-1z"/>
<path fill="#f1cb3a" d="M17 3h1v1h-1zM17 6h1v1h-1zM17 7h1v1h-1zM17 10h1v1h-1zM17 11h1v1h-1zM17 12h1v1h-1zM17 13h1v1h-1zM17 14h1v1h-1zM17 15h1v1h-1zM17 16h1v1h-1zM17 17h1v1h-1zM17 18h1v1h-1zM17 19h1v1h-1zM17 20h1v1h-1zM17 21h1v1h-1zM17 22h1v1h-1zM17 23h1v1h-1zM17 24h1v1h-1zM19 26h1v1h-1zM21 27h1v1h-1zM22 29h1v1h-1zM23 30h1v1h-1zM24 31h1v1h-1zM45 31h1v1h-1zM84 31h1v1h-1zM181 31h1v1h-1zM24 32h1v1h-1zM82 32h1v1h-1zM24 33h1v1h-1zM30 33h1v1h-1zM50 33h1v1h-1zM134 33h1v1h-1zM24 34h1v1h-1zM29 34h1v1h-1zM24 35h1v1h-1zM28 35h1v1h-1zM78 35h1v1h-1zM24 36h1v1h-1zM27 36h1v1h-1zM25 37h1v1h-1zM102 37h1v1h-1zM150 38h1v1h-1zM167 38h1v1h-1zM64 40h1v1h-1zM68 40h1v1h-1zM110 40h1v1h-1zM117 40h1v1h-1z"/>
<path fill="#f2c93a" d="M17 1h1v1h-1zM17 2h1v1h-1zM17 25h1v1h-1zM18 26h1v1h-1zM20 27h1v1h-1zM21 28h1v1h-1zM23 31h1v1h-1zM35 31h1v1h-1zM188 31h1v1h-1zM32 32h1v1h-1zM190 32h1v1h-1zM23 33h1v1h-1zM23 34h1v1h-1zM52 34h1v1h-1zM175 34h1v1h-1zM23 35h1v1h-1zM54 35h1v1h-1zM130 35h1v1h-1zM23 36h1v1h-1zM23 37h2v1h-2zM26 37h1v1h-1zM127 37h1v1h-1zM59 38h1v1h-1zM125 38h1v1h-1zM72 39h1v1h-1zM154 39h1v1h-1zM162 39h1v1h-1z"/>
<path fill="#f4c73a" d="M16 5h1v1h-1zM16 24h1v1h-1zM17 26h1v1h-1zM19 27h1v1h-1zM20 28h1v1h-1zM21 29h1v1h-1zM22 30h1v1h-1zM44 31h1v1h-1zM91 31h1v1h-1zM23 32h1v1h-1zM31 33h1v1h-1zM170 37h1v1h-1zM23 38h2v1h-2zM74 38h1v1h-1zM109 40h1v1h-1zM118 40h1v1h-1z"/>
<path fill="#f5c53a" d="M16 4h1v1h-1zM16 6h1v1h-1zM16 8h1v1h-1zM16 9h1v1h-1zM16 14h1v1h-1zM16 15h1v1h-1zM16 17h1v1h-1zM16 18h1v1h-1zM16 23h1v1h-1zM16 25h1v1h-1zM18 27h1v1h-1zM20 29h1v1h-1zM21 30h1v1h-1zM22 31h1v1h-1zM36 31h1v1h-1zM182 31h1v1h-1zM187 31h1v1h-1zM22 32h1v1h-1zM33 32h1v1h-1zM47 32h1v1h-1zM93 32h1v1h-1zM22 33h1v1h-1zM177 33h1v1h-1zM22 34h1v1h-1zM30 34h1v1h-1zM96 34h1v1h-1zM132 34h1v1h-1zM22 35h1v1h-1zM29 35h1v1h-1zM22 36h1v1h-1zM28 36h1v1h-1zM77 36h1v1h-1zM146 36h1v1h-1zM172 36h1v1h-1zM22 37h1v1h-1zM57 37h1v1h-1zM22 38h1v1h-1zM25 38h1v1h-1zM61 39h1v1h-1zM106 39h1v1h-1zM123 39h1v1h-1zM153 39h1v1h-1zM163 39h1v1h-1zM69 40h1v1h-1z"/>
<path fill="#f6c33a" d="M16 0h1v1h-1zM16 1h1v1h-1zM16 2h1v1h-1zM16 3h1v1h-1zM16 7h1v1h-1zM16 10h1v1h-1zM16 11h1v1h-1zM16 12h1v1h-1zM16 13h1v1h-1zM16 16h1v1h-1zM16 19h1v1h-1zM16 20h1v1h-1zM16 21h1v1h-1zM16 22h1v1h-1zM15 25h1v1h-1zM16 26h1v1h-1zM17 27h1v1h-1zM19 28h1v1h-1zM20 30h1v1h-1zM21 31h1v1h-1zM21 32h1v1h-1zM179 32h1v1h-1zM21 33h1v1h-1zM135 33h1v1h-1zM141 33h1v1h-1zM21 34h1v1h-1zM143 34h1v1h-1zM21 37h1v1h-1zM27 37h1v1h-1zM21 38h1v1h-1zM21 39h3v1h-3zM119 40h1v1h-1z"/>
<path fill="#f7c13a" d="M0 0h1v1h-1zM0 1h1v1h-1zM0 4h1v1h-1zM0 5h1v1h-1zM0 6h1v1h-1zM0 7h1v1h-1zM0 8h1v1h-1zM0 9h1v1h-1zM0 11h1v1h-1zM0 12h1v1h-1zM0 13h1v1h-1zM0 14h1v1h-1zM0 15h1v1h-1zM0 16h1v1h-1zM0 17h1v1h-1zM0 18h1v1h-1zM0 19h1v1h-1zM0 20h1v1h-1zM15 24h1v1h-1zM15 26h1v1h-1zM15 27h2v1h-2zM17 28h2v1h-2zM19 29h1v1h-1zM19 30h1v1h-1zM20 31h1v1h-1zM37 31h1v1h-1zM43 31h1v1h-1zM85 31h1v1h-1zM186 31h1v1h-1zM20 32h1v1h-1zM20 33h1v1h-1zM32 33h1v1h-1zM49 33h1v1h-1zM81 33h1v1h-1zM20 34h1v1h-1zM21 35h1v1h-1zM21 36h1v1h-1zM99 36h1v1h-1zM129 36h1v1h-1zM20 37h1v1h-1zM19 38h2v1h-2zM149 38h1v1h-1zM168 38h1v1h-1zM20 39h1v1h-1zM24 39h1v1h-1zM164 39h1v1h-1zM63 40h1v1h-1zM70 40h1v1h-1z"/>
<path fill="#f8be39" d="M1 0h1v1h-1zM15 0h1v1h-1zM1 1h1v1h-1zM0 2h1v1h-1zM0 3h1v1h-1zM1 4h1v1h-1zM15 4h1v1h-1zM1 5h1v1h-1zM15 5h1v1h-1zM1 6h1v1h-1zM15 6h1v1h-1zM1 7h1v1h-1zM15 7h1v1h-1zM1 8h1v1h-1zM15 8h1v1h-1zM1 9h1v1h-1zM15 9h1v1h-1zM0 10h2v1h-2zM1 11h1v1h-1zM15 11h1v1h-1zM1 12h1v1h-1zM15 12h1v1h-1zM1 13h1v1h-1zM15 13h1v1h-1zM1 14h1v1h-1zM15 14h1v1h-1zM1 15h1v1h-1zM15 15h1v1h-1zM1 16h1v1h-1zM15 16h1v1h-1zM1 17h1v1h-1zM15 17h1v1h-1zM1 18h1v1h-1zM15 18h1v1h-1zM1 19h1v1h-1zM15 19h1v1h-1zM1 20h1v1h-1zM15 20h1v1h-1zM0 21h1v1h-1zM15 21h1v1h-1zM0 22h1v1h-1zM15 22h1v1h-1zM0 23h1v1h-1zM15 23h1v1h-1zM0 24h1v1h-1zM14 24h1v1h-1zM0 25h1v1h-1zM14 25h1v1h-1zM0 26h1v1h-1zM13 26h2v1h-2zM0 27h2v1h-2zM13 27h2v1h-2zM0 28h4v1h-4zM11 28h6v1h-6zM0 29h13v1h-13zM17 29h2v1h-2zM0 30h13v1h-13zM17 30h2v1h-2zM0 31h13v1h-13zM17 31h3v1h-3zM183 31h1v1h-1zM185 31h1v1h-1zM0 32h20v1h-20zM34 32h1v1h-1zM3 33h17v1h-17zM191 33h1v1h-1zM7 34h13v1h-13zM31 34h1v1h-1zM51 34h1v1h-1zM10 35h11v1h-11zM174 35h1v1h-1zM12 36h6v1h-6zM20 36h1v1h-1zM55 36h1v1h-1zM15 37h5v1h-5zM76 37h1v1h-1zM101 37h1v1h-1zM16 38h3v1h-3zM26 38h1v1h-1zM18 39h2v1h-2zM152 39h1v1h-1zM20 40h3v1h-3zM108 40h1v1h-1zM120 40h1v1h-1z"/>
<path fill="#f9bc39" d="M2 0h1v1h-1zM2 1h1v1h-1zM15 1h1v1h-1zM1 2h2v1h-2zM15 2h1v1h-1zM1 3h2v1h-2zM15 3h1v1h-1zM2 4h1v1h-1zM2 5h1v1h-1zM14 5h1v1h-1zM2 6h1v1h-1zM2 7h1v1h-1zM2 8h1v1h-1zM2 9h1v1h-1zM2 10h1v1h-1zM15 10h1v1h-1zM2 11h1v1h-1zM2 12h1v1h-1zM2 13h1v1h-1zM2 14h1v1h-1zM2 15h1v1h-1zM2 16h1v1h-1zM2 17h1v1h-1zM2 18h1v1h-1zM2 19h1v1h-1zM2 20h1v1h-1zM1 21h2v1h-2zM1 22h2v1h-2zM1 23h2v1h-2zM14 23h1v1h-1zM1 24h2v1h-2zM13 24h1v1h-1zM1 25h3v1h-3zM12 25h2v1h-2zM1 26h6v1h-6zM10 26h3v1h-3zM2 27h11v1h-11zM4 28h7v1h-7zM13 29h4v1h-4zM13 30h4v1h-4zM13 31h4v1h-4zM38 31h1v1h-1zM42 31h1v1h-1zM90 31h1v1h-1zM184 31h1v1h-1zM46 32h1v1h-1zM0 33h3v1h-3zM136 33h1v1h-1zM3 34h4v1h-4zM7 35h3v1h-3zM30 35h1v1h-1zM53 35h1v1h-1zM10 36h2v1h-2zM18 36h2v1h-2zM29 36h1v1h-1zM13 37h2v1h-2zM15 38h1v1h-1zM103 38h1v1h-1zM17 39h1v1h-1zM73 39h1v1h-1zM19 40h1v1h-1zM23 40h1v1h-1z"/>
<path fill="#faba39" d="M3 0h3v1h-3zM14 0h1v1h-1zM3 1h2v1h-2zM3 2h2v1h-2zM3 3h3v1h-3zM14 3h1v1h-1zM3 4h3v1h-3zM14 4h1v1h-1zM3 5h2v1h-2zM3 6h3v1h-3zM14 6h1v1h-1zM3 7h3v1h-3zM14 7h1v1h-1zM3 8h2v1h-2zM14 8h1v1h-1zM3 9h3v1h-3zM14 9h1v1h-1zM3 10h3v1h-3zM14 10h1v1h-1zM3 11h3v1h-3zM14 11h1v1h-1zM3 12h3v1h-3zM14 12h1v1h-1zM3 13h3v1h-3zM14 13h1v1h-1zM3 14h2v1h-2zM14 14h1v1h-1zM3 15h3v1h-3zM14 15h1v1h-1zM3 16h3v1h-3zM14 16h1v1h-1zM3 17h3v1h-3zM14 17h1v1h-1zM3 18h3v1h-3zM14 18h1v1h-1zM3 19h3v1h-3zM14 19h1v1h-1zM3 20h3v1h-3zM14 20h1v1h-1zM3 21h2v1h-2zM14 21h1v1h-1zM3 22h3v1h-3zM14 22h1v1h-1zM3 23h3v1h-3zM13 23h1v1h-1zM3 24h4v1h-4zM11 24h2v1h-2zM4 25h8v1h-8zM7 26h3v1h-3zM39 31h3v1h-3zM83 32h1v1h-1zM140 33h1v1h-1zM1 34h2v1h-2zM80 34h1v1h-1zM6 35h1v1h-1zM97 35h1v1h-1zM144 35h1v1h-1zM9 36h1v1h-1zM12 37h1v1h-1zM28 37h1v1h-1zM147 37h1v1h-1zM14 38h1v1h-1zM58 38h1v1h-1zM126 38h1v1h-1zM16 39h1v1h-1zM25 39h1v1h-1zM165 39h1v1h-1zM18 40h1v1h-1zM20 41h2v1h-2z"/>
<path fill="#fbb838" d="M6 0h8v1h-8zM5 1h4v1h-4zM13 1h2v1h-2zM5 2h5v1h-5zM13 2h2v1h-2zM6 3h8v1h-8zM6 4h8v1h-8zM5 5h3v1h-3zM11 5h3v1h-3zM6 6h8v1h-8zM6 7h8v1h-8zM5 8h3v1h-3zM12 8h2v1h-2zM6 9h8v1h-8zM6 10h8v1h-8zM6 11h8v1h-8zM6 12h8v1h-8zM6 13h8v1h-8zM5 14h4v1h-4zM11 14h3v1h-3zM6 15h3v1h-3zM11 15h3v1h-3zM6 16h8v1h-8zM6 17h8v1h-8zM6 18h8v1h-8zM6 19h8v1h-8zM6 20h3v1h-3zM11 20h3v1h-3zM5 21h4v1h-4zM12 21h2v1h-2zM6 22h3v1h-3zM11 22h3v1h-3zM6 23h7v1h-7zM7 24h4v1h-4zM86 31h1v1h-1zM33 33h1v1h-1zM48 33h1v1h-1zM94 33h1v1h-1zM137 33h1v1h-1zM0 34h1v1h-1zM176 34h1v1h-1zM4 35h2v1h-2zM8 36h1v1h-1zM11 37h1v1h-1zM13 38h1v1h-1zM27 38h1v1h-1zM15 39h1v1h-1zM60 39h1v1h-1zM124 39h1v1h-1zM17 40h1v1h-1zM71 40h1v1h-1zM121 40h1v1h-1zM22 41h1v1h-1z"/>
<path fill="#fbb637" d="M9 1h4v1h-4zM10 2h3v1h-3zM8 5h3v1h-3zM8 8h4v1h-4zM9 14h2v1h-2zM9 15h2v1h-2zM9 20h2v1h-2zM9 21h3v1h-3zM9 22h2v1h-2zM89 31h1v1h-1zM35 32h1v1h-1zM45 32h1v1h-1zM180 32h1v1h-1zM189 32h1v1h-1zM138 33h2v1h-2zM133 34h1v1h-1zM2 35h2v1h-2zM131 35h1v1h-1zM7 36h1v1h-1zM10 37h1v1h-1zM128 37h1v1h-1zM171 37h1v1h-1zM12 38h1v1h-1zM169 38h1v1h-1zM105 39h1v1h-1zM151 39h1v1h-1zM24 40h1v1h-1zM157 40h3v1h-3zM19 41h1v1h-1zM65 41h2v1h-2z"/>
<path fill="#fcb336" d="M87 31h2v1h-2zM92 32h1v1h-1zM178 33h1v1h-1zM32 34h1v1h-1zM50 34h1v1h-1zM1 35h1v1h-1zM79 35h1v1h-1zM6 36h1v1h-1zM9 37h1v1h-1zM56 37h1v1h-1zM75 38h1v1h-1zM14 39h1v1h-1zM166 39h1v1h-1zM16 40h1v1h-1zM62 40h1v1h-1zM107 40h1v1h-1zM156 40h1v1h-1zM67 41h1v1h-1z"/>
<path fill="#fcb136" d="M192 34h1v1h-1zM0 35h1v1h-1zM31 35h1v1h-1zM5 36h1v1h-1zM173 36h1v1h-1zM100 37h1v1h-1zM11 38h1v1h-1zM26 39h1v1h-1zM160 40h1v1h-1zM18 41h1v1h-1zM23 41h1v1h-1zM112 41h3v1h-3z"/>
<path fill="#fdae35" d="M36 32h1v1h-1zM44 32h1v1h-1zM47 33h1v1h-1zM95 34h1v1h-1zM142 34h1v1h-1zM52 35h1v1h-1zM4 36h1v1h-1zM30 36h1v1h-1zM54 36h1v1h-1zM98 36h1v1h-1zM145 36h1v1h-1zM8 37h1v1h-1zM29 37h1v1h-1zM148 38h1v1h-1zM13 39h1v1h-1zM122 40h1v1h-1zM155 40h1v1h-1zM64 41h1v1h-1zM68 41h1v1h-1zM111 41h1v1h-1zM115 41h1v1h-1z"/>
<path fill="#fdac34" d="M34 33h1v1h-1zM82 33h1v1h-1zM3 36h1v1h-1zM78 36h1v1h-1zM7 37h1v1h-1zM10 38h1v1h-1zM102 38h1v1h-1zM150 39h1v1h-1zM15 40h1v1h-1zM25 40h1v1h-1zM72 40h1v1h-1zM161 40h1v1h-1zM110 41h1v1h-1zM116 41h1v1h-1zM21 42h1v1h-1z"/>
<path fill="#fea933" d="M37 32h1v1h-1zM84 32h1v1h-1zM181 32h1v1h-1zM188 32h1v1h-1zM134 34h1v1h-1zM175 35h1v1h-1zM2 36h1v1h-1zM130 36h1v1h-1zM28 38h1v1h-1zM57 38h1v1h-1zM59 39h1v1h-1zM125 39h1v1h-1zM167 39h1v1h-1zM17 41h1v1h-1zM117 41h1v1h-1zM20 42h1v1h-1z"/>
<path fill="#fea732" d="M43 32h1v1h-1zM190 33h1v1h-1zM49 34h1v1h-1zM1 36h1v1h-1zM6 37h1v1h-1zM9 38h1v1h-1zM127 38h1v1h-1zM12 39h1v1h-1zM74 39h1v1h-1zM154 40h1v1h-1zM162 40h1v1h-1zM69 41h1v1h-1zM22 42h1v1h-1z"/>
<path fill="#fea431" d="M38 32h1v1h-1zM91 32h1v1h-1zM33 34h1v1h-1zM0 36h1v1h-1zM5 37h1v1h-1zM77 37h1v1h-1zM170 38h1v1h-1zM104 39h1v1h-1zM14 40h1v1h-1zM61 40h1v1h-1zM24 41h1v1h-1zM109 41h1v1h-1zM118 41h1v1h-1zM19 42h1v1h-1z"/>
<path fill="#fea130" d="M42 32h1v1h-1zM182 32h1v1h-1zM187 32h1v1h-1zM46 33h1v1h-1zM93 33h1v1h-1zM177 34h1v1h-1zM51 35h1v1h-1zM96 35h1v1h-1zM132 35h1v1h-1zM143 35h1v1h-1zM55 37h1v1h-1zM146 37h1v1h-1zM172 37h1v1h-1zM11 39h1v1h-1zM27 39h1v1h-1zM106 40h1v1h-1zM123 40h1v1h-1zM153 40h1v1h-1zM163 40h1v1h-1zM63 41h1v1h-1z"/>
<path fill="#fe9e2f" d="M39 32h1v1h-1zM35 33h1v1h-1zM179 33h1v1h-1zM81 34h1v1h-1zM135 34h1v1h-1zM141 34h1v1h-1zM4 37h1v1h-1zM8 38h1v1h-1zM16 41h1v1h-1zM70 41h1v1h-1zM119 41h1v1h-1z"/>
<path fill="#fe9b2d" d="M40 32h2v1h-2zM85 32h1v1h-1zM186 32h1v1h-1zM32 35h1v1h-1zM53 36h1v1h-1zM3 37h1v1h-1zM99 37h1v1h-1zM129 37h1v1h-1zM101 38h1v1h-1zM149 39h1v1h-1zM168 39h1v1h-1zM13 40h1v1h-1zM164 40h1v1h-1z"/>
<path fill="#fe992c" d="M183 32h1v1h-1zM185 32h1v1h-1zM45 33h1v1h-1zM48 34h1v1h-1zM31 36h1v1h-1zM174 36h1v1h-1zM30 37h1v1h-1zM7 38h1v1h-1zM76 38h1v1h-1zM10 39h1v1h-1zM58 39h1v1h-1zM26 40h1v1h-1zM73 40h1v1h-1zM152 40h1v1h-1zM108 41h1v1h-1zM120 41h1v1h-1zM18 42h1v1h-1zM23 42h1v1h-1z"/>
<path fill="#fe962b" d="M90 32h1v1h-1zM184 32h1v1h-1zM136 34h1v1h-1zM191 34h1v1h-1zM2 37h1v1h-1zM147 38h1v1h-1zM60 40h1v1h-1zM15 41h1v1h-1z"/>
<path fill="#fe932a" d="M86 32h1v1h-1zM36 33h1v1h-1zM83 33h1v1h-1zM94 34h1v1h-1zM140 34h1v1h-1zM50 35h1v1h-1zM80 35h1v1h-1zM97 36h1v1h-1zM144 36h1v1h-1zM1 37h1v1h-1zM6 38h1v1h-1zM29 38h1v1h-1zM56 38h1v1h-1zM103 39h1v1h-1zM126 39h1v1h-1zM165 40h1v1h-1zM71 41h1v1h-1zM65 42h2v1h-2z"/>
<path fill="#fe9029" d="M89 32h1v1h-1zM189 33h1v1h-1zM34 34h1v1h-1zM137 34h1v1h-1zM176 35h1v1h-1zM0 37h1v1h-1zM128 38h1v1h-1zM9 39h1v1h-1zM12 40h1v1h-1zM124 40h1v1h-1zM25 41h1v1h-1zM62 41h1v1h-1zM121 41h1v1h-1zM158 41h1v1h-1zM67 42h1v1h-1z"/>
<path fill="#fd8d27" d="M87 32h1v1h-1zM44 33h1v1h-1zM180 33h1v1h-1zM138 34h2v1h-2zM133 35h1v1h-1zM52 36h1v1h-1zM131 36h1v1h-1zM5 38h1v1h-1zM171 38h1v1h-1zM28 39h1v1h-1zM75 39h1v1h-1zM169 39h1v1h-1zM105 40h1v1h-1zM151 40h1v1h-1zM157 41h1v1h-1zM159 41h1v1h-1zM17 42h1v1h-1zM64 42h1v1h-1zM21 43h1v1h-1z"/>
<path fill="#fd8a26" d="M88 32h1v1h-1zM37 33h1v1h-1zM92 33h1v1h-1zM47 34h1v1h-1zM178 34h1v1h-1zM79 36h1v1h-1zM54 37h1v1h-1zM166 40h1v1h-1zM14 41h1v1h-1zM107 41h1v1h-1zM156 41h1v1h-1zM160 41h1v1h-1zM68 42h1v1h-1zM20 43h1v1h-1z"/>
<path fill="#fc8725" d="M33 35h1v1h-1zM142 35h1v1h-1zM173 37h1v1h-1zM4 38h1v1h-1zM100 38h1v1h-1zM8 39h1v1h-1zM11 40h1v1h-1zM111 42h4v1h-4z"/>
<path fill="#fc8423" d="M43 33h1v1h-1zM49 35h1v1h-1zM95 35h1v1h-1zM192 35h1v1h-1zM98 37h1v1h-1zM145 37h1v1h-1zM57 39h1v1h-1zM148 39h1v1h-1zM59 40h1v1h-1zM72 41h1v1h-1zM122 41h1v1h-1zM155 41h1v1h-1zM161 41h1v1h-1zM24 42h1v1h-1zM115 42h2v1h-2zM22 43h1v1h-1z"/>
<path fill="#fb8122" d="M38 33h1v1h-1zM188 33h1v1h-1zM82 34h1v1h-1zM78 37h1v1h-1zM3 38h1v1h-1zM102 39h1v1h-1zM27 40h1v1h-1zM150 40h1v1h-1zM61 41h1v1h-1zM69 42h1v1h-1zM110 42h1v1h-1zM19 43h1v1h-1z"/>
<path fill="#fb7e21" d="M84 33h1v1h-1zM181 33h1v1h-1zM35 34h1v1h-1zM46 34h1v1h-1zM134 35h1v1h-1zM32 36h1v1h-1zM175 36h1v1h-1zM130 37h1v1h-1zM2 38h1v1h-1zM7 39h1v1h-1zM127 39h1v1h-1zM10 40h1v1h-1zM74 40h1v1h-1zM125 40h1v1h-1zM167 40h1v1h-1zM13 41h1v1h-1zM154 41h1v1h-1zM162 41h1v1h-1zM16 42h1v1h-1zM63 42h1v1h-1zM117 42h1v1h-1z"/>
<path fill="#fa7b1f" d="M39 33h1v1h-1zM42 33h1v1h-1zM190 34h1v1h-1zM51 36h1v1h-1zM31 37h1v1h-1zM1 38h1v1h-1zM55 38h1v1h-1zM77 38h1v1h-1zM104 40h1v1h-1zM109 42h1v1h-1zM118 42h1v1h-1z"/>
<path fill="#f9781e" d="M40 33h2v1h-2zM91 33h1v1h-1zM187 33h1v1h-1zM93 34h1v1h-1zM96 36h1v1h-1zM53 37h1v1h-1zM0 38h1v1h-1zM30 38h1v1h-1zM146 38h1v1h-1zM6 39h1v1h-1zM170 39h1v1h-1zM26 41h1v1h-1zM106 41h1v1h-1zM123 41h1v1h-1zM163 41h1v1h-1zM70 42h1v1h-1z"/>
<path fill="#f9751d" d="M182 33h1v1h-1zM48 35h1v1h-1zM81 35h1v1h-1zM141 35h1v1h-1zM177 35h1v1h-1zM132 36h1v1h-1zM143 36h1v1h-1zM172 38h1v1h-1zM9 40h1v1h-1zM153 41h1v1h-1zM15 42h1v1h-1zM119 42h1v1h-1zM18 43h1v1h-1zM23 43h1v1h-1z"/>
<path fill="#f8721c" d="M85 33h1v1h-1zM186 33h1v1h-1zM45 34h1v1h-1zM179 34h1v1h-1zM135 35h1v1h-1zM99 38h1v1h-1zM129 38h1v1h-1zM5 39h1v1h-1zM29 39h1v1h-1zM76 39h1v1h-1zM58 40h1v1h-1zM168 40h1v1h-1zM12 41h1v1h-1zM164 41h1v1h-1z"/>
<path fill="#f76f1a" d="M183 33h1v1h-1zM185 33h1v1h-1zM36 34h1v1h-1zM34 35h1v1h-1zM4 39h1v1h-1zM56 39h1v1h-1zM101 39h1v1h-1zM149 40h1v1h-1zM60 41h1v1h-1zM73 41h1v1h-1zM108 42h1v1h-1zM120 42h1v1h-1zM65 43h2v1h-2z"/>
<path fill="#f66c19" d="M90 33h1v1h-1zM184 33h1v1h-1zM136 35h1v1h-1zM191 35h1v1h-1zM50 36h1v1h-1zM174 37h1v1h-1zM8 40h1v1h-1zM152 41h1v1h-1zM25 42h1v1h-1zM62 42h1v1h-1zM71 42h1v1h-1z"/>
<path fill="#f56918" d="M44 34h1v1h-1zM83 34h1v1h-1zM140 35h1v1h-1zM80 36h1v1h-1zM97 37h1v1h-1zM144 37h1v1h-1zM3 39h1v1h-1zM147 39h1v1h-1zM28 40h1v1h-1zM103 40h1v1h-1zM126 40h1v1h-1zM11 41h1v1h-1zM165 41h1v1h-1zM14 42h1v1h-1zM17 43h1v1h-1zM67 43h1v1h-1zM21 44h1v1h-1z"/>
<path fill="#f46617" d="M86 33h1v1h-1zM37 34h1v1h-1zM189 34h1v1h-1zM47 35h1v1h-1zM94 35h1v1h-1zM137 35h1v1h-1zM33 36h1v1h-1zM176 36h1v1h-1zM52 37h1v1h-1zM54 38h1v1h-1zM2 39h1v1h-1zM128 39h1v1h-1zM171 39h1v1h-1zM7 40h1v1h-1zM75 40h1v1h-1zM124 41h1v1h-1zM121 42h1v1h-1zM64 43h1v1h-1zM20 44h1v1h-1z"/>
<path fill="#f36315" d="M87 33h1v1h-1zM89 33h1v1h-1zM180 34h1v1h-1zM138 35h2v1h-2zM133 36h1v1h-1zM79 37h1v1h-1zM131 37h1v1h-1zM1 39h1v1h-1zM169 40h1v1h-1zM10 41h1v1h-1zM105 41h1v1h-1zM151 41h1v1h-1zM157 42h3v1h-3zM68 43h1v1h-1z"/>
<path fill="#f26014" d="M88 33h1v1h-1zM43 34h1v1h-1zM92 34h1v1h-1zM178 35h1v1h-1zM49 36h1v1h-1zM32 37h1v1h-1zM0 39h1v1h-1zM6 40h1v1h-1zM57 40h1v1h-1zM27 41h1v1h-1zM59 41h1v1h-1zM166 41h1v1h-1zM13 42h1v1h-1zM107 42h1v1h-1zM156 42h1v1h-1zM160 42h1v1h-1zM24 43h1v1h-1zM22 44h1v1h-1z"/>
<path fill="#f15d13" d="M38 34h1v1h-1zM35 35h1v1h-1zM95 36h1v1h-1zM142 36h1v1h-1zM192 36h1v1h-1zM31 38h1v1h-1zM78 38h1v1h-1zM98 38h1v1h-1zM145 38h1v1h-1zM173 38h1v1h-1zM100 39h1v1h-1zM148 40h1v1h-1zM61 42h1v1h-1zM72 42h1v1h-1zM122 42h1v1h-1zM16 43h1v1h-1zM69 43h1v1h-1zM111 43h5v1h-5zM19 44h1v1h-1z"/>
<path fill="#f05b12" d="M46 35h1v1h-1zM82 35h1v1h-1zM30 39h1v1h-1zM55 39h1v1h-1zM5 40h1v1h-1zM102 40h1v1h-1zM9 41h1v1h-1zM74 41h1v1h-1zM12 42h1v1h-1zM155 42h1v1h-1zM161 42h1v1h-1zM63 43h1v1h-1zM110 43h1v1h-1zM116 43h1v1h-1z"/>
<path fill="#ef5811" d="M39 34h1v1h-1zM42 34h1v1h-1zM84 34h1v1h-1zM181 34h1v1h-1zM188 34h1v1h-1zM134 36h1v1h-1zM51 37h1v1h-1zM175 37h1v1h-1zM130 38h1v1h-1zM4 40h1v1h-1zM127 40h1v1h-1zM125 41h1v1h-1zM150 41h1v1h-1zM167 41h1v1h-1zM26 42h1v1h-1zM117 43h1v1h-1z"/>
<path fill="#ed5510" d="M40 34h2v1h-2zM190 35h1v1h-1zM48 36h1v1h-1zM53 38h1v1h-1zM77 39h1v1h-1zM3 40h1v1h-1zM29 40h1v1h-1zM170 40h1v1h-1zM8 41h1v1h-1zM104 41h1v1h-1zM154 42h1v1h-1zM162 42h1v1h-1zM15 43h1v1h-1zM70 43h1v1h-1zM109 43h1v1h-1zM118 43h1v1h-1zM18 44h1v1h-1zM23 44h1v1h-1z"/>
<path fill="#ec530f" d="M91 34h1v1h-1zM187 34h1v1h-1zM36 35h1v1h-1zM45 35h1v1h-1zM93 35h1v1h-1zM34 36h1v1h-1zM177 36h1v1h-1zM96 37h1v1h-1zM132 37h1v1h-1zM143 37h1v1h-1zM146 39h1v1h-1zM172 39h1v1h-1zM2 40h1v1h-1zM58 41h1v1h-1zM11 42h1v1h-1zM106 42h1v1h-1zM123 42h1v1h-1zM163 42h1v1h-1z"/>
<path fill="#eb500e" d="M182 34h1v1h-1zM179 35h1v1h-1zM81 36h1v1h-1zM135 36h1v1h-1zM141 36h1v1h-1zM50 37h1v1h-1zM99 39h1v1h-1zM129 39h1v1h-1zM1 40h1v1h-1zM56 40h1v1h-1zM76 40h1v1h-1zM7 41h1v1h-1zM28 41h1v1h-1zM60 42h1v1h-1zM73 42h1v1h-1zM153 42h1v1h-1zM14 43h1v1h-1zM25 43h1v1h-1zM119 43h1v1h-1zM65 44h2v1h-2z"/>
<path fill="#ea4e0d" d="M85 34h1v1h-1zM183 34h1v1h-1zM186 34h1v1h-1zM33 37h1v1h-1zM0 40h1v1h-1zM101 40h1v1h-1zM6 41h1v1h-1zM149 41h1v1h-1zM168 41h1v1h-1zM10 42h1v1h-1zM164 42h1v1h-1zM62 43h1v1h-1zM71 43h1v1h-1zM108 43h1v1h-1zM17 44h1v1h-1zM67 44h1v1h-1z"/>
<path fill="#e84b0c" d="M90 34h1v1h-1zM184 34h2v1h-2zM37 35h1v1h-1zM44 35h1v1h-1zM47 36h1v1h-1zM136 36h1v1h-1zM191 36h1v1h-1zM80 37h1v1h-1zM52 38h1v1h-1zM97 38h1v1h-1zM174 38h1v1h-1zM54 39h1v1h-1zM147 40h1v1h-1zM5 41h1v1h-1zM126 41h1v1h-1zM9 42h1v1h-1zM152 42h1v1h-1zM13 43h1v1h-1zM120 43h1v1h-1zM64 44h1v1h-1zM20 45h2v1h-2z"/>
<path fill="#e7490c" d="M86 34h1v1h-1zM83 35h1v1h-1zM189 35h1v1h-1zM94 36h1v1h-1zM140 36h1v1h-1zM32 38h1v1h-1zM144 38h1v1h-1zM4 41h1v1h-1zM75 41h1v1h-1zM103 41h1v1h-1zM27 42h1v1h-1zM124 42h1v1h-1zM165 42h1v1h-1zM12 43h1v1h-1zM16 44h1v1h-1zM24 44h1v1h-1zM68 44h1v1h-1zM22 45h1v1h-1z"/>
<path fill="#e5470b" d="M89 34h1v1h-1zM38 35h1v1h-1zM43 35h1v1h-1zM180 35h1v1h-1zM35 36h1v1h-1zM137 36h3v1h-3zM49 37h1v1h-1zM133 37h1v1h-1zM176 37h1v1h-1zM79 38h1v1h-1zM131 38h1v1h-1zM31 39h1v1h-1zM128 40h1v1h-1zM171 40h1v1h-1zM3 41h1v1h-1zM57 41h1v1h-1zM169 41h1v1h-1zM8 42h1v1h-1zM59 42h1v1h-1zM105 42h1v1h-1zM151 42h1v1h-1zM121 43h1v1h-1zM157 43h3v1h-3zM19 45h1v1h-1z"/>
<path fill="#e4450a" d="M87 34h2v1h-2zM39 35h1v1h-1zM92 35h1v1h-1zM46 36h1v1h-1zM178 36h1v1h-1zM192 37h1v1h-1zM173 39h1v1h-1zM30 40h1v1h-1zM55 40h1v1h-1zM100 40h1v1h-1zM1 41h2v1h-2zM7 42h1v1h-1zM166 42h1v1h-1zM11 43h1v1h-1zM26 43h1v1h-1zM61 43h1v1h-1zM72 43h1v1h-1zM107 43h1v1h-1zM156 43h1v1h-1zM160 43h1v1h-1zM15 44h1v1h-1zM63 44h1v1h-1zM69 44h1v1h-1zM112 44h3v1h-3z"/>
<path fill="#e2430a" d="M40 35h3v1h-3zM82 36h1v1h-1zM95 37h1v1h-1zM142 37h1v1h-1zM51 38h1v1h-1zM53 39h1v1h-1zM78 39h1v1h-1zM98 39h1v1h-1zM145 39h1v1h-1zM0 41h1v1h-1zM29 41h1v1h-1zM148 41h1v1h-1zM6 42h1v1h-1zM74 42h1v1h-1zM10 43h1v1h-1zM122 43h1v1h-1zM155 43h1v1h-1zM161 43h1v1h-1zM14 44h1v1h-1zM111 44h1v1h-1zM115 44h2v1h-2z"/>
<path fill="#e14109" d="M84 35h1v1h-1zM181 35h1v1h-1zM188 35h1v1h-1zM36 36h1v1h-1zM34 37h1v1h-1zM48 37h1v1h-1zM134 37h1v1h-1zM175 38h1v1h-1zM130 39h1v1h-1zM102 41h1v1h-1zM127 41h1v1h-1zM5 42h1v1h-1zM58 42h1v1h-1zM125 42h1v1h-1zM150 42h1v1h-1zM167 42h1v1h-1zM154 43h1v1h-1zM162 43h1v1h-1zM70 44h1v1h-1zM110 44h1v1h-1zM117 44h1v1h-1zM18 45h1v1h-1zM23 45h1v1h-1z"/>
<path fill="#df3f08" d="M91 35h1v1h-1zM45 36h1v1h-1zM190 36h1v1h-1zM77 40h1v1h-1zM56 41h1v1h-1zM170 41h1v1h-1zM4 42h1v1h-1zM28 42h1v1h-1zM104 42h1v1h-1zM9 43h1v1h-1zM60 43h1v1h-1zM106 43h1v1h-1zM13 44h1v1h-1zM25 44h1v1h-1zM109 44h1v1h-1zM118 44h1v1h-1zM65 45h2v1h-2z"/>
<path fill="#dd3d08" d="M182 35h1v1h-1zM187 35h1v1h-1zM37 36h1v1h-1zM93 36h1v1h-1zM81 37h1v1h-1zM135 37h1v1h-1zM141 37h1v1h-1zM177 37h1v1h-1zM33 38h1v1h-1zM50 38h1v1h-1zM96 38h1v1h-1zM132 38h1v1h-1zM143 38h1v1h-1zM146 40h1v1h-1zM172 40h1v1h-1zM76 41h1v1h-1zM2 42h2v1h-2zM8 43h1v1h-1zM73 43h1v1h-1zM123 43h1v1h-1zM153 43h1v1h-1zM163 43h1v1h-1zM12 44h1v1h-1zM62 44h1v1h-1zM119 44h1v1h-1zM17 45h1v1h-1zM67 45h1v1h-1zM21 46h1v1h-1z"/>
<path fill="#dc3b07" d="M85 35h1v1h-1zM183 35h1v1h-1zM186 35h1v1h-1zM44 36h1v1h-1zM179 36h1v1h-1zM47 37h1v1h-1zM32 39h1v1h-1zM52 39h1v1h-1zM54 40h1v1h-1zM99 40h1v1h-1zM129 40h1v1h-1zM101 41h1v1h-1zM0 42h2v1h-2zM149 42h1v1h-1zM168 42h1v1h-1zM7 43h1v1h-1zM27 43h1v1h-1zM164 43h1v1h-1zM11 44h1v1h-1zM71 44h1v1h-1zM108 44h1v1h-1zM120 44h1v1h-1zM16 45h1v1h-1zM64 45h1v1h-1zM20 46h1v1h-1z"/>
<path fill="#da3907" d="M90 35h1v1h-1zM184 35h2v1h-2zM38 36h1v1h-1zM43 36h1v1h-1zM35 37h1v1h-1zM136 37h1v1h-1zM191 37h1v1h-1zM49 38h1v1h-1zM80 38h1v1h-1zM97 39h1v1h-1zM174 39h1v1h-1zM31 40h1v1h-1zM30 41h1v1h-1zM147 41h1v1h-1zM57 42h1v1h-1zM126 42h1v1h-1zM6 43h1v1h-1zM59 43h1v1h-1zM152 43h1v1h-1zM165 43h1v1h-1zM10 44h1v1h-1zM15 45h1v1h-1zM24 45h1v1h-1zM68 45h1v1h-1zM22 46h1v1h-1z"/>
<path fill="#d83706" d="M86 35h1v1h-1zM89 35h1v1h-1zM39 36h1v1h-1zM83 36h1v1h-1zM189 36h1v1h-1zM46 37h1v1h-1zM94 37h1v1h-1zM137 37h1v1h-1zM140 37h1v1h-1zM176 38h1v1h-1zM144 39h1v1h-1zM128 41h1v1h-1zM171 41h1v1h-1zM75 42h1v1h-1zM103 42h1v1h-1zM5 43h1v1h-1zM105 43h1v1h-1zM124 43h1v1h-1zM26 44h1v1h-1zM61 44h1v1h-1zM121 44h1v1h-1zM158 44h1v1h-1zM14 45h1v1h-1zM63 45h1v1h-1zM69 45h1v1h-1zM19 46h1v1h-1z"/>
<path fill="#d63506" d="M87 35h2v1h-2zM40 36h3v1h-3zM92 36h1v1h-1zM180 36h1v1h-1zM36 37h1v1h-1zM138 37h2v1h-2zM178 37h1v1h-1zM34 38h1v1h-1zM133 38h1v1h-1zM51 39h1v1h-1zM79 39h1v1h-1zM131 39h1v1h-1zM55 41h1v1h-1zM29 42h1v1h-1zM169 42h1v1h-1zM3 43h2v1h-2zM151 43h1v1h-1zM166 43h1v1h-1zM9 44h1v1h-1zM72 44h1v1h-1zM107 44h1v1h-1zM156 44h2v1h-2zM159 44h2v1h-2zM13 45h1v1h-1z"/>
<path fill="#d43305" d="M45 37h1v1h-1zM48 38h1v1h-1zM95 38h1v1h-1zM142 38h1v1h-1zM192 38h1v1h-1zM53 40h1v1h-1zM78 40h1v1h-1zM98 40h1v1h-1zM145 40h1v1h-1zM173 40h1v1h-1zM100 41h1v1h-1zM148 42h1v1h-1zM1 43h2v1h-2zM28 43h1v1h-1zM58 43h1v1h-1zM74 43h1v1h-1zM8 44h1v1h-1zM122 44h1v1h-1zM155 44h1v1h-1zM161 44h1v1h-1zM12 45h1v1h-1zM25 45h1v1h-1zM70 45h1v1h-1zM111 45h6v1h-6zM18 46h1v1h-1zM23 46h1v1h-1z"/>
<path fill="#d23105" d="M84 36h1v1h-1zM181 36h1v1h-1zM188 36h1v1h-1zM37 37h1v1h-1zM82 37h1v1h-1zM134 38h1v1h-1zM33 39h1v1h-1zM50 39h1v1h-1zM175 39h1v1h-1zM130 40h1v1h-1zM77 41h1v1h-1zM56 42h1v1h-1zM102 42h1v1h-1zM127 42h1v1h-1zM0 43h1v1h-1zM125 43h1v1h-1zM150 43h1v1h-1zM167 43h1v1h-1zM7 44h1v1h-1zM60 44h1v1h-1zM154 44h1v1h-1zM162 44h1v1h-1zM11 45h1v1h-1zM62 45h1v1h-1zM110 45h1v1h-1zM117 45h1v1h-1zM17 46h1v1h-1z"/>
<path fill="#d02f05" d="M91 36h1v1h-1zM44 37h1v1h-1zM190 37h1v1h-1zM47 38h1v1h-1zM96 39h1v1h-1zM32 40h1v1h-1zM31 41h1v1h-1zM54 41h1v1h-1zM146 41h1v1h-1zM170 42h1v1h-1zM104 43h1v1h-1zM5 44h2v1h-2zM27 44h1v1h-1zM73 44h1v1h-1zM106 44h1v1h-1zM123 44h1v1h-1zM163 44h1v1h-1zM10 45h1v1h-1zM109 45h1v1h-1zM118 45h1v1h-1zM16 46h1v1h-1zM65 46h3v1h-3zM21 47h1v1h-1z"/>
<path fill="#ce2d04" d="M85 36h1v1h-1zM182 36h1v1h-1zM186 36h2v1h-2zM38 37h1v1h-1zM93 37h1v1h-1zM179 37h1v1h-1zM35 38h1v1h-1zM81 38h1v1h-1zM135 38h1v1h-1zM141 38h1v1h-1zM177 38h1v1h-1zM132 39h1v1h-1zM143 39h1v1h-1zM52 40h1v1h-1zM99 41h1v1h-1zM129 41h1v1h-1zM172 41h1v1h-1zM30 42h1v1h-1zM76 42h1v1h-1zM168 43h1v1h-1zM3 44h2v1h-2zM153 44h1v1h-1zM164 44h1v1h-1zM9 45h1v1h-1zM71 45h1v1h-1zM119 45h1v1h-1zM15 46h1v1h-1zM24 46h1v1h-1zM64 46h1v1h-1zM68 46h1v1h-1zM20 47h1v1h-1zM22 47h1v1h-1z"/>
<path fill="#cc2b04" d="M90 36h1v1h-1zM183 36h3v1h-3zM39 37h1v1h-1zM43 37h1v1h-1zM136 38h1v1h-1zM191 38h1v1h-1zM49 39h1v1h-1zM80 39h1v1h-1zM174 40h1v1h-1zM101 42h1v1h-1zM147 42h1v1h-1zM29 43h1v1h-1zM57 43h1v1h-1zM75 43h1v1h-1zM149 43h1v1h-1zM1 44h2v1h-2zM59 44h1v1h-1zM152 44h1v1h-1zM8 45h1v1h-1zM26 45h1v1h-1zM61 45h1v1h-1zM108 45h1v1h-1zM120 45h1v1h-1zM13 46h2v1h-2zM19 47h1v1h-1z"/>
<path fill="#ca2a04" d="M86 36h1v1h-1zM89 36h1v1h-1zM40 37h3v1h-3zM83 37h1v1h-1zM189 37h1v1h-1zM36 38h1v1h-1zM46 38h1v1h-1zM94 38h1v1h-1zM137 38h1v1h-1zM140 38h1v1h-1zM34 39h1v1h-1zM133 39h1v1h-1zM176 39h1v1h-1zM51 40h1v1h-1zM79 40h1v1h-1zM97 40h1v1h-1zM131 40h1v1h-1zM144 40h1v1h-1zM53 41h1v1h-1zM55 42h1v1h-1zM128 42h1v1h-1zM171 42h1v1h-1zM103 43h1v1h-1zM126 43h1v1h-1zM0 44h1v1h-1zM105 44h1v1h-1zM124 44h1v1h-1zM151 44h1v1h-1zM165 44h1v1h-1zM6 45h2v1h-2zM72 45h1v1h-1zM121 45h1v1h-1zM158 45h1v1h-1zM12 46h1v1h-1zM63 46h1v1h-1zM69 46h1v1h-1zM18 47h1v1h-1zM23 47h1v1h-1z"/>
<path fill="#c82803" d="M87 36h2v1h-2zM92 37h1v1h-1zM180 37h1v1h-1zM45 38h1v1h-1zM138 38h2v1h-2zM178 38h1v1h-1zM48 39h1v1h-1zM192 39h1v1h-1zM33 40h1v1h-1zM78 41h1v1h-1zM173 41h1v1h-1zM100 42h1v1h-1zM169 43h1v1h-1zM28 44h1v1h-1zM58 44h1v1h-1zM74 44h1v1h-1zM166 44h1v1h-1zM4 45h2v1h-2zM60 45h1v1h-1zM107 45h1v1h-1zM156 45h2v1h-2zM159 45h2v1h-2zM10 46h2v1h-2zM25 46h1v1h-1zM70 46h1v1h-1zM112 46h3v1h-3z"/>
<path fill="#c52603" d="M84 37h1v1h-1zM181 37h1v1h-1zM188 37h1v1h-1zM37 38h1v1h-1zM82 38h1v1h-1zM35 39h1v1h-1zM95 39h1v1h-1zM142 39h1v1h-1zM50 40h1v1h-1zM32 41h1v1h-1zM98 41h1v1h-1zM130 41h1v1h-1zM145 41h1v1h-1zM31 42h1v1h-1zM77 42h1v1h-1zM56 43h1v1h-1zM102 43h1v1h-1zM148 43h1v1h-1zM150 44h1v1h-1zM167 44h1v1h-1zM2 45h2v1h-2zM27 45h1v1h-1zM122 45h1v1h-1zM155 45h1v1h-1zM161 45h1v1h-1zM9 46h1v1h-1zM62 46h1v1h-1zM110 46h2v1h-2zM115 46h3v1h-3zM15 47h3v1h-3zM65 47h2v1h-2zM21 48h1v1h-1z"/>
<path fill="#c32503" d="M91 37h1v1h-1zM38 38h1v1h-1zM44 38h1v1h-1zM93 38h1v1h-1zM190 38h1v1h-1zM47 39h1v1h-1zM81 39h1v1h-1zM134 39h1v1h-1zM96 40h1v1h-1zM175 40h1v1h-1zM52 41h1v1h-1zM54 42h1v1h-1zM146 42h1v1h-1zM172 42h1v1h-1zM30 43h1v1h-1zM76 43h1v1h-1zM127 43h1v1h-1zM170 43h1v1h-1zM104 44h1v1h-1zM125 44h1v1h-1zM0 45h2v1h-2zM73 45h1v1h-1zM106 45h1v1h-1zM123 45h1v1h-1zM154 45h1v1h-1zM162 45h2v1h-2zM7 46h2v1h-2zM71 46h1v1h-1zM109 46h1v1h-1zM118 46h1v1h-1zM12 47h3v1h-3zM24 47h1v1h-1zM64 47h1v1h-1zM67 47h2v1h-2zM20 48h1v1h-1zM22 48h1v1h-1z"/>
<path fill="#c12302" d="M85 37h1v1h-1zM182 37h2v1h-2zM186 37h2v1h-2zM39 38h1v1h-1zM43 38h1v1h-1zM179 38h1v1h-1zM36 39h1v1h-1zM46 39h1v1h-1zM135 39h1v1h-1zM141 39h1v1h-1zM177 39h1v1h-1zM191 39h1v1h-1zM34 40h1v1h-1zM49 40h1v1h-1zM80 40h1v1h-1zM132 40h1v1h-1zM143 40h1v1h-1zM99 42h1v1h-1zM129 42h1v1h-1zM101 43h1v1h-1zM29 44h1v1h-1zM57 44h1v1h-1zM149 44h1v1h-1zM168 44h1v1h-1zM59 45h1v1h-1zM153 45h1v1h-1zM164 45h1v1h-1zM4 46h3v1h-3zM26 46h1v1h-1zM61 46h1v1h-1zM108 46h1v1h-1zM119 46h2v1h-2zM10 47h2v1h-2zM63 47h1v1h-1zM69 47h1v1h-1zM19 48h1v1h-1zM23 48h1v1h-1z"/>
<path fill="#be2102" d="M86 37h1v1h-1zM90 37h1v1h-1zM184 37h2v1h-2zM40 38h3v1h-3zM83 38h1v1h-1zM189 38h1v1h-1zM94 39h1v1h-1zM136 39h2v1h-2zM140 39h1v1h-1zM48 40h1v1h-1zM176 40h1v1h-1zM192 40h1v1h-1zM33 41h1v1h-1zM51 41h1v1h-1zM79 41h1v1h-1zM97 41h1v1h-1zM144 41h1v1h-1zM174 41h1v1h-1zM53 42h1v1h-1zM55 43h1v1h-1zM128 43h1v1h-1zM147 43h1v1h-1zM171 43h1v1h-1zM75 44h1v1h-1zM103 44h1v1h-1zM126 44h1v1h-1zM28 45h1v1h-1zM105 45h1v1h-1zM124 45h1v1h-1zM152 45h1v1h-1zM165 45h1v1h-1zM0 46h4v1h-4zM72 46h1v1h-1zM121 46h1v1h-1zM7 47h3v1h-3zM25 47h1v1h-1zM13 48h6v1h-6zM65 48h2v1h-2z"/>
<path fill="#bc2002" d="M87 37h3v1h-3zM92 38h1v1h-1zM180 38h1v1h-1zM37 39h1v1h-1zM45 39h1v1h-1zM138 39h2v1h-2zM178 39h1v1h-1zM35 40h1v1h-1zM95 40h1v1h-1zM133 40h1v1h-1zM142 40h1v1h-1zM50 41h1v1h-1zM131 41h1v1h-1zM32 42h1v1h-1zM78 42h1v1h-1zM98 42h1v1h-1zM145 42h1v1h-1zM173 42h1v1h-1zM31 43h1v1h-1zM100 43h1v1h-1zM30 44h1v1h-1zM56 44h1v1h-1zM148 44h1v1h-1zM169 44h1v1h-1zM58 45h1v1h-1zM74 45h1v1h-1zM151 45h1v1h-1zM166 45h1v1h-1zM27 46h1v1h-1zM60 46h1v1h-1zM107 46h1v1h-1zM122 46h1v1h-1zM156 46h5v1h-5zM4 47h3v1h-3zM62 47h1v1h-1zM70 47h1v1h-1zM111 47h5v1h-5zM10 48h3v1h-3zM24 48h1v1h-1zM64 48h1v1h-1zM67 48h1v1h-1z"/>
<path fill="#b91e02" d="M84 38h1v1h-1zM181 38h1v1h-1zM188 38h1v1h-1zM38 39h1v1h-1zM43 39h2v1h-2zM82 39h1v1h-1zM190 39h1v1h-1zM47 40h1v1h-1zM134 40h1v1h-1zM34 41h1v1h-1zM49 41h1v1h-1zM175 41h1v1h-1zM52 42h1v1h-1zM130 42h1v1h-1zM54 43h1v1h-1zM77 43h1v1h-1zM146 43h1v1h-1zM76 44h1v1h-1zM102 44h1v1h-1zM127 44h1v1h-1zM170 44h1v1h-1zM29 45h1v1h-1zM57 45h1v1h-1zM104 45h1v1h-1zM125 45h1v1h-1zM150 45h1v1h-1zM167 45h1v1h-1zM59 46h1v1h-1zM73 46h1v1h-1zM154 46h2v1h-2zM161 46h2v1h-2zM0 47h4v1h-4zM26 47h1v1h-1zM71 47h1v1h-1zM109 47h2v1h-2zM116 47h3v1h-3zM7 48h3v1h-3zM63 48h1v1h-1zM68 48h1v1h-1z"/>
<path fill="#b71d02" d="M85 38h1v1h-1zM91 38h1v1h-1zM182 38h2v1h-2zM185 38h3v1h-3zM39 39h4v1h-4zM93 39h1v1h-1zM179 39h1v1h-1zM36 40h1v1h-1zM46 40h1v1h-1zM81 40h1v1h-1zM135 40h1v1h-1zM141 40h1v1h-1zM177 40h1v1h-1zM191 40h1v1h-1zM80 41h1v1h-1zM96 41h1v1h-1zM132 41h1v1h-1zM143 41h1v1h-1zM33 42h1v1h-1zM51 42h1v1h-1zM174 42h1v1h-1zM32 43h1v1h-1zM53 43h1v1h-1zM99 43h1v1h-1zM129 43h1v1h-1zM172 43h1v1h-1zM55 44h1v1h-1zM101 44h1v1h-1zM75 45h1v1h-1zM149 45h1v1h-1zM168 45h1v1h-1zM28 46h1v1h-1zM106 46h1v1h-1zM123 46h1v1h-1zM152 46h2v1h-2zM163 46h2v1h-2zM61 47h1v1h-1zM72 47h1v1h-1zM108 47h1v1h-1zM119 47h2v1h-2zM3 48h4v1h-4zM25 48h1v1h-1zM69 48h1v1h-1z"/>
<path fill="#b41b01" d="M86 38h5v1h-5zM184 38h1v1h-1zM83 39h1v1h-1zM92 39h1v1h-1zM180 39h1v1h-1zM189 39h1v1h-1zM37 40h2v1h-2zM44 40h2v1h-2zM94 40h1v1h-1zM136 40h5v1h-5zM178 40h1v1h-1zM35 41h1v1h-1zM48 41h1v1h-1zM133 41h1v1h-1zM176 41h1v1h-1zM192 41h1v1h-1zM50 42h1v1h-1zM79 42h1v1h-1zM97 42h1v1h-1zM131 42h1v1h-1zM144 42h1v1h-1zM78 43h1v1h-1zM31 44h1v1h-1zM128 44h1v1h-1zM147 44h1v1h-1zM171 44h1v1h-1zM30 45h1v1h-1zM56 45h1v1h-1zM103 45h1v1h-1zM126 45h1v1h-1zM169 45h1v1h-1zM29 46h1v1h-1zM58 46h1v1h-1zM74 46h1v1h-1zM105 46h1v1h-1zM124 46h1v1h-1zM151 46h1v1h-1zM165 46h2v1h-2zM27 47h1v1h-1zM60 47h1v1h-1zM107 47h1v1h-1zM121 47h1v1h-1zM156 47h5v1h-5zM0 48h3v1h-3zM26 48h1v1h-1zM62 48h1v1h-1zM70 48h1v1h-1zM111 48h5v1h-5z"/>
<path fill="#b21a01" d="M84 39h1v1h-1zM91 39h1v1h-1zM181 39h1v1h-1zM188 39h1v1h-1zM39 40h2v1h-2zM42 40h2v1h-2zM82 40h1v1h-1zM190 40h1v1h-1zM36 41h1v1h-1zM46 41h2v1h-2zM95 41h1v1h-1zM134 41h1v1h-1zM142 41h1v1h-1zM34 42h1v1h-1zM49 42h1v1h-1zM175 42h1v1h-1zM33 43h1v1h-1zM52 43h1v1h-1zM98 43h1v1h-1zM130 43h1v1h-1zM145 43h1v1h-1zM173 43h1v1h-1zM54 44h1v1h-1zM77 44h1v1h-1zM100 44h1v1h-1zM55 45h1v1h-1zM76 45h1v1h-1zM102 45h1v1h-1zM127 45h1v1h-1zM148 45h1v1h-1zM170 45h1v1h-1zM57 46h1v1h-1zM104 46h1v1h-1zM125 46h1v1h-1zM150 46h1v1h-1zM167 46h1v1h-1zM28 47h1v1h-1zM59 47h1v1h-1zM73 47h1v1h-1zM106 47h1v1h-1zM122 47h2v1h-2zM154 47h2v1h-2zM161 47h3v1h-3zM61 48h1v1h-1zM71 48h1v1h-1zM109 48h2v1h-2zM116 48h3v1h-3z"/>
<path fill="#af1801" d="M85 39h2v1h-2zM90 39h1v1h-1zM182 39h6v1h-6zM41 40h1v1h-1zM83 40h1v1h-1zM93 40h1v1h-1zM179 40h1v1h-1zM37 41h2v1h-2zM45 41h1v1h-1zM81 41h1v1h-1zM94 41h1v1h-1zM135 41h2v1h-2zM140 41h2v1h-2zM177 41h1v1h-1zM191 41h1v1h-1zM35 42h1v1h-1zM48 42h1v1h-1zM80 42h1v1h-1zM96 42h1v1h-1zM132 42h1v1h-1zM143 42h1v1h-1zM192 42h1v1h-1zM50 43h2v1h-2zM79 43h1v1h-1zM97 43h1v1h-1zM144 43h1v1h-1zM174 43h1v1h-1zM32 44h1v1h-1zM53 44h1v1h-1zM99 44h1v1h-1zM129 44h1v1h-1zM146 44h1v1h-1zM172 44h1v1h-1zM31 45h1v1h-1zM101 45h1v1h-1zM147 45h1v1h-1zM30 46h1v1h-1zM56 46h1v1h-1zM75 46h1v1h-1zM103 46h1v1h-1zM126 46h1v1h-1zM149 46h1v1h-1zM168 46h1v1h-1zM29 47h1v1h-1zM58 47h1v1h-1zM74 47h1v1h-1zM105 47h1v1h-1zM124 47h1v1h-1zM151 47h3v1h-3zM164 47h2v1h-2zM27 48h1v1h-1zM60 48h1v1h-1zM72 48h1v1h-1zM108 48h1v1h-1zM119 48h3v1h-3zM157 48h3v1h-3z"/>
<path fill="#ac1701" d="M87 39h3v1h-3zM84 40h1v1h-1zM92 40h1v1h-1zM180 40h2v1h-2zM188 40h2v1h-2zM39 41h6v1h-6zM82 41h1v1h-1zM137 41h3v1h-3zM178 41h1v1h-1zM36 42h1v1h-1zM46 42h2v1h-2zM95 42h1v1h-1zM133 42h2v1h-2zM142 42h1v1h-1zM176 42h1v1h-1zM34 43h1v1h-1zM49 43h1v1h-1zM131 43h1v1h-1zM175 43h1v1h-1zM33 44h1v1h-1zM51 44h2v1h-2zM78 44h1v1h-1zM98 44h1v1h-1zM130 44h1v1h-1zM145 44h1v1h-1zM173 44h1v1h-1zM32 45h1v1h-1zM54 45h1v1h-1zM77 45h1v1h-1zM100 45h1v1h-1zM128 45h1v1h-1zM171 45h1v1h-1zM31 46h1v1h-1zM55 46h1v1h-1zM76 46h1v1h-1zM102 46h1v1h-1zM127 46h1v1h-1zM148 46h1v1h-1zM169 46h1v1h-1zM57 47h1v1h-1zM104 47h1v1h-1zM125 47h1v1h-1zM150 47h1v1h-1zM166 47h2v1h-2zM28 48h1v1h-1zM59 48h1v1h-1zM73 48h1v1h-1zM106 48h2v1h-2zM122 48h2v1h-2zM153 48h4v1h-4zM160 48h4v1h-4z"/>
<path fill="#a91601" d="M85 40h2v1h-2zM90 40h2v1h-2zM182 40h6v1h-6zM83 41h1v1h-1zM93 41h1v1h-1zM179 41h1v1h-1zM190 41h1v1h-1zM37 42h2v1h-2zM44 42h2v1h-2zM81 42h1v1h-1zM94 42h1v1h-1zM135 42h2v1h-2zM140 42h2v1h-2zM177 42h1v1h-1zM191 42h1v1h-1zM35 43h2v1h-2zM47 43h2v1h-2zM80 43h1v1h-1zM96 43h1v1h-1zM132 43h1v1h-1zM143 43h1v1h-1zM192 43h1v1h-1zM34 44h1v1h-1zM50 44h1v1h-1zM79 44h1v1h-1zM97 44h1v1h-1zM144 44h1v1h-1zM174 44h1v1h-1zM52 45h2v1h-2zM99 45h1v1h-1zM129 45h1v1h-1zM146 45h1v1h-1zM172 45h1v1h-1zM54 46h1v1h-1zM101 46h1v1h-1zM147 46h1v1h-1zM170 46h1v1h-1zM30 47h1v1h-1zM56 47h1v1h-1zM75 47h1v1h-1zM103 47h1v1h-1zM126 47h1v1h-1zM149 47h1v1h-1zM168 47h1v1h-1zM29 48h1v1h-1zM57 48h2v1h-2zM74 48h1v1h-1zM105 48h1v1h-1zM124 48h1v1h-1zM151 48h2v1h-2zM164 48h3v1h-3z"/>
<path fill="#a71401" d="M87 40h3v1h-3zM84 41h1v1h-1zM91 41h2v1h-2zM180 41h2v1h-2zM188 41h2v1h-2zM39 42h5v1h-5zM82 42h1v1h-1zM137 42h3v1h-3zM178 42h1v1h-1zM190 42h1v1h-1zM37 43h1v1h-1zM45 43h2v1h-2zM81 43h1v1h-1zM95 43h1v1h-1zM133 43h2v1h-2zM142 43h1v1h-1zM176 43h1v1h-1zM35 44h1v1h-1zM48 44h2v1h-2zM96 44h1v1h-1zM131 44h1v1h-1zM175 44h1v1h-1zM33 45h2v1h-2zM51 45h1v1h-1zM78 45h1v1h-1zM98 45h1v1h-1zM130 45h1v1h-1zM145 45h1v1h-1zM173 45h1v1h-1zM32 46h1v1h-1zM53 46h1v1h-1zM77 46h1v1h-1zM100 46h1v1h-1zM128 46h1v1h-1zM146 46h1v1h-1zM171 46h1v1h-1zM31 47h1v1h-1zM55 47h1v1h-1zM76 47h1v1h-1zM102 47h1v1h-1zM127 47h1v1h-1zM148 47h1v1h-1zM169 47h2v1h-2zM30 48h1v1h-1zM56 48h1v1h-1zM75 48h1v1h-1zM104 48h1v1h-1zM125 48h1v1h-1zM150 48h1v1h-1zM167 48h1v1h-1z"/>
<path fill="#a41301" d="M85 41h6v1h-6zM182 41h6v1h-6zM83 42h1v1h-1zM92 42h2v1h-2zM179 42h2v1h-2zM189 42h1v1h-1zM38 43h7v1h-7zM94 43h1v1h-1zM135 43h7v1h-7zM177 43h2v1h-2zM191 43h1v1h-1zM36 44h2v1h-2zM46 44h2v1h-2zM80 44h1v1h-1zM132 44h2v1h-2zM143 44h1v1h-1zM176 44h1v1h-1zM192 44h1v1h-1zM35 45h1v1h-1zM49 45h2v1h-2zM79 45h1v1h-1zM97 45h1v1h-1zM131 45h1v1h-1zM144 45h1v1h-1zM174 45h1v1h-1zM33 46h1v1h-1zM51 46h2v1h-2zM78 46h1v1h-1zM99 46h1v1h-1zM129 46h1v1h-1zM172 46h1v1h-1zM32 47h1v1h-1zM54 47h1v1h-1zM100 47h2v1h-2zM128 47h1v1h-1zM147 47h1v1h-1zM171 47h1v1h-1zM31 48h1v1h-1zM55 48h1v1h-1zM103 48h1v1h-1zM126 48h1v1h-1zM149 48h1v1h-1zM168 48h2v1h-2z"/>
<path fill="#a11201" d="M84 42h2v1h-2zM90 42h2v1h-2zM181 42h8v1h-8zM82 43h2v1h-2zM93 43h1v1h-1zM179 43h1v1h-1zM190 43h1v1h-1zM38 44h2v1h-2zM44 44h2v1h-2zM81 44h1v1h-1zM95 44h1v1h-1zM134 44h2v1h-2zM141 44h2v1h-2zM177 44h1v1h-1zM36 45h1v1h-1zM47 45h2v1h-2zM80 45h1v1h-1zM96 45h1v1h-1zM132 45h1v1h-1zM143 45h1v1h-1zM175 45h1v1h-1zM34 46h1v1h-1zM50 46h1v1h-1zM98 46h1v1h-1zM130 46h1v1h-1zM145 46h1v1h-1zM173 46h1v1h-1zM33 47h1v1h-1zM52 47h2v1h-2zM77 47h1v1h-1zM99 47h1v1h-1zM129 47h1v1h-1zM146 47h1v1h-1zM172 47h1v1h-1zM32 48h1v1h-1zM54 48h1v1h-1zM76 48h1v1h-1zM101 48h2v1h-2zM127 48h1v1h-1zM148 48h1v1h-1zM170 48h1v1h-1z"/>
<path fill="#9e1001" d="M86 42h4v1h-4zM84 43h1v1h-1zM92 43h1v1h-1zM180 43h2v1h-2zM188 43h2v1h-2zM40 44h4v1h-4zM82 44h1v1h-1zM94 44h1v1h-1zM136 44h5v1h-5zM178 44h1v1h-1zM191 44h1v1h-1zM37 45h2v1h-2zM45 45h2v1h-2zM95 45h1v1h-1zM133 45h2v1h-2zM142 45h1v1h-1zM176 45h1v1h-1zM192 45h1v1h-1zM35 46h2v1h-2zM48 46h2v1h-2zM79 46h1v1h-1zM97 46h1v1h-1zM131 46h1v1h-1zM144 46h1v1h-1zM174 46h1v1h-1zM34 47h1v1h-1zM50 47h2v1h-2zM78 47h1v1h-1zM98 47h1v1h-1zM130 47h1v1h-1zM145 47h1v1h-1zM173 47h1v1h-1zM33 48h1v1h-1zM52 48h2v1h-2zM77 48h1v1h-1zM100 48h1v1h-1zM128 48h1v1h-1zM147 48h1v1h-1zM171 48h1v1h-1z"/>
<path fill="#9b0f01" d="M85 43h7v1h-7zM182 43h6v1h-6zM83 44h1v1h-1zM92 44h2v1h-2zM179 44h2v1h-2zM189 44h2v1h-2zM39 45h6v1h-6zM81 45h1v1h-1zM94 45h1v1h-1zM135 45h3v1h-3zM139 45h3v1h-3zM177 45h1v1h-1zM191 45h1v1h-1zM37 46h1v1h-1zM46 46h2v1h-2zM80 46h1v1h-1zM96 46h1v1h-1zM132 46h2v1h-2zM143 46h1v1h-1zM175 46h2v1h-2zM35 47h1v1h-1zM48 47h2v1h-2zM79 47h1v1h-1zM97 47h1v1h-1zM131 47h1v1h-1zM144 47h1v1h-1zM174 47h1v1h-1zM34 48h1v1h-1zM51 48h1v1h-1zM78 48h1v1h-1zM99 48h1v1h-1zM129 48h1v1h-1zM146 48h1v1h-1zM172 48h1v1h-1z"/>
<path fill="#980e01" d="M84 44h2v1h-2zM91 44h1v1h-1zM181 44h3v1h-3zM186 44h3v1h-3zM82 45h1v1h-1zM93 45h1v1h-1zM138 45h1v1h-1zM178 45h2v1h-2zM190 45h1v1h-1zM38 46h8v1h-8zM81 46h1v1h-1zM95 46h1v1h-1zM134 46h2v1h-2zM141 46h2v1h-2zM177 46h1v1h-1zM192 46h1v1h-1zM36 47h2v1h-2zM46 47h2v1h-2zM80 47h1v1h-1zM96 47h1v1h-1zM132 47h1v1h-1zM143 47h1v1h-1zM175 47h1v1h-1zM35 48h1v1h-1zM49 48h2v1h-2zM79 48h1v1h-1zM98 48h1v1h-1zM130 48h1v1h-1zM145 48h1v1h-1zM173 48h2v1h-2z"/>
<path fill="#950d01" d="M86 44h5v1h-5zM184 44h2v1h-2zM83 45h2v1h-2zM91 45h2v1h-2zM180 45h2v1h-2zM188 45h2v1h-2zM82 46h1v1h-1zM93 46h2v1h-2zM136 46h5v1h-5zM178 46h1v1h-1zM190 46h2v1h-2zM38 47h3v1h-3zM43 47h3v1h-3zM81 47h1v1h-1zM95 47h1v1h-1zM133 47h2v1h-2zM142 47h1v1h-1zM176 47h2v1h-2zM192 47h1v1h-1zM36 48h2v1h-2zM46 48h3v1h-3zM80 48h1v1h-1zM96 48h2v1h-2zM131 48h2v1h-2zM143 48h2v1h-2zM175 48h1v1h-1z"/>
<path fill="#920b01" d="M85 45h6v1h-6zM182 45h6v1h-6zM83 46h2v1h-2zM92 46h1v1h-1zM179 46h3v1h-3zM188 46h2v1h-2zM41 47h2v1h-2zM82 47h1v1h-1zM93 47h2v1h-2zM135 47h7v1h-7zM178 47h2v1h-2zM190 47h2v1h-2zM38 48h8v1h-8zM81 48h1v1h-1zM95 48h1v1h-1zM133 48h3v1h-3zM141 48h2v1h-2zM176 48h2v1h-2zM191 48h2v1h-2z"/>
<path fill="#8e0a01" d="M85 46h7v1h-7zM182 46h6v1h-6zM83 47h3v1h-3zM90 47h3v1h-3zM180 47h10v1h-10zM82 48h2v1h-2zM93 48h2v1h-2zM136 48h5v1h-5zM178 48h3v1h-3zM189 48h2v1h-2z"/>
<path fill="#8b0902" d="M86 47h4v1h-4zM84 48h9v1h-9zM181 48h8v1h-8z"/>
<path fill="#050008" d="M88 0h1v1h-1z"/>
</g></g>
<g stroke="#000" stroke-width="1.15" fill="none" stroke-linecap="butt">
<path d="M99.90 134.70H1000.10V534.90H99.90Z"/>
<path stroke-width="1.25" d="M99.90 134.70v-7.4M99.90 534.90v7.6M128.03 134.70v-7.4M128.03 534.90v7.6M156.16 134.70v-7.4M156.16 534.90v7.6M184.29 134.70v-7.4M184.29 534.90v7.6M212.43 134.70v-7.4M212.43 534.90v7.6M240.56 134.70v-7.4M240.56 534.90v7.6M268.69 134.70v-7.4M268.69 534.90v7.6M296.82 134.70v-7.4M296.82 534.90v7.6M324.95 134.70v-7.4M324.95 534.90v7.6M353.08 134.70v-7.4M353.08 534.90v7.6M381.21 134.70v-7.4M381.21 534.90v7.6M409.34 134.70v-7.4M409.34 534.90v7.6M437.48 134.70v-7.4M437.48 534.90v7.6M465.61 134.70v-7.4M465.61 534.90v7.6M493.74 134.70v-7.4M493.74 534.90v7.6M521.87 134.70v-7.4M521.87 534.90v7.6M550.00 134.70v-7.4M550.00 534.90v7.6M578.13 134.70v-7.4M578.13 534.90v7.6M606.26 134.70v-7.4M606.26 534.90v7.6M634.39 134.70v-7.4M634.39 534.90v7.6M662.52 134.70v-7.4M662.52 534.90v7.6M690.66 134.70v-7.4M690.66 534.90v7.6M718.79 134.70v-7.4M718.79 534.90v7.6M746.92 134.70v-7.4M746.92 534.90v7.6M775.05 134.70v-7.4M775.05 534.90v7.6M803.18 134.70v-7.4M803.18 534.90v7.6M831.31 134.70v-7.4M831.31 534.90v7.6M859.44 134.70v-7.4M859.44 534.90v7.6M887.58 134.70v-7.4M887.58 534.90v7.6M915.71 134.70v-7.4M915.71 534.90v7.6M943.84 134.70v-7.4M943.84 534.90v7.6M971.97 134.70v-7.4M971.97 534.90v7.6M1000.10 134.70v-7.4M1000.10 534.90v7.6"/>
<path stroke-width="1.25" d="M99.90 134.70h-7.8M1000.10 134.70h7.8M99.90 143.04h-3.9M1000.10 143.04h3.9M99.90 151.38h-3.9M1000.10 151.38h3.9M99.90 159.71h-3.9M1000.10 159.71h3.9M99.90 168.05h-3.9M1000.10 168.05h3.9M99.90 176.39h-7.8M1000.10 176.39h7.8M99.90 184.72h-3.9M1000.10 184.72h3.9M99.90 193.06h-3.9M1000.10 193.06h3.9M99.90 201.40h-3.9M1000.10 201.40h3.9M99.90 209.74h-3.9M1000.10 209.74h3.9M99.90 218.07h-7.8M1000.10 218.07h7.8M99.90 226.41h-3.9M1000.10 226.41h3.9M99.90 234.75h-3.9M1000.10 234.75h3.9M99.90 243.09h-3.9M1000.10 243.09h3.9M99.90 251.43h-3.9M1000.10 251.43h3.9M99.90 259.76h-7.8M1000.10 259.76h7.8M99.90 268.10h-3.9M1000.10 268.10h3.9M99.90 276.44h-3.9M1000.10 276.44h3.9M99.90 284.77h-3.9M1000.10 284.77h3.9M99.90 293.11h-3.9M1000.10 293.11h3.9M99.90 301.45h-7.8M1000.10 301.45h7.8M99.90 309.79h-3.9M1000.10 309.79h3.9M99.90 318.12h-3.9M1000.10 318.12h3.9M99.90 326.46h-3.9M1000.10 326.46h3.9M99.90 334.80h-3.9M1000.10 334.80h3.9M99.90 343.14h-7.8M1000.10 343.14h7.8M99.90 351.47h-3.9M1000.10 351.47h3.9M99.90 359.81h-3.9M1000.10 359.81h3.9M99.90 368.15h-3.9M1000.10 368.15h3.9M99.90 376.49h-3.9M1000.10 376.49h3.9M99.90 384.82h-7.8M1000.10 384.82h7.8M99.90 393.16h-3.9M1000.10 393.16h3.9M99.90 401.50h-3.9M1000.10 401.50h3.9M99.90 409.84h-3.9M1000.10 409.84h3.9M99.90 418.17h-3.9M1000.10 418.17h3.9M99.90 426.51h-7.8M1000.10 426.51h7.8M99.90 434.85h-3.9M1000.10 434.85h3.9M99.90 443.19h-3.9M1000.10 443.19h3.9M99.90 451.52h-3.9M1000.10 451.52h3.9M99.90 459.86h-3.9M1000.10 459.86h3.9M99.90 468.20h-7.8M1000.10 468.20h7.8M99.90 476.54h-3.9M1000.10 476.54h3.9M99.90 484.87h-3.9M1000.10 484.87h3.9M99.90 493.21h-3.9M1000.10 493.21h3.9M99.90 501.55h-3.9M1000.10 501.55h3.9M99.90 509.89h-7.8M1000.10 509.89h7.8M99.90 518.23h-3.9M1000.10 518.23h3.9M99.90 526.56h-3.9M1000.10 526.56h3.9M99.90 534.90h-3.9M1000.10 534.90h3.9"/>
</g>
<rect x="1030.30" y="134.70" width="20.10" height="400.20" fill="url(#cb)"/>
<g stroke="#000" fill="none">
<path stroke-width="2.9" stroke-linejoin="round" d="M1030.30 135.20H1050.40V534.60H1030.30Z"/>
<path stroke-width="1" d="M1030.30 184.30H1057.80M1030.30 245.40H1057.80M1030.30 306.60H1057.80M1030.30 367.90H1057.80M1030.30 429.30H1057.80M1030.30 490.40H1057.80"/>
</g>
</svg><div style="position:absolute;left:0;top:0;width:1100px;height:750px;filter:grayscale(1);"><div class="t b" style="top:11.77px;font-size:27.80px;left:550.00px;transform:translateX(-50%);">University of Southern Mississippi Ocean Cube (AMSEAS)</div>
<div class="t b" style="top:711.77px;font-size:27.80px;left:550.00px;transform:translateX(-50%);">University of Southern Mississippi Ocean Cube (AMSEAS)</div>
<div class="t b" style="top:57.88px;font-size:21.40px;left:99.70px;">USMR1</div>
<div class="t " style="top:87.17px;font-size:22.25px;left:100.00px;">30.0770N&nbsp; 88.5830W</div>
<div class="t b" style="top:84.35px;font-size:25.10px;left:549.30px;transform:translateX(-50%);">2-D Salinity at Depth</div>
<div class="t b" style="top:57.14px;font-size:22.28px;right:100.10px;">Model Start Time</div>
<div class="t b" style="top:87.14px;font-size:22.28px;right:100.00px;">07/15/2024 Hour 00</div>
<div class="t " style="top:113.05px;font-size:14.00px;left:1041.50px;transform:translateX(-50%);">psu</div>
<div class="t b" style="top:178.90px;font-size:11.10px;left:1063.50px;">33.188</div>
<div class="t b" style="top:240.00px;font-size:11.10px;left:1063.50px;">32.625</div>
<div class="t b" style="top:301.20px;font-size:11.10px;left:1063.50px;">32.062</div>
<div class="t b" style="top:362.50px;font-size:11.10px;left:1063.50px;">31.500</div>
<div class="t b" style="top:423.90px;font-size:11.10px;left:1063.50px;">30.938</div>
<div class="t b" style="top:485.00px;font-size:11.10px;left:1063.50px;">30.375</div>
<div class="t " style="top:127.70px;font-size:16.20px;right:1013.40px;">0</div>
<div class="t " style="top:169.39px;font-size:16.20px;right:1013.40px;">5</div>
<div class="t " style="top:211.07px;font-size:16.20px;right:1013.40px;">10</div>
<div class="t " style="top:252.76px;font-size:16.20px;right:1013.40px;">15</div>
<div class="t " style="top:294.45px;font-size:16.20px;right:1013.40px;">20</div>
<div class="t " style="top:336.14px;font-size:16.20px;right:1013.40px;">25</div>
<div class="t " style="top:377.82px;font-size:16.20px;right:1013.40px;">30</div>
<div class="t " style="top:419.51px;font-size:16.20px;right:1013.40px;">35</div>
<div class="t " style="top:461.20px;font-size:16.20px;right:1013.40px;">40</div>
<div class="t " style="top:502.89px;font-size:16.20px;right:1013.40px;">45</div>
<div class="t " style="top:547.09px;font-size:16.20px;left:99.70px;transform:translateX(-50%);">0</div>
<div class="t " style="top:547.09px;font-size:16.20px;left:127.83px;transform:translateX(-50%);">3</div>
<div class="t " style="top:547.09px;font-size:16.20px;left:155.96px;transform:translateX(-50%);">6</div>
<div class="t " style="top:547.09px;font-size:16.20px;left:184.09px;transform:translateX(-50%);">9</div>
<div class="t " style="top:547.09px;font-size:16.20px;left:212.23px;transform:translateX(-50%);">12</div>
<div class="t " style="top:547.09px;font-size:16.20px;left:240.36px;transform:translateX(-50%);">15</div>
<div class="t " style="top:547.09px;font-size:16.20px;left:268.49px;transform:translateX(-50%);">18</div>
<div class="t " style="top:547.09px;font-size:16.20px;left:296.62px;transform:translateX(-50%);">21</div>
<div class="t " style="top:547.09px;font-size:16.20px;left:324.75px;transform:translateX(-50%);">0</div>
<div class="t " style="top:547.09px;font-size:16.20px;left:352.88px;transform:translateX(-50%);">3</div>
<div class="t " style="top:547.09px;font-size:16.20px;left:381.01px;transform:translateX(-50%);">6</div>
<div class="t " style="top:547.09px;font-size:16.20px;left:409.14px;transform:translateX(-50%);">9</div>
<div class="t " style="top:547.09px;font-size:16.20px;left:437.28px;transform:translateX(-50%);">12</div>
<div class="t " style="top:547.09px;font-size:16.20px;left:465.41px;transform:translateX(-50%);">15</div>
<div class="t " style="top:547.09px;font-size:16.20px;left:493.54px;transform:translateX(-50%);">18</div>
<div class="t " style="top:547.09px;font-size:16.20px;left:521.67px;transform:translateX(-50%);">21</div>
<div class="t " style="top:547.09px;font-size:16.20px;left:549.80px;transform:translateX(-50%);">0</div>
<div class="t " style="top:547.09px;font-size:16.20px;left:577.93px;transform:translateX(-50%);">3</div>
<div class="t " style="top:547.09px;font-size:16.20px;left:606.06px;transform:translateX(-50%);">6</div>
<div class="t " style="top:547.09px;font-size:16.20px;left:634.19px;transform:translateX(-50%);">9</div>
<div class="t " style="top:547.09px;font-size:16.20px;left:662.32px;transform:translateX(-50%);">12</div>
<div class="t " style="top:547.09px;font-size:16.20px;left:690.46px;transform:translateX(-50%);">15</div>
<div class="t " style="top:547.09px;font-size:16.20px;left:718.59px;transform:translateX(-50%);">18</div>
<div class="t " style="top:547.09px;font-size:16.20px;left:746.72px;transform:translateX(-50%);">21</div>
<div class="t " style="top:547.09px;font-size:16.20px;left:774.85px;transform:translateX(-50%);">0</div>
<div class="t " style="top:547.09px;font-size:16.20px;left:802.98px;transform:translateX(-50%);">3</div>
<div class="t " style="top:547.09px;font-size:16.20px;left:831.11px;transform:translateX(-50%);">6</div>
<div class="t " style="top:547.09px;font-size:16.20px;left:859.24px;transform:translateX(-50%);">9</div>
<div class="t " style="top:547.09px;font-size:16.20px;left:887.38px;transform:translateX(-50%);">12</div>
<div class="t " style="top:547.09px;font-size:16.20px;left:915.51px;transform:translateX(-50%);">15</div>
<div class="t " style="top:547.09px;font-size:16.20px;left:943.64px;transform:translateX(-50%);">18</div>
<div class="t " style="top:547.09px;font-size:16.20px;left:971.77px;transform:translateX(-50%);">21</div>
<div class="t " style="top:547.09px;font-size:16.20px;left:999.90px;transform:translateX(-50%);">0</div>
<div class="t m" style="top:569.90px;font-size:10.40px;left:212.93px;transform:translateX(-50%);">JUL 15</div>
<div class="t m" style="top:569.90px;font-size:10.40px;left:437.98px;transform:translateX(-50%);">JUL 16</div>
<div class="t m" style="top:569.90px;font-size:10.40px;left:663.02px;transform:translateX(-50%);">JUL 17</div>
<div class="t m" style="top:569.90px;font-size:10.40px;left:888.08px;transform:translateX(-50%);">JUL 18</div>
<div class="t b" style="top:585.78px;font-size:22.35px;left:550.00px;transform:translateX(-50%);">Forecast Time(Z)</div>
<div class="t b" style="left:45.85px;top:334.5px;font-size:21.85px;transform:translate(-50%,-50%) rotate(-90deg);">Depth (ft)</div></div>
</body></html>
